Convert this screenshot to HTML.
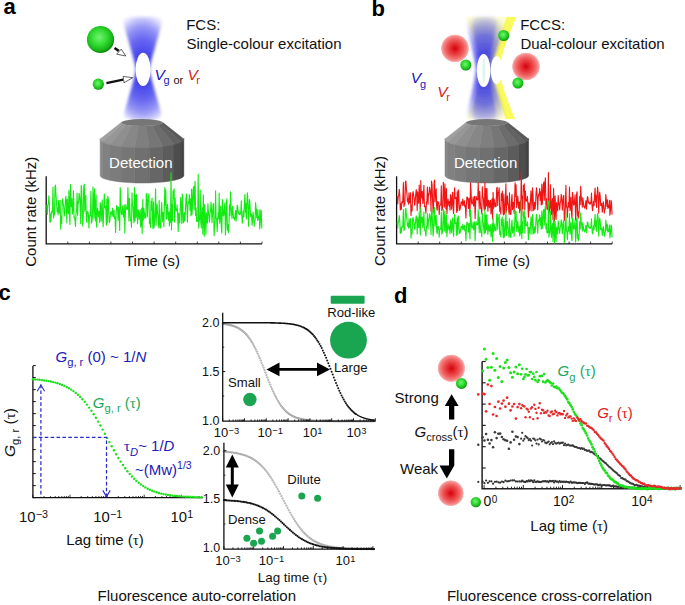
<!DOCTYPE html>
<html><head><meta charset="utf-8"><title>FCS / FCCS</title>
<style>
html,body{margin:0;padding:0;background:#fff;}
body{width:685px;height:605px;overflow:hidden;font-family:"Liberation Sans",sans-serif;}
svg{display:block;}
</style></head><body>
<svg width="685" height="605" viewBox="0 0 685 605">
<rect width="685" height="605" fill="#fff"/>
<defs>
<radialGradient id="gs" cx="0.45" cy="0.42" r="0.6">
 <stop offset="0" stop-color="#72f472"/><stop offset="0.45" stop-color="#36de36"/><stop offset="0.8" stop-color="#18b618"/><stop offset="1" stop-color="#067e06"/>
</radialGradient>
<radialGradient id="rs" cx="0.5" cy="0.5" r="0.5">
 <stop offset="0" stop-color="#d4000c"/><stop offset="0.3" stop-color="#e42c30"/><stop offset="0.62" stop-color="#ee5c5c"/><stop offset="0.86" stop-color="#f58c8c"/><stop offset="0.95" stop-color="#f8a8a8" stop-opacity="0.85"/><stop offset="1" stop-color="#fab8b8" stop-opacity="0"/>
</radialGradient>
<radialGradient id="beam" gradientUnits="userSpaceOnUse" cx="142.7" cy="69.5" r="55" gradientTransform="translate(142.7,69.5) scale(0.62,1) translate(-142.7,-69.5)">
 <stop offset="0" stop-color="#3a3aea"/><stop offset="0.3" stop-color="#4848ec"/><stop offset="0.55" stop-color="#6666f0"/><stop offset="0.78" stop-color="#9696f6"/><stop offset="0.93" stop-color="#cacafb"/><stop offset="1" stop-color="#e8e8ff"/>
</radialGradient>
<radialGradient id="beamb" gradientUnits="userSpaceOnUse" cx="484.5" cy="70" r="57" gradientTransform="translate(484.5,70) scale(0.6,1) translate(-484.5,-70)">
 <stop offset="0" stop-color="#3030e8" stop-opacity="0.72"/><stop offset="0.35" stop-color="#3838ea" stop-opacity="0.64"/><stop offset="0.6" stop-color="#4646ec" stop-opacity="0.52"/><stop offset="0.8" stop-color="#5c5cee" stop-opacity="0.32"/><stop offset="0.93" stop-color="#7070f0" stop-opacity="0.13"/><stop offset="1" stop-color="#8080f4" stop-opacity="0.03"/>
</radialGradient>
<linearGradient id="ybeam" x1="0" y1="0" x2="0" y2="1">
 <stop offset="0" stop-color="#ffffe0"/><stop offset="0.12" stop-color="#ffffa8"/><stop offset="0.5" stop-color="#fbfb78"/><stop offset="0.88" stop-color="#ffffa8"/><stop offset="1" stop-color="#ffffe0"/>
</linearGradient>
<linearGradient id="cyl" x1="0" y1="0" x2="1" y2="0">
 <stop offset="0" stop-color="#888"/><stop offset="0.3" stop-color="#7c7c7c"/><stop offset="0.6" stop-color="#686868"/><stop offset="0.85" stop-color="#4a4a4a"/><stop offset="1" stop-color="#404040"/>
</linearGradient>
<linearGradient id="cone" x1="0" y1="0" x2="1" y2="0">
 <stop offset="0" stop-color="#8e8e8e"/><stop offset="0.35" stop-color="#7e7e7e"/><stop offset="0.65" stop-color="#6e6e6e"/><stop offset="1" stop-color="#555"/>
</linearGradient>
<filter id="bl" x="-20%" y="-20%" width="140%" height="140%"><feGaussianBlur stdDeviation="1.5"/></filter>
<filter id="bl03" x="-5%" y="-5%" width="110%" height="110%"><feGaussianBlur stdDeviation="0.35"/></filter>
<filter id="bl06" x="-20%" y="-20%" width="140%" height="140%"><feGaussianBlur stdDeviation="0.7"/></filter>
<filter id="bl1" x="-20%" y="-20%" width="140%" height="140%"><feGaussianBlur stdDeviation="0.5"/></filter>
</defs>
<text x="3.4" y="14.4" font-size="22" font-weight="bold" font-family="Liberation Sans, sans-serif">a</text>
<path d="M131.1,16.8 L125.2,18.5 L123.8,20.2 L123.3,22.0 L123.5,23.7 L124.0,25.4 L124.5,27.1 L125.0,28.8 L125.5,30.6 L126.0,32.3 L126.5,34.0 L127.0,35.7 L127.5,37.4 L128.0,39.2 L128.5,40.9 L129.0,42.6 L129.5,44.3 L130.0,46.0 L130.4,47.8 L130.9,49.5 L131.4,51.2 L131.9,52.9 L132.4,54.6 L132.9,56.4 L133.4,58.1 L133.8,59.8 L134.3,61.5 L134.7,63.2 L135.1,65.0 L135.4,66.7 L135.7,68.4 L135.7,70.1 L135.5,71.8 L135.2,73.6 L134.8,75.3 L134.4,77.0 L133.9,78.7 L133.5,80.4 L133.0,82.2 L132.5,83.9 L132.0,85.6 L131.6,87.3 L131.1,89.0 L130.6,90.8 L130.1,92.5 L129.6,94.2 L129.1,95.9 L128.6,97.6 L128.1,99.4 L127.6,101.1 L127.1,102.8 L126.6,104.5 L126.1,106.2 L125.6,108.0 L125.2,109.7 L124.7,111.4 L124.2,113.1 L124.0,114.8 L124.4,116.6 L125.8,118.3 L131.4,120.0 L154.0,120.0 L159.6,118.3 L161.0,116.6 L161.4,114.8 L161.2,113.1 L160.7,111.4 L160.2,109.7 L159.8,108.0 L159.3,106.2 L158.8,104.5 L158.3,102.8 L157.8,101.1 L157.3,99.4 L156.8,97.6 L156.3,95.9 L155.8,94.2 L155.3,92.5 L154.8,90.8 L154.3,89.0 L153.8,87.3 L153.4,85.6 L152.9,83.9 L152.4,82.2 L151.9,80.4 L151.5,78.7 L151.0,77.0 L150.6,75.3 L150.2,73.6 L149.9,71.8 L149.7,70.1 L149.7,68.4 L150.0,66.7 L150.3,65.0 L150.7,63.2 L151.1,61.5 L151.6,59.8 L152.0,58.1 L152.5,56.4 L153.0,54.6 L153.5,52.9 L154.0,51.2 L154.5,49.5 L155.0,47.8 L155.4,46.0 L155.9,44.3 L156.4,42.6 L156.9,40.9 L157.4,39.2 L157.9,37.4 L158.4,35.7 L158.9,34.0 L159.4,32.3 L159.9,30.6 L160.4,28.8 L160.9,27.1 L161.4,25.4 L161.9,23.7 L162.1,22.0 L161.6,20.2 L160.2,18.5 L154.3,16.8Z" fill="url(#beam)" filter="url(#bl)"/>
<ellipse cx="143.1" cy="69.4" rx="7.5" ry="16.6" fill="#fff" filter="url(#bl03)"/>
<circle cx="100.5" cy="39.5" r="13.6" fill="url(#gs)"/>
<circle cx="98.3" cy="84.2" r="5.6" fill="url(#gs)"/>
<line x1="114.5" y1="48.0" x2="118.8" y2="50.8" stroke="#111" stroke-width="2.6"/>
<path d="M121.2,49.2 L116.6,54.2 L125.8,56 Z" fill="#fff" stroke="#222" stroke-width="0.7"/>
<line x1="106.4" y1="83.2" x2="123.2" y2="79.6" stroke="#111" stroke-width="2.2"/>
<path d="M123.2,76.4 L124.0,82.8 L132.7,77.7 Z" fill="#fff" stroke="#222" stroke-width="0.7"/>
<text x="186.2" y="29.7" font-size="15" font-family="Liberation Sans, sans-serif" fill="#111">FCS:</text>
<text x="186.4" y="48.6" font-size="15" font-family="Liberation Sans, sans-serif" fill="#111">Single-colour excitation</text>
<text x="154.6" y="80" font-size="15.5" font-style="italic" font-family="Liberation Sans, sans-serif" fill="#2020b8">V</text>
<text x="163.4" y="84.0" font-size="11" font-family="Liberation Sans, sans-serif" fill="#2020b8">g</text>
<text x="173.4" y="83.9" font-size="11" font-family="Liberation Sans, sans-serif" fill="#111">or</text>
<text x="187.6" y="80" font-size="15.5" font-style="italic" font-family="Liberation Sans, sans-serif" fill="#dc2024">V</text>
<text x="196.3" y="84.2" font-size="11" font-family="Liberation Sans, sans-serif" fill="#dc2024">r</text>
<g filter="url(#bl03)"><polygon points="100.20,138.40 100.36,139.16 100.84,139.91 101.62,140.65 102.72,141.38 102.72,178.07 101.62,177.44 100.84,176.80 100.36,176.15 100.20,175.50" fill="rgb(134,134,134)" stroke="rgb(134,134,134)" stroke-width="0.5"/><polygon points="102.72,141.38 104.12,142.08 105.80,142.75 107.76,143.39 109.98,143.99 109.98,180.32 107.76,179.80 105.80,179.25 104.12,178.67 102.72,178.07" fill="rgb(129,129,129)" stroke="rgb(129,129,129)" stroke-width="0.5"/><polygon points="109.98,143.99 112.44,144.55 115.13,145.06 118.02,145.53 121.10,145.93 121.10,182.00 118.02,181.64 115.13,181.25 112.44,180.80 109.98,180.32" fill="rgb(124,124,124)" stroke="rgb(124,124,124)" stroke-width="0.5"/><polygon points="121.10,145.93 124.33,146.28 127.70,146.58 131.18,146.80 134.74,146.97 134.74,182.89 131.18,182.74 127.70,182.55 124.33,182.30 121.10,182.00" fill="rgb(118,118,118)" stroke="rgb(118,118,118)" stroke-width="0.5"/><polygon points="134.74,146.97 138.36,147.07 142.00,147.10 145.64,147.07 149.26,146.97 149.26,182.89 145.64,182.97 142.00,183.00 138.36,182.97 134.74,182.89" fill="rgb(111,111,111)" stroke="rgb(111,111,111)" stroke-width="0.5"/><polygon points="149.26,146.97 152.82,146.80 156.30,146.58 159.67,146.28 162.90,145.93 162.90,182.00 159.67,182.30 156.30,182.55 152.82,182.74 149.26,182.89" fill="rgb(102,102,102)" stroke="rgb(102,102,102)" stroke-width="0.5"/><polygon points="162.90,145.93 165.98,145.53 168.87,145.06 171.56,144.55 174.02,143.99 174.02,180.32 171.56,180.80 168.87,181.25 165.98,181.64 162.90,182.00" fill="rgb(91,91,91)" stroke="rgb(91,91,91)" stroke-width="0.5"/><polygon points="174.02,143.99 176.24,143.39 178.20,142.75 179.88,142.08 181.28,141.38 181.28,178.07 179.88,178.67 178.20,179.25 176.24,179.80 174.02,180.32" fill="rgb(77,77,77)" stroke="rgb(77,77,77)" stroke-width="0.5"/><polygon points="181.28,141.38 182.38,140.65 183.16,139.91 183.64,139.16 183.80,138.40 183.80,175.50 183.64,176.15 183.16,176.80 182.38,177.44 181.28,178.07" fill="rgb(63,63,63)" stroke="rgb(63,63,63)" stroke-width="0.5"/><polygon points="121.10,122.60 121.18,122.90 121.42,123.19 121.81,123.48 122.36,123.76 102.72,141.98 101.62,141.25 100.84,140.51 100.36,139.76 100.20,139.00" fill="rgb(160,160,160)" stroke="rgb(160,160,160)" stroke-width="0.5"/><polygon points="122.36,123.76 123.06,124.04 123.90,124.30 124.88,124.55 125.99,124.79 109.98,144.59 107.76,143.99 105.80,143.35 104.12,142.68 102.72,141.98" fill="rgb(151,151,151)" stroke="rgb(151,151,151)" stroke-width="0.5"/><polygon points="125.99,124.79 127.22,125.00 128.57,125.20 130.01,125.39 131.55,125.54 121.10,146.53 118.02,146.13 115.13,145.66 112.44,145.15 109.98,144.59" fill="rgb(143,143,143)" stroke="rgb(143,143,143)" stroke-width="0.5"/><polygon points="131.55,125.54 133.17,125.68 134.85,125.79 136.59,125.88 138.37,125.95 134.74,147.57 131.18,147.40 127.70,147.18 124.33,146.88 121.10,146.53" fill="rgb(135,135,135)" stroke="rgb(135,135,135)" stroke-width="0.5"/><polygon points="138.37,125.95 140.18,125.99 142.00,126.00 143.82,125.99 145.63,125.95 149.26,147.57 145.64,147.67 142.00,147.70 138.36,147.67 134.74,147.57" fill="rgb(127,127,127)" stroke="rgb(127,127,127)" stroke-width="0.5"/><polygon points="145.63,125.95 147.41,125.88 149.15,125.79 150.83,125.68 152.45,125.54 162.90,146.53 159.67,146.88 156.30,147.18 152.82,147.40 149.26,147.57" fill="rgb(118,118,118)" stroke="rgb(118,118,118)" stroke-width="0.5"/><polygon points="152.45,125.54 153.99,125.39 155.43,125.20 156.78,125.00 158.01,124.79 174.02,144.59 171.56,145.15 168.87,145.66 165.98,146.13 162.90,146.53" fill="rgb(108,108,108)" stroke="rgb(108,108,108)" stroke-width="0.5"/><polygon points="158.01,124.79 159.12,124.55 160.10,124.30 160.94,124.04 161.64,123.76 181.28,141.98 179.88,142.68 178.20,143.35 176.24,143.99 174.02,144.59" fill="rgb(98,98,98)" stroke="rgb(98,98,98)" stroke-width="0.5"/><polygon points="161.64,123.76 162.19,123.48 162.58,123.19 162.82,122.90 162.90,122.60 183.80,139.00 183.64,139.76 183.16,140.51 182.38,141.25 181.28,141.98" fill="rgb(88,88,88)" stroke="rgb(88,88,88)" stroke-width="0.5"/></g>
<ellipse cx="142.0" cy="122.6" rx="20.9" ry="3.5" fill="#767676"/>
<text x="140.8" y="167.5" font-size="15" font-family="Liberation Sans, sans-serif" fill="#fff" text-anchor="middle">Detection</text>
<path d="M46.2,176.3 L46.2,243.8 L262,243.8" fill="none" stroke="#111" stroke-width="1.3"/>
<line x1="67.8" y1="243.8" x2="67.8" y2="241.6" stroke="#111" stroke-width="0.8"/>
<line x1="89.4" y1="243.8" x2="89.4" y2="241.6" stroke="#111" stroke-width="0.8"/>
<line x1="110.9" y1="243.8" x2="110.9" y2="241.6" stroke="#111" stroke-width="0.8"/>
<line x1="132.5" y1="243.8" x2="132.5" y2="241.6" stroke="#111" stroke-width="0.8"/>
<line x1="154.1" y1="243.8" x2="154.1" y2="241.6" stroke="#111" stroke-width="0.8"/>
<line x1="175.7" y1="243.8" x2="175.7" y2="241.6" stroke="#111" stroke-width="0.8"/>
<line x1="197.3" y1="243.8" x2="197.3" y2="241.6" stroke="#111" stroke-width="0.8"/>
<line x1="218.8" y1="243.8" x2="218.8" y2="241.6" stroke="#111" stroke-width="0.8"/>
<line x1="240.4" y1="243.8" x2="240.4" y2="241.6" stroke="#111" stroke-width="0.8"/>
<line x1="262.0" y1="243.8" x2="262.0" y2="241.6" stroke="#111" stroke-width="0.8"/>
<polyline points="46.8,204.7 47.3,214.4 47.8,205.4 48.3,203.9 48.9,195.9 49.4,204.7 49.9,222.1 50.4,214.2 50.9,221.6 51.4,211.9 51.9,213.3 52.4,210.7 53.0,187.1 53.5,217.9 54.0,215.0 54.5,214.8 55.0,187.1 55.5,185.1 56.0,195.8 56.5,201.7 57.1,211.7 57.6,207.8 58.1,214.7 58.6,200.5 59.1,211.7 59.6,213.3 60.1,200.2 60.7,229.3 61.2,216.2 61.7,223.6 62.2,201.3 62.7,198.7 63.2,203.5 63.7,206.7 64.2,216.1 64.8,211.8 65.3,203.0 65.8,196.3 66.3,201.3 66.8,223.0 67.3,199.2 67.8,210.9 68.4,213.7 68.9,190.4 69.4,208.1 69.9,224.4 70.4,184.6 70.9,203.3 71.4,206.9 71.9,198.4 72.5,214.0 73.0,208.0 73.5,190.7 74.0,217.6 74.5,217.0 75.0,220.4 75.5,226.5 76.0,213.8 76.6,210.3 77.1,193.0 77.6,215.2 78.1,201.6 78.6,202.9 79.1,193.2 79.6,196.3 80.2,201.7 80.7,223.7 81.2,185.3 81.7,190.3 82.2,210.7 82.7,226.0 83.2,216.5 83.7,186.7 84.3,184.0 84.8,211.6 85.3,200.4 85.8,195.3 86.3,219.8 86.8,222.4 87.3,211.5 87.9,212.0 88.4,214.3 88.9,227.9 89.4,217.2 89.9,215.5 90.4,215.8 90.9,191.2 91.4,223.1 92.0,221.0 92.5,215.9 93.0,186.7 93.5,200.8 94.0,218.6 94.5,188.9 95.0,206.2 95.5,220.9 96.1,194.8 96.6,227.1 97.1,216.6 97.6,208.0 98.1,213.1 98.6,217.0 99.1,211.2 99.7,222.6 100.2,202.6 100.7,204.5 101.2,221.1 101.7,210.4 102.2,199.7 102.7,219.8 103.2,226.7 103.8,205.5 104.3,193.9 104.8,207.4 105.3,207.9 105.8,206.3 106.3,225.3 106.8,199.1 107.3,223.3 107.9,196.3 108.4,200.4 108.9,216.4 109.4,222.7 109.9,220.1 110.4,214.2 110.9,211.7 111.5,211.7 112.0,216.4 112.5,208.4 113.0,213.0 113.5,216.5 114.0,210.4 114.5,218.5 115.0,216.7 115.6,232.4 116.1,214.8 116.6,205.7 117.1,205.9 117.6,209.8 118.1,220.2 118.6,207.1 119.2,214.3 119.7,230.4 120.2,187.6 120.7,196.8 121.2,212.3 121.7,214.7 122.2,213.1 122.7,205.8 123.3,217.2 123.8,213.8 124.3,204.9 124.8,233.1 125.3,215.5 125.8,204.6 126.3,209.0 126.8,207.9 127.4,209.6 127.9,187.6 128.4,203.6 128.9,221.0 129.4,198.3 129.9,209.1 130.4,220.8 131.0,220.3 131.5,227.2 132.0,192.8 132.5,205.7 133.0,206.5 133.5,217.1 134.0,222.7 134.5,187.6 135.1,221.0 135.6,195.2 136.1,217.2 136.6,194.6 137.1,211.7 137.6,223.7 138.1,209.6 138.6,212.6 139.2,219.4 139.7,212.6 140.2,209.7 140.7,227.3 141.2,222.9 141.7,208.0 142.2,233.6 142.8,199.5 143.3,220.1 143.8,208.2 144.3,212.0 144.8,218.5 145.3,213.5 145.8,217.8 146.3,194.2 146.9,193.3 147.4,216.6 147.9,200.4 148.4,198.9 148.9,193.9 149.4,223.8 149.9,219.6 150.5,227.4 151.0,201.2 151.5,210.3 152.0,198.1 152.5,218.6 153.0,228.7 153.5,201.8 154.0,227.6 154.6,222.5 155.1,209.4 155.6,188.9 156.1,225.3 156.6,210.5 157.1,204.1 157.6,214.9 158.1,215.6 158.7,227.7 159.2,200.4 159.7,222.9 160.2,228.0 160.7,227.8 161.2,209.7 161.7,202.6 162.3,221.8 162.8,212.7 163.3,212.4 163.8,226.8 164.3,208.8 164.8,187.6 165.3,205.3 165.8,190.0 166.4,219.0 166.9,214.9 167.4,204.4 167.9,210.5 168.4,220.2 168.9,212.3 169.4,225.9 170.0,211.1 170.5,222.6 171.0,172.7 171.5,229.9 172.0,204.6 172.5,220.7 173.0,190.7 173.5,198.1 174.1,188.7 174.6,222.1 175.1,198.1 175.6,210.6 176.1,209.2 176.6,211.0 177.1,204.9 177.6,213.8 178.2,231.6 178.7,213.1 179.2,217.6 179.7,223.1 180.2,210.0 180.7,197.6 181.2,204.8 181.8,223.4 182.3,194.0 182.8,204.3 183.3,222.7 183.8,221.3 184.3,212.5 184.8,221.0 185.3,214.3 185.9,199.0 186.4,194.0 186.9,204.1 187.4,222.1 187.9,206.4 188.4,201.9 188.9,203.1 189.4,194.8 190.0,210.1 190.5,199.1 191.0,215.8 191.5,189.0 192.0,214.8 192.5,205.5 193.0,190.5 193.6,186.5 194.1,209.9 194.6,189.2 195.1,181.3 195.6,215.4 196.1,207.8 196.6,221.2 197.1,221.6 197.7,220.7 198.2,174.4 198.7,228.0 199.2,221.1 199.7,218.4 200.2,190.0 200.7,221.8 201.3,228.0 201.8,210.5 202.3,207.7 202.8,234.3 203.3,194.7 203.8,217.3 204.3,236.2 204.8,204.2 205.4,220.2 205.9,234.2 206.4,212.8 206.9,219.2 207.4,223.3 207.9,203.7 208.4,211.7 208.9,216.2 209.5,222.3 210.0,213.2 210.5,211.0 211.0,202.1 211.5,208.7 212.0,222.6 212.5,214.7 213.1,204.1 213.6,203.7 214.1,235.7 214.6,226.8 215.1,220.7 215.6,190.8 216.1,218.5 216.6,218.6 217.2,231.4 217.7,218.7 218.2,212.8 218.7,218.8 219.2,193.0 219.7,223.2 220.2,217.2 220.7,206.1 221.3,226.9 221.8,233.0 222.3,199.6 222.8,205.7 223.3,216.0 223.8,215.4 224.3,209.3 224.9,203.0 225.4,234.9 225.9,225.2 226.4,201.6 226.9,198.9 227.4,230.3 227.9,224.5 228.4,232.7 229.0,222.7 229.5,204.9 230.0,215.7 230.5,191.9 231.0,204.7 231.5,212.4 232.0,218.7 232.6,206.3 233.1,211.9 233.6,218.1 234.1,217.5 234.6,220.2 235.1,215.9 235.6,210.3 236.1,221.1 236.7,214.2 237.2,205.1 237.7,206.6 238.2,212.9 238.7,212.0 239.2,214.6 239.7,213.1 240.2,214.7 240.8,211.7 241.3,200.7 241.8,216.3 242.3,223.1 242.8,217.4 243.3,211.1 243.8,216.8 244.4,203.7 244.9,194.2 245.4,212.2 245.9,203.7 246.4,218.9 246.9,202.6 247.4,192.9 247.9,201.5 248.5,226.2 249.0,209.4 249.5,199.5 250.0,204.5 250.5,216.4 251.0,216.7 251.5,213.8 252.1,225.3 252.6,218.8 253.1,212.0 253.6,217.0 254.1,226.5 254.6,220.9 255.1,221.0 255.6,202.6 256.2,209.8 256.7,217.7 257.2,209.2 257.7,220.4 258.2,216.9 258.7,219.3 259.2,209.8 259.7,228.9 260.3,222.6 260.8,209.9 261.3,211.7 261.8,228.4" fill="none" stroke="#12ea12" stroke-width="1.1" stroke-linejoin="round"/>
<text transform="translate(36.0,211.7) rotate(-90)" font-size="15" font-family="Liberation Sans, sans-serif" fill="#111" text-anchor="middle">Count rate (kHz)</text>
<text x="152.4" y="266.4" font-size="15.2" font-family="Liberation Sans, sans-serif" fill="#111" text-anchor="middle">Time (s)</text>
<text x="371.5" y="15.8" font-size="22" font-weight="bold" font-family="Liberation Sans, sans-serif">b</text>
<path d="M465.5,16.5 L466.6,19.1 L467.7,21.6 L468.7,24.2 L469.8,26.8 L470.8,29.4 L471.9,31.9 L472.9,34.5 L473.9,37.1 L474.8,39.7 L475.8,42.2 L476.7,44.8 L477.6,47.4 L478.4,50.0 L479.2,52.5 L479.9,55.1 L480.6,57.7 L481.1,60.3 L481.5,62.9 L481.8,65.4 L482.0,68.0 L482.0,70.6 L481.9,73.2 L481.6,75.7 L481.2,78.3 L480.6,80.9 L480.0,83.5 L479.3,86.0 L478.6,88.6 L477.7,91.2 L476.9,93.8 L475.9,96.3 L475.0,98.9 L474.0,101.5 L473.0,104.0 L472.0,106.6 L471.0,109.2 L470.0,111.8 L468.9,114.3 L467.8,116.9 L466.8,119.5 L515.2,119.5 L514.2,116.9 L513.1,114.3 L512.0,111.8 L511.0,109.2 L510.0,106.6 L509.0,104.0 L508.0,101.5 L507.0,98.9 L506.1,96.3 L505.1,93.8 L504.3,91.2 L503.4,88.6 L502.7,86.0 L502.0,83.5 L501.4,80.9 L500.8,78.3 L500.4,75.7 L500.1,73.2 L500.0,70.6 L500.0,68.0 L500.2,65.4 L500.5,62.9 L500.9,60.3 L501.4,57.7 L502.1,55.1 L502.8,52.5 L503.6,50.0 L504.4,47.4 L505.3,44.8 L506.2,42.2 L507.2,39.7 L508.1,37.1 L509.1,34.5 L510.1,31.9 L511.2,29.4 L512.2,26.8 L513.3,24.2 L514.3,21.6 L515.4,19.1 L516.5,16.5Z" fill="url(#ybeam)" filter="url(#bl06)"/>
<path d="M516.3,17.0 L515.2,19.6 L514.2,22.1 L513.1,24.6 L512.1,27.2 L511.0,29.8 L510.0,32.3 L509.0,34.9 L508.0,37.4 L507.1,40.0 L506.1,42.5 L505.2,45.0 L504.3,47.6 L503.5,50.1 L502.8,52.7 L502.1,55.2 L501.4,57.8 L500.9,60.4 L500.5,62.9 L500.2,65.5 L500.0,68.0 L500.0,70.5 L500.1,73.1 L500.4,75.7 L500.8,78.2 L501.3,80.8 L501.9,83.3 L502.6,85.8 L503.4,88.4 L504.2,91.0 L505.1,93.5 L506.0,96.0 L506.9,98.6 L507.8,101.2 L508.8,103.7 L509.8,106.2 L510.8,108.8 L511.9,111.3 L512.9,113.9 L514.0,116.5 L515.0,119.0 L505.6,119.0 L504.8,116.5 L504.0,113.9 L503.3,111.3 L502.5,108.8 L501.8,106.2 L501.1,103.7 L500.4,101.2 L499.7,98.6 L499.0,96.0 L498.4,93.5 L497.8,91.0 L497.3,88.4 L496.8,85.8 L496.4,83.3 L496.1,80.8 L495.9,78.2 L495.7,75.7 L495.7,73.1 L495.9,70.5 L495.9,68.0 L495.7,65.5 L495.8,62.9 L495.9,60.4 L496.1,57.8 L496.5,55.2 L496.9,52.7 L497.4,50.1 L497.9,47.6 L498.5,45.0 L499.2,42.5 L499.8,40.0 L500.5,37.4 L501.2,34.9 L501.9,32.3 L502.7,29.8 L503.4,27.2 L504.2,24.6 L504.9,22.1 L505.7,19.6 L506.8,17.0Z" fill="#fafa5a" filter="url(#bl06)"/>
<path d="M473.3,16.8 L468.1,18.5 L466.8,20.2 L466.4,22.0 L466.5,23.7 L466.8,25.4 L467.2,27.1 L467.6,28.8 L468.0,30.6 L468.3,32.3 L468.7,34.0 L469.1,35.7 L469.5,37.4 L469.8,39.2 L470.2,40.9 L470.6,42.6 L471.0,44.3 L471.3,46.0 L471.7,47.8 L472.1,49.5 L472.5,51.2 L472.8,52.9 L473.2,54.6 L473.6,56.4 L473.9,58.1 L474.3,59.8 L474.6,61.5 L475.0,63.2 L475.3,65.0 L475.5,66.7 L475.7,68.4 L475.8,70.1 L475.7,71.8 L475.5,73.6 L475.2,75.3 L474.9,77.0 L474.6,78.7 L474.2,80.4 L473.9,82.2 L473.5,83.9 L473.1,85.6 L472.8,87.3 L472.4,89.0 L472.0,90.8 L471.7,92.5 L471.3,94.2 L470.9,95.9 L470.5,97.6 L470.2,99.4 L469.8,101.1 L469.4,102.8 L469.0,104.5 L468.7,106.2 L468.3,108.0 L467.9,109.7 L467.5,111.4 L467.2,113.1 L467.0,114.8 L467.5,116.6 L468.7,118.3 L473.7,120.0 L496.3,120.0 L502.6,118.3 L504.1,116.6 L504.6,114.8 L504.4,113.1 L503.8,111.4 L503.2,109.7 L502.7,108.0 L502.1,106.2 L501.5,104.5 L501.0,102.8 L500.4,101.1 L499.9,99.4 L499.3,97.6 L498.7,95.9 L498.2,94.2 L497.6,92.5 L497.1,90.8 L496.5,89.0 L495.9,87.3 L495.4,85.6 L494.8,83.9 L494.3,82.2 L493.8,80.4 L493.2,78.7 L492.7,77.0 L492.3,75.3 L491.8,73.6 L491.5,71.8 L491.4,70.1 L491.5,68.4 L491.8,66.7 L492.2,65.0 L492.7,63.2 L493.2,61.5 L493.7,59.8 L494.2,58.1 L494.8,56.4 L495.3,54.6 L495.9,52.9 L496.4,51.2 L497.0,49.5 L497.5,47.8 L498.1,46.0 L498.7,44.3 L499.2,42.6 L499.8,40.9 L500.3,39.2 L500.9,37.4 L501.5,35.7 L502.0,34.0 L502.6,32.3 L503.2,30.6 L503.7,28.8 L504.3,27.1 L504.9,25.4 L505.4,23.7 L505.6,22.0 L505.1,20.2 L503.5,18.5 L496.8,16.8Z" fill="url(#beamb)" filter="url(#bl)"/>
<path d="M476.8,16.8 L473.3,18.5 L472.5,20.2 L472.2,22.0 L472.2,23.7 L472.5,25.4 L472.7,27.1 L473.0,28.8 L473.3,30.6 L473.5,32.3 L473.8,34.0 L474.0,35.7 L474.3,37.4 L474.5,39.2 L474.8,40.9 L475.0,42.6 L475.3,44.3 L475.6,46.0 L475.8,47.8 L476.1,49.5 L476.3,51.2 L476.6,52.9 L476.8,54.6 L477.1,56.4 L477.3,58.1 L477.6,59.8 L477.8,61.5 L478.0,63.2 L478.2,65.0 L478.4,66.7 L478.6,68.4 L478.6,70.1 L478.5,71.8 L478.4,73.6 L478.2,75.3 L478.0,77.0 L477.8,78.7 L477.5,80.4 L477.3,82.2 L477.0,83.9 L476.8,85.6 L476.5,87.3 L476.3,89.0 L476.0,90.8 L475.8,92.5 L475.5,94.2 L475.3,95.9 L475.0,97.6 L474.8,99.4 L474.5,101.1 L474.2,102.8 L474.0,104.5 L473.7,106.2 L473.5,108.0 L473.2,109.7 L473.0,111.4 L472.7,113.1 L472.6,114.8 L472.9,116.6 L473.7,118.3 L477.0,120.0 L491.2,120.0 L495.0,118.3 L495.9,116.6 L496.2,114.8 L496.1,113.1 L495.7,111.4 L495.4,109.7 L495.1,108.0 L494.8,106.2 L494.4,104.5 L494.1,102.8 L493.8,101.1 L493.5,99.4 L493.1,97.6 L492.8,95.9 L492.5,94.2 L492.2,92.5 L491.9,90.8 L491.5,89.0 L491.2,87.3 L490.9,85.6 L490.6,83.9 L490.3,82.2 L490.0,80.4 L489.7,78.7 L489.4,77.0 L489.1,75.3 L488.9,73.6 L488.7,71.8 L488.6,70.1 L488.7,68.4 L488.8,66.7 L489.1,65.0 L489.3,63.2 L489.6,61.5 L489.9,59.8 L490.2,58.1 L490.5,56.4 L490.9,54.6 L491.2,52.9 L491.5,51.2 L491.8,49.5 L492.1,47.8 L492.5,46.0 L492.8,44.3 L493.1,42.6 L493.4,40.9 L493.7,39.2 L494.1,37.4 L494.4,35.7 L494.7,34.0 L495.0,32.3 L495.4,30.6 L495.7,28.8 L496.0,27.1 L496.3,25.4 L496.7,23.7 L496.8,22.0 L496.5,20.2 L495.5,18.5 L491.5,16.8Z" fill="url(#beamb)" filter="url(#bl)"/>
<ellipse cx="496.6" cy="70.2" rx="5.9" ry="14" fill="#fff" filter="url(#bl1)"/>
<ellipse cx="483.6" cy="70.5" rx="6.8" ry="16.6" fill="#fff" filter="url(#bl1)"/>
<ellipse cx="483.9" cy="70.8" rx="1.5" ry="12.5" fill="#c8f0e0" opacity="0.6" filter="url(#bl1)"/>
<circle cx="455" cy="48.4" r="14.2" fill="url(#rs)"/>
<circle cx="526" cy="66.5" r="14.2" fill="url(#rs)"/>
<circle cx="503.7" cy="35.5" r="5.5" fill="url(#gs)"/>
<circle cx="465.8" cy="65" r="5.5" fill="url(#gs)"/>
<circle cx="517.9" cy="83.1" r="5.5" fill="url(#gs)"/>
<text x="410.8" y="82.9" font-size="15.5" font-style="italic" font-family="Liberation Sans, sans-serif" fill="#2020b8">V</text>
<text x="420.0" y="87.5" font-size="11" font-family="Liberation Sans, sans-serif" fill="#2020b8">g</text>
<text x="437.2" y="96.6" font-size="15.5" font-style="italic" font-family="Liberation Sans, sans-serif" fill="#dc2024">V</text>
<text x="446.2" y="101.2" font-size="11" font-family="Liberation Sans, sans-serif" fill="#dc2024">r</text>
<text x="520.2" y="30.2" font-size="15" font-family="Liberation Sans, sans-serif" fill="#111">FCCS:</text>
<text x="520.4" y="48.6" font-size="15" font-family="Liberation Sans, sans-serif" fill="#111">Dual-colour excitation</text>
<g filter="url(#bl03)"><polygon points="445.00,138.40 445.16,139.16 445.64,139.91 446.42,140.65 447.52,141.38 447.52,178.07 446.42,177.44 445.64,176.80 445.16,176.15 445.00,175.50" fill="rgb(134,134,134)" stroke="rgb(134,134,134)" stroke-width="0.5"/><polygon points="447.52,141.38 448.92,142.08 450.60,142.75 452.56,143.39 454.78,143.99 454.78,180.32 452.56,179.80 450.60,179.25 448.92,178.67 447.52,178.07" fill="rgb(129,129,129)" stroke="rgb(129,129,129)" stroke-width="0.5"/><polygon points="454.78,143.99 457.24,144.55 459.93,145.06 462.82,145.53 465.90,145.93 465.90,182.00 462.82,181.64 459.93,181.25 457.24,180.80 454.78,180.32" fill="rgb(124,124,124)" stroke="rgb(124,124,124)" stroke-width="0.5"/><polygon points="465.90,145.93 469.13,146.28 472.50,146.58 475.98,146.80 479.54,146.97 479.54,182.89 475.98,182.74 472.50,182.55 469.13,182.30 465.90,182.00" fill="rgb(118,118,118)" stroke="rgb(118,118,118)" stroke-width="0.5"/><polygon points="479.54,146.97 483.16,147.07 486.80,147.10 490.44,147.07 494.06,146.97 494.06,182.89 490.44,182.97 486.80,183.00 483.16,182.97 479.54,182.89" fill="rgb(111,111,111)" stroke="rgb(111,111,111)" stroke-width="0.5"/><polygon points="494.06,146.97 497.62,146.80 501.10,146.58 504.47,146.28 507.70,145.93 507.70,182.00 504.47,182.30 501.10,182.55 497.62,182.74 494.06,182.89" fill="rgb(102,102,102)" stroke="rgb(102,102,102)" stroke-width="0.5"/><polygon points="507.70,145.93 510.78,145.53 513.67,145.06 516.36,144.55 518.82,143.99 518.82,180.32 516.36,180.80 513.67,181.25 510.78,181.64 507.70,182.00" fill="rgb(91,91,91)" stroke="rgb(91,91,91)" stroke-width="0.5"/><polygon points="518.82,143.99 521.04,143.39 523.00,142.75 524.68,142.08 526.08,141.38 526.08,178.07 524.68,178.67 523.00,179.25 521.04,179.80 518.82,180.32" fill="rgb(77,77,77)" stroke="rgb(77,77,77)" stroke-width="0.5"/><polygon points="526.08,141.38 527.18,140.65 527.96,139.91 528.44,139.16 528.60,138.40 528.60,175.50 528.44,176.15 527.96,176.80 527.18,177.44 526.08,178.07" fill="rgb(63,63,63)" stroke="rgb(63,63,63)" stroke-width="0.5"/><polygon points="465.90,122.60 465.98,122.90 466.22,123.19 466.61,123.48 467.16,123.76 447.52,141.98 446.42,141.25 445.64,140.51 445.16,139.76 445.00,139.00" fill="rgb(160,160,160)" stroke="rgb(160,160,160)" stroke-width="0.5"/><polygon points="467.16,123.76 467.86,124.04 468.70,124.30 469.68,124.55 470.79,124.79 454.78,144.59 452.56,143.99 450.60,143.35 448.92,142.68 447.52,141.98" fill="rgb(151,151,151)" stroke="rgb(151,151,151)" stroke-width="0.5"/><polygon points="470.79,124.79 472.02,125.00 473.37,125.20 474.81,125.39 476.35,125.54 465.90,146.53 462.82,146.13 459.93,145.66 457.24,145.15 454.78,144.59" fill="rgb(143,143,143)" stroke="rgb(143,143,143)" stroke-width="0.5"/><polygon points="476.35,125.54 477.97,125.68 479.65,125.79 481.39,125.88 483.17,125.95 479.54,147.57 475.98,147.40 472.50,147.18 469.13,146.88 465.90,146.53" fill="rgb(135,135,135)" stroke="rgb(135,135,135)" stroke-width="0.5"/><polygon points="483.17,125.95 484.98,125.99 486.80,126.00 488.62,125.99 490.43,125.95 494.06,147.57 490.44,147.67 486.80,147.70 483.16,147.67 479.54,147.57" fill="rgb(127,127,127)" stroke="rgb(127,127,127)" stroke-width="0.5"/><polygon points="490.43,125.95 492.21,125.88 493.95,125.79 495.63,125.68 497.25,125.54 507.70,146.53 504.47,146.88 501.10,147.18 497.62,147.40 494.06,147.57" fill="rgb(118,118,118)" stroke="rgb(118,118,118)" stroke-width="0.5"/><polygon points="497.25,125.54 498.79,125.39 500.23,125.20 501.58,125.00 502.81,124.79 518.82,144.59 516.36,145.15 513.67,145.66 510.78,146.13 507.70,146.53" fill="rgb(108,108,108)" stroke="rgb(108,108,108)" stroke-width="0.5"/><polygon points="502.81,124.79 503.92,124.55 504.90,124.30 505.74,124.04 506.44,123.76 526.08,141.98 524.68,142.68 523.00,143.35 521.04,143.99 518.82,144.59" fill="rgb(98,98,98)" stroke="rgb(98,98,98)" stroke-width="0.5"/><polygon points="506.44,123.76 506.99,123.48 507.38,123.19 507.62,122.90 507.70,122.60 528.60,139.00 528.44,139.76 527.96,140.51 527.18,141.25 526.08,141.98" fill="rgb(88,88,88)" stroke="rgb(88,88,88)" stroke-width="0.5"/></g>
<ellipse cx="486.8" cy="122.6" rx="20.9" ry="3.5" fill="#767676"/>
<text x="485.6" y="167.5" font-size="15" font-family="Liberation Sans, sans-serif" fill="#fff" text-anchor="middle">Detection</text>
<path d="M396.6,176.3 L396.6,243.8 L612.2,243.8" fill="none" stroke="#111" stroke-width="1.3"/>
<line x1="418.2" y1="243.8" x2="418.2" y2="241.6" stroke="#111" stroke-width="0.8"/>
<line x1="439.7" y1="243.8" x2="439.7" y2="241.6" stroke="#111" stroke-width="0.8"/>
<line x1="461.3" y1="243.8" x2="461.3" y2="241.6" stroke="#111" stroke-width="0.8"/>
<line x1="482.8" y1="243.8" x2="482.8" y2="241.6" stroke="#111" stroke-width="0.8"/>
<line x1="504.4" y1="243.8" x2="504.4" y2="241.6" stroke="#111" stroke-width="0.8"/>
<line x1="526.0" y1="243.8" x2="526.0" y2="241.6" stroke="#111" stroke-width="0.8"/>
<line x1="547.5" y1="243.8" x2="547.5" y2="241.6" stroke="#111" stroke-width="0.8"/>
<line x1="569.1" y1="243.8" x2="569.1" y2="241.6" stroke="#111" stroke-width="0.8"/>
<line x1="590.6" y1="243.8" x2="590.6" y2="241.6" stroke="#111" stroke-width="0.8"/>
<line x1="612.2" y1="243.8" x2="612.2" y2="241.6" stroke="#111" stroke-width="0.8"/>
<polyline points="397.2,196.3 397.7,203.9 398.2,196.8 398.7,195.6 399.3,189.4 399.8,196.3 400.3,209.9 400.8,203.7 401.3,209.5 401.8,201.9 402.3,203.0 402.8,201.0 403.4,182.5 403.9,206.6 404.4,204.3 404.9,204.1 405.4,182.5 405.9,180.9 406.4,189.3 406.9,193.9 407.5,201.7 408.0,198.7 408.5,204.1 409.0,192.9 409.5,201.7 410.0,203.0 410.5,192.7 411.0,215.5 411.6,205.3 412.1,211.0 412.6,193.6 413.1,191.6 413.6,195.3 414.1,197.8 414.6,205.1 415.1,201.8 415.7,194.9 416.2,189.6 416.7,193.6 417.2,210.6 417.7,191.9 418.2,201.1 418.7,203.3 419.2,185.1 419.8,198.9 420.3,211.6 420.8,180.5 421.3,195.2 421.8,198.0 422.3,191.3 422.8,203.5 423.3,198.8 423.9,185.3 424.4,206.4 424.9,205.9 425.4,208.5 425.9,213.3 426.4,203.4 426.9,200.6 427.4,187.1 428.0,204.5 428.5,193.8 429.0,194.8 429.5,187.3 430.0,189.7 430.5,193.9 431.0,211.1 431.5,181.1 432.1,184.9 432.6,200.9 433.1,212.9 433.6,205.5 434.1,182.2 434.6,180.1 435.1,201.6 435.6,192.8 436.2,188.9 436.7,208.0 437.2,210.1 437.7,201.6 438.2,202.0 438.7,203.7 439.2,214.4 439.7,206.1 440.3,204.7 440.8,204.9 441.3,185.7 441.8,210.7 442.3,209.0 442.8,205.0 443.3,182.2 443.9,193.2 444.4,207.1 444.9,183.8 445.4,197.4 445.9,208.9 446.4,188.5 446.9,213.8 447.4,205.5 448.0,198.9 448.5,202.8 449.0,205.9 449.5,201.3 450.0,210.3 450.5,194.6 451.0,196.1 451.5,209.1 452.1,200.7 452.6,192.3 453.1,208.1 453.6,213.4 454.1,196.9 454.6,187.8 455.1,198.3 455.6,198.8 456.2,197.5 456.7,212.4 457.2,191.8 457.7,210.8 458.2,189.7 458.7,192.9 459.2,205.4 459.7,210.4 460.3,208.3 460.8,203.7 461.3,201.7 461.8,201.7 462.3,205.4 462.8,199.1 463.3,202.7 463.8,205.5 464.4,200.7 464.9,207.0 465.4,205.6 465.9,218.0 466.4,204.1 466.9,197.0 467.4,197.2 467.9,200.3 468.5,208.4 469.0,198.1 469.5,203.7 470.0,216.3 470.5,182.9 471.0,190.1 471.5,202.2 472.0,204.1 472.6,202.8 473.1,197.1 473.6,206.0 474.1,203.3 474.6,196.4 475.1,218.5 475.6,204.7 476.1,196.2 476.7,199.6 477.2,198.7 477.7,200.1 478.2,182.9 478.7,195.4 479.2,209.0 479.7,191.2 480.2,199.7 480.8,208.8 481.3,208.4 481.8,213.8 482.3,186.9 482.8,197.1 483.3,197.7 483.8,205.9 484.4,210.4 484.9,182.9 485.4,209.0 485.9,188.8 486.4,206.0 486.9,188.3 487.4,201.7 487.9,211.1 488.5,200.1 489.0,202.4 489.5,207.7 490.0,202.4 490.5,200.2 491.0,214.0 491.5,210.5 492.0,198.8 492.6,218.9 493.1,192.2 493.6,208.3 494.1,199.0 494.6,201.9 495.1,207.0 495.6,203.1 496.1,206.5 496.7,188.1 497.2,187.3 497.7,205.5 498.2,192.9 498.7,191.7 499.2,187.8 499.7,211.2 500.2,207.9 500.8,214.0 501.3,193.5 501.8,200.6 502.3,191.1 502.8,207.1 503.3,215.0 503.8,194.0 504.3,214.1 504.9,210.2 505.4,199.9 505.9,183.9 506.4,212.3 506.9,200.8 507.4,195.8 507.9,204.2 508.4,204.8 509.0,214.2 509.5,192.9 510.0,210.5 510.5,214.4 511.0,214.3 511.5,200.2 512.0,194.6 512.5,209.6 513.1,202.5 513.6,202.3 514.1,213.5 514.6,199.4 515.1,182.8 515.6,196.7 516.1,184.8 516.6,207.4 517.2,204.2 517.7,196.0 518.2,200.8 518.7,208.4 519.2,202.2 519.7,212.8 520.2,201.2 520.7,210.3 521.3,171.2 521.8,216.0 522.3,196.1 522.8,208.7 523.3,185.3 523.8,191.1 524.3,183.7 524.8,209.9 525.4,191.1 525.9,200.8 526.4,199.8 526.9,201.2 527.4,196.4 527.9,203.4 528.4,217.3 529.0,202.8 529.5,206.3 530.0,210.6 530.5,200.4 531.0,190.7 531.5,196.4 532.0,210.9 532.5,187.9 533.1,195.9 533.6,210.4 534.1,209.2 534.6,202.4 535.1,209.0 535.6,203.8 536.1,191.8 536.6,187.9 537.2,195.8 537.7,209.8 538.2,197.6 538.7,194.0 539.2,195.0 539.7,188.5 540.2,200.5 540.7,191.9 541.3,204.9 541.8,184.0 542.3,204.2 542.8,196.8 543.3,185.1 543.8,182.0 544.3,200.3 544.8,184.1 545.4,177.9 545.9,204.6 546.4,198.6 546.9,209.2 547.4,209.4 547.9,208.8 548.4,172.6 548.9,214.5 549.5,209.1 550.0,207.0 550.5,184.8 551.0,209.7 551.5,214.5 552.0,200.8 552.5,198.6 553.0,219.4 553.6,188.4 554.1,206.1 554.6,220.9 555.1,195.9 555.6,208.4 556.1,219.3 556.6,202.6 557.1,207.6 557.7,210.8 558.2,195.5 558.7,201.7 559.2,205.3 559.7,210.0 560.2,202.9 560.7,201.2 561.2,194.2 561.8,199.4 562.3,210.2 562.8,204.1 563.3,195.8 563.8,195.5 564.3,220.5 564.8,213.6 565.3,208.8 565.9,185.3 566.4,207.0 566.9,207.1 567.4,217.2 567.9,207.2 568.4,202.6 568.9,207.3 569.5,187.1 570.0,210.7 570.5,206.0 571.0,197.3 571.5,213.6 572.0,218.4 572.5,192.2 573.0,197.0 573.6,205.1 574.1,204.6 574.6,199.8 575.1,194.9 575.6,219.9 576.1,212.3 576.6,193.8 577.1,191.7 577.7,216.3 578.2,211.7 578.7,218.2 579.2,210.3 579.7,196.4 580.2,204.8 580.7,186.2 581.2,196.2 581.8,202.3 582.3,207.2 582.8,197.5 583.3,201.8 583.8,206.7 584.3,206.3 584.8,208.3 585.3,205.0 585.9,200.6 586.4,209.1 586.9,203.7 587.4,196.6 587.9,197.7 588.4,202.6 588.9,202.0 589.4,204.0 590.0,202.8 590.5,204.1 591.0,201.7 591.5,193.1 592.0,205.3 592.5,210.7 593.0,206.2 593.5,201.3 594.1,205.7 594.6,195.4 595.1,188.1 595.6,202.1 596.1,195.5 596.6,207.4 597.1,194.6 597.6,187.0 598.2,193.7 598.7,213.1 599.2,199.9 599.7,192.2 600.2,196.1 600.7,205.4 601.2,205.6 601.7,203.3 602.3,212.3 602.8,207.3 603.3,201.9 603.8,205.9 604.3,213.3 604.8,208.9 605.3,209.0 605.8,194.6 606.4,200.2 606.9,206.4 607.4,199.8 607.9,208.5 608.4,205.8 608.9,207.6 609.4,200.3 609.9,215.2 610.5,210.3 611.0,200.3 611.5,201.8 612.0,214.8" fill="none" stroke="#f01414" stroke-width="1.1" stroke-linejoin="round"/>
<polyline points="397.2,221.6 397.7,228.1 398.2,222.0 398.7,221.0 399.3,215.6 399.8,221.6 400.3,233.4 400.8,228.0 401.3,233.0 401.8,226.5 402.3,227.4 402.8,225.6 403.4,209.6 403.9,230.5 404.4,228.6 404.9,228.4 405.4,209.6 405.9,208.2 406.4,215.5 406.9,219.5 407.5,226.3 408.0,223.6 408.5,228.3 409.0,218.7 409.5,226.3 410.0,227.4 410.5,218.5 411.0,238.2 411.6,229.4 412.1,234.3 412.6,219.3 413.1,217.5 413.6,220.8 414.1,222.9 414.6,229.2 415.1,226.3 415.7,220.4 416.2,215.8 416.7,219.3 417.2,234.0 417.7,217.8 418.2,225.8 418.7,227.7 419.2,211.8 419.8,223.8 420.3,234.9 420.8,207.9 421.3,220.6 421.8,223.0 422.3,217.3 422.8,227.8 423.3,223.8 423.9,212.0 424.4,230.3 424.9,229.9 425.4,232.2 425.9,236.3 426.4,227.7 426.9,225.3 427.4,213.6 428.0,228.7 428.5,219.4 429.0,220.3 429.5,213.8 430.0,215.9 430.5,219.5 431.0,234.5 431.5,208.4 432.1,211.7 432.6,225.6 433.1,236.0 433.6,229.6 434.1,209.4 434.6,207.5 435.1,226.2 435.6,218.6 436.2,215.2 436.7,231.8 437.2,233.6 437.7,226.2 438.2,226.5 438.7,228.0 439.2,237.3 439.7,230.0 440.3,228.9 440.8,229.1 441.3,212.4 441.8,234.1 442.3,232.6 442.8,229.2 443.3,209.3 443.9,218.9 444.4,230.9 444.9,210.8 445.4,222.5 445.9,232.5 446.4,214.9 446.9,236.7 447.4,229.6 448.0,223.8 448.5,227.2 449.0,229.9 449.5,226.0 450.0,233.7 450.5,220.1 451.0,221.4 451.5,232.7 452.1,225.4 452.6,218.1 453.1,231.8 453.6,236.4 454.1,222.1 454.6,214.2 455.1,223.4 455.6,223.7 456.2,222.6 456.7,235.5 457.2,217.7 457.7,234.2 458.2,215.9 458.7,218.6 459.2,229.5 459.7,233.8 460.3,232.0 460.8,228.0 461.3,226.3 461.8,226.3 462.3,229.5 462.8,224.0 463.3,227.2 463.8,229.5 464.4,225.4 464.9,230.9 465.4,229.7 465.9,240.4 466.4,228.4 466.9,222.2 467.4,222.4 467.9,225.0 468.5,232.1 469.0,223.2 469.5,228.0 470.0,239.0 470.5,209.9 471.0,216.2 471.5,226.7 472.0,228.3 472.6,227.3 473.1,222.3 473.6,230.0 474.1,227.7 474.6,221.7 475.1,240.8 475.6,228.9 476.1,221.5 476.7,224.5 477.2,223.7 477.7,224.9 478.2,209.9 478.7,220.8 479.2,232.6 479.7,217.2 480.2,224.5 480.8,232.4 481.3,232.1 481.8,236.8 482.3,213.5 482.8,222.2 483.3,222.8 483.8,229.9 484.4,233.8 484.9,209.9 485.4,232.6 485.9,215.1 486.4,230.0 486.9,214.7 487.4,226.3 487.9,234.4 488.5,224.9 489.0,226.9 489.5,231.5 490.0,226.9 490.5,224.9 491.0,236.9 491.5,233.9 492.0,223.8 492.6,241.2 493.1,218.0 493.6,232.0 494.1,223.9 494.6,226.5 495.1,230.9 495.6,227.5 496.1,230.4 496.7,214.4 497.2,213.8 497.7,229.6 498.2,218.6 498.7,217.6 499.2,214.2 499.7,234.5 500.2,231.6 500.8,236.9 501.3,219.2 501.8,225.3 502.3,217.1 502.8,231.0 503.3,237.8 503.8,219.6 504.3,237.1 504.9,233.6 505.4,224.7 505.9,210.8 506.4,235.5 506.9,225.5 507.4,221.2 507.9,228.5 508.4,228.9 509.0,237.1 509.5,218.6 510.0,233.9 510.5,237.3 511.0,237.2 511.5,224.9 512.0,220.1 512.5,233.1 513.1,227.0 513.6,226.8 514.1,236.5 514.6,224.3 515.1,209.9 515.6,222.0 516.1,211.6 516.6,231.3 517.2,228.5 517.7,221.3 518.2,225.5 518.7,232.1 519.2,226.7 519.7,235.9 520.2,225.9 520.7,233.7 521.3,199.8 521.8,238.6 522.3,221.5 522.8,232.4 523.3,212.1 523.8,217.1 524.3,210.7 524.8,233.3 525.4,217.1 525.9,225.5 526.4,224.6 526.9,225.8 527.4,221.7 527.9,227.7 528.4,239.8 529.0,227.2 529.5,230.3 530.0,234.0 530.5,225.2 531.0,216.7 531.5,221.6 532.0,234.2 532.5,214.3 533.1,221.3 533.6,233.8 534.1,232.8 534.6,226.8 535.1,232.6 535.6,228.1 536.1,217.7 536.6,214.3 537.2,221.1 537.7,233.3 538.2,222.7 538.7,219.6 539.2,220.5 539.7,214.8 540.2,225.2 540.7,217.7 541.3,229.1 541.8,210.9 542.3,228.4 542.8,222.1 543.3,211.9 543.8,209.2 544.3,225.1 544.8,211.0 545.4,205.7 545.9,228.8 546.4,223.6 546.9,232.8 547.4,233.0 547.9,232.4 548.4,201.0 548.9,237.3 549.5,232.6 550.0,230.9 550.5,211.6 551.0,233.2 551.5,237.4 552.0,225.5 552.5,223.6 553.0,241.6 553.6,214.7 554.1,230.1 554.6,242.9 555.1,221.2 555.6,232.1 556.1,241.5 556.6,227.1 557.1,231.4 557.7,234.1 558.2,220.9 558.7,226.3 559.2,229.4 559.7,233.5 560.2,227.3 560.7,225.8 561.2,219.7 561.8,224.3 562.3,233.7 562.8,228.4 563.3,221.1 563.8,220.9 564.3,242.6 564.8,236.6 565.3,232.4 565.9,212.1 566.4,230.9 566.9,231.0 567.4,239.7 567.9,231.0 568.4,227.0 568.9,231.1 569.5,213.6 570.0,234.1 570.5,230.0 571.0,222.5 571.5,236.6 572.0,240.7 572.5,218.1 573.0,222.2 573.6,229.2 574.1,228.8 574.6,224.7 575.1,220.4 575.6,242.0 576.1,235.5 576.6,219.4 577.1,217.6 577.7,238.9 578.2,234.9 578.7,240.6 579.2,233.8 579.7,221.7 580.2,229.0 580.7,212.9 581.2,221.5 581.8,226.8 582.3,231.1 582.8,222.6 583.3,226.4 583.8,230.6 584.3,230.3 584.8,232.0 585.3,229.2 585.9,225.3 586.4,232.7 586.9,228.0 587.4,221.8 587.9,222.8 588.4,227.1 588.9,226.5 589.4,228.2 590.0,227.3 590.5,228.3 591.0,226.3 591.5,218.8 592.0,229.4 592.5,234.0 593.0,230.2 593.5,225.9 594.1,229.8 594.6,220.9 595.1,214.4 595.6,226.6 596.1,220.9 596.6,231.2 597.1,220.1 597.6,213.5 598.2,219.3 598.7,236.1 599.2,224.7 599.7,218.0 600.2,221.4 600.7,229.5 601.2,229.7 601.7,227.7 602.3,235.5 602.8,231.1 603.3,226.5 603.8,229.9 604.3,236.4 604.8,232.5 605.3,232.6 605.8,220.1 606.4,225.0 606.9,230.4 607.4,224.6 607.9,232.2 608.4,229.8 608.9,231.4 609.4,225.0 609.9,237.9 610.5,233.7 611.0,225.0 611.5,226.3 612.0,237.6" fill="none" stroke="#12ea12" stroke-width="1.1" stroke-linejoin="round"/>
<text transform="translate(385,211) rotate(-90)" font-size="15" font-family="Liberation Sans, sans-serif" fill="#111" text-anchor="middle">Count rate (kHz)</text>
<text x="502.6" y="266.4" font-size="15.2" font-family="Liberation Sans, sans-serif" fill="#111" text-anchor="middle">Time (s)</text>
<text x="-1.6" y="299.6" font-size="22" font-weight="bold" font-family="Liberation Sans, sans-serif">c</text>
<path d="M32.9,366 L32.9,497.6 L203,497.6" fill="none" stroke="#111" stroke-width="1.3"/>
<line x1="32.9" y1="497.6" x2="35.8" y2="497.6" stroke="#111" stroke-width="1.0"/>
<line x1="32.9" y1="485.6" x2="35.8" y2="485.6" stroke="#111" stroke-width="1.0"/>
<line x1="32.9" y1="473.6" x2="35.8" y2="473.6" stroke="#111" stroke-width="1.0"/>
<line x1="32.9" y1="461.6" x2="35.8" y2="461.6" stroke="#111" stroke-width="1.0"/>
<line x1="32.9" y1="449.6" x2="35.8" y2="449.6" stroke="#111" stroke-width="1.0"/>
<line x1="32.9" y1="437.6" x2="35.8" y2="437.6" stroke="#111" stroke-width="1.0"/>
<line x1="32.9" y1="425.6" x2="35.8" y2="425.6" stroke="#111" stroke-width="1.0"/>
<line x1="32.9" y1="413.6" x2="35.8" y2="413.6" stroke="#111" stroke-width="1.0"/>
<line x1="32.9" y1="401.6" x2="35.8" y2="401.6" stroke="#111" stroke-width="1.0"/>
<line x1="32.9" y1="389.6" x2="35.8" y2="389.6" stroke="#111" stroke-width="1.0"/>
<line x1="32.9" y1="377.6" x2="35.8" y2="377.6" stroke="#111" stroke-width="1.0"/>
<line x1="32.9" y1="365.6" x2="35.8" y2="365.6" stroke="#111" stroke-width="1.0"/>
<line x1="32.9" y1="497.6" x2="32.9" y2="494.6" stroke="#111" stroke-width="0.8"/>
<line x1="44.1" y1="497.6" x2="44.1" y2="496.0" stroke="#111" stroke-width="0.8"/>
<line x1="50.6" y1="497.6" x2="50.6" y2="496.0" stroke="#111" stroke-width="0.8"/>
<line x1="55.2" y1="497.6" x2="55.2" y2="496.0" stroke="#111" stroke-width="0.8"/>
<line x1="58.8" y1="497.6" x2="58.8" y2="496.0" stroke="#111" stroke-width="0.8"/>
<line x1="61.8" y1="497.6" x2="61.8" y2="496.0" stroke="#111" stroke-width="0.8"/>
<line x1="64.3" y1="497.6" x2="64.3" y2="496.0" stroke="#111" stroke-width="0.8"/>
<line x1="66.4" y1="497.6" x2="66.4" y2="496.0" stroke="#111" stroke-width="0.8"/>
<line x1="68.3" y1="497.6" x2="68.3" y2="496.0" stroke="#111" stroke-width="0.8"/>
<line x1="70.0" y1="497.6" x2="70.0" y2="494.6" stroke="#111" stroke-width="0.8"/>
<line x1="81.2" y1="497.6" x2="81.2" y2="496.0" stroke="#111" stroke-width="0.8"/>
<line x1="87.7" y1="497.6" x2="87.7" y2="496.0" stroke="#111" stroke-width="0.8"/>
<line x1="92.3" y1="497.6" x2="92.3" y2="496.0" stroke="#111" stroke-width="0.8"/>
<line x1="95.9" y1="497.6" x2="95.9" y2="496.0" stroke="#111" stroke-width="0.8"/>
<line x1="98.9" y1="497.6" x2="98.9" y2="496.0" stroke="#111" stroke-width="0.8"/>
<line x1="101.4" y1="497.6" x2="101.4" y2="496.0" stroke="#111" stroke-width="0.8"/>
<line x1="103.5" y1="497.6" x2="103.5" y2="496.0" stroke="#111" stroke-width="0.8"/>
<line x1="105.4" y1="497.6" x2="105.4" y2="496.0" stroke="#111" stroke-width="0.8"/>
<line x1="107.1" y1="497.6" x2="107.1" y2="494.6" stroke="#111" stroke-width="0.8"/>
<line x1="118.3" y1="497.6" x2="118.3" y2="496.0" stroke="#111" stroke-width="0.8"/>
<line x1="124.8" y1="497.6" x2="124.8" y2="496.0" stroke="#111" stroke-width="0.8"/>
<line x1="129.4" y1="497.6" x2="129.4" y2="496.0" stroke="#111" stroke-width="0.8"/>
<line x1="133.0" y1="497.6" x2="133.0" y2="496.0" stroke="#111" stroke-width="0.8"/>
<line x1="136.0" y1="497.6" x2="136.0" y2="496.0" stroke="#111" stroke-width="0.8"/>
<line x1="138.5" y1="497.6" x2="138.5" y2="496.0" stroke="#111" stroke-width="0.8"/>
<line x1="140.6" y1="497.6" x2="140.6" y2="496.0" stroke="#111" stroke-width="0.8"/>
<line x1="142.5" y1="497.6" x2="142.5" y2="496.0" stroke="#111" stroke-width="0.8"/>
<line x1="144.2" y1="497.6" x2="144.2" y2="494.6" stroke="#111" stroke-width="0.8"/>
<line x1="155.4" y1="497.6" x2="155.4" y2="496.0" stroke="#111" stroke-width="0.8"/>
<line x1="161.9" y1="497.6" x2="161.9" y2="496.0" stroke="#111" stroke-width="0.8"/>
<line x1="166.5" y1="497.6" x2="166.5" y2="496.0" stroke="#111" stroke-width="0.8"/>
<line x1="170.1" y1="497.6" x2="170.1" y2="496.0" stroke="#111" stroke-width="0.8"/>
<line x1="173.1" y1="497.6" x2="173.1" y2="496.0" stroke="#111" stroke-width="0.8"/>
<line x1="175.6" y1="497.6" x2="175.6" y2="496.0" stroke="#111" stroke-width="0.8"/>
<line x1="177.7" y1="497.6" x2="177.7" y2="496.0" stroke="#111" stroke-width="0.8"/>
<line x1="179.6" y1="497.6" x2="179.6" y2="496.0" stroke="#111" stroke-width="0.8"/>
<line x1="181.3" y1="497.6" x2="181.3" y2="494.6" stroke="#111" stroke-width="0.8"/>
<line x1="192.5" y1="497.6" x2="192.5" y2="496.0" stroke="#111" stroke-width="0.8"/>
<line x1="199.0" y1="497.6" x2="199.0" y2="496.0" stroke="#111" stroke-width="0.8"/>
<circle cx="32.9" cy="379.2" r="1.2" fill="#1de01d"/><circle cx="35.1" cy="379.4" r="1.2" fill="#1de01d"/><circle cx="37.4" cy="379.6" r="1.2" fill="#1de01d"/><circle cx="39.6" cy="379.8" r="1.2" fill="#1de01d"/><circle cx="41.9" cy="380.1" r="1.2" fill="#1de01d"/><circle cx="44.1" cy="380.4" r="1.2" fill="#1de01d"/><circle cx="46.4" cy="380.7" r="1.2" fill="#1de01d"/><circle cx="48.6" cy="381.1" r="1.2" fill="#1de01d"/><circle cx="50.9" cy="381.5" r="1.2" fill="#1de01d"/><circle cx="53.1" cy="382.1" r="1.2" fill="#1de01d"/><circle cx="55.4" cy="382.6" r="1.2" fill="#1de01d"/><circle cx="57.6" cy="383.3" r="1.2" fill="#1de01d"/><circle cx="59.9" cy="384.1" r="1.2" fill="#1de01d"/><circle cx="62.1" cy="384.9" r="1.2" fill="#1de01d"/><circle cx="64.4" cy="385.9" r="1.2" fill="#1de01d"/><circle cx="66.7" cy="387.0" r="1.2" fill="#1de01d"/><circle cx="68.9" cy="388.2" r="1.2" fill="#1de01d"/><circle cx="71.2" cy="389.6" r="1.2" fill="#1de01d"/><circle cx="73.4" cy="391.1" r="1.2" fill="#1de01d"/><circle cx="75.7" cy="392.9" r="1.2" fill="#1de01d"/><circle cx="77.9" cy="394.8" r="1.2" fill="#1de01d"/><circle cx="80.2" cy="396.9" r="1.2" fill="#1de01d"/><circle cx="82.4" cy="399.2" r="1.2" fill="#1de01d"/><circle cx="84.7" cy="401.8" r="1.2" fill="#1de01d"/><circle cx="86.9" cy="404.6" r="1.2" fill="#1de01d"/><circle cx="89.2" cy="407.6" r="1.2" fill="#1de01d"/><circle cx="91.4" cy="410.8" r="1.2" fill="#1de01d"/><circle cx="93.7" cy="414.2" r="1.2" fill="#1de01d"/><circle cx="95.9" cy="417.8" r="1.2" fill="#1de01d"/><circle cx="98.2" cy="421.6" r="1.2" fill="#1de01d"/><circle cx="100.4" cy="425.5" r="1.2" fill="#1de01d"/><circle cx="102.7" cy="429.6" r="1.2" fill="#1de01d"/><circle cx="104.9" cy="433.7" r="1.2" fill="#1de01d"/><circle cx="107.2" cy="437.9" r="1.2" fill="#1de01d"/><circle cx="109.4" cy="442.1" r="1.2" fill="#1de01d"/><circle cx="111.7" cy="446.2" r="1.2" fill="#1de01d"/><circle cx="113.9" cy="450.2" r="1.2" fill="#1de01d"/><circle cx="116.2" cy="454.2" r="1.2" fill="#1de01d"/><circle cx="118.4" cy="458.0" r="1.2" fill="#1de01d"/><circle cx="120.7" cy="461.6" r="1.2" fill="#1de01d"/><circle cx="122.9" cy="465.0" r="1.2" fill="#1de01d"/><circle cx="125.2" cy="468.2" r="1.2" fill="#1de01d"/><circle cx="127.4" cy="471.2" r="1.2" fill="#1de01d"/><circle cx="129.7" cy="473.9" r="1.2" fill="#1de01d"/><circle cx="131.9" cy="476.5" r="1.2" fill="#1de01d"/><circle cx="134.2" cy="478.8" r="1.2" fill="#1de01d"/><circle cx="136.4" cy="480.9" r="1.2" fill="#1de01d"/><circle cx="138.7" cy="482.8" r="1.2" fill="#1de01d"/><circle cx="140.9" cy="484.5" r="1.2" fill="#1de01d"/><circle cx="143.2" cy="486.1" r="1.2" fill="#1de01d"/><circle cx="145.4" cy="487.4" r="1.2" fill="#1de01d"/><circle cx="147.7" cy="488.7" r="1.2" fill="#1de01d"/><circle cx="149.9" cy="489.8" r="1.2" fill="#1de01d"/><circle cx="152.2" cy="490.7" r="1.2" fill="#1de01d"/><circle cx="154.4" cy="491.6" r="1.2" fill="#1de01d"/><circle cx="156.7" cy="492.3" r="1.2" fill="#1de01d"/><circle cx="158.9" cy="493.0" r="1.2" fill="#1de01d"/><circle cx="161.2" cy="493.6" r="1.2" fill="#1de01d"/><circle cx="163.4" cy="494.1" r="1.2" fill="#1de01d"/><circle cx="165.7" cy="494.5" r="1.2" fill="#1de01d"/><circle cx="167.9" cy="494.9" r="1.2" fill="#1de01d"/><circle cx="170.2" cy="495.3" r="1.2" fill="#1de01d"/><circle cx="172.4" cy="495.6" r="1.2" fill="#1de01d"/><circle cx="174.7" cy="495.8" r="1.2" fill="#1de01d"/><circle cx="176.9" cy="496.0" r="1.2" fill="#1de01d"/><circle cx="179.2" cy="496.2" r="1.2" fill="#1de01d"/><circle cx="181.4" cy="496.4" r="1.2" fill="#1de01d"/><circle cx="183.7" cy="496.6" r="1.2" fill="#1de01d"/><circle cx="185.9" cy="496.7" r="1.2" fill="#1de01d"/><circle cx="188.2" cy="496.8" r="1.2" fill="#1de01d"/><circle cx="190.4" cy="496.9" r="1.2" fill="#1de01d"/><circle cx="192.7" cy="497.0" r="1.2" fill="#1de01d"/><circle cx="194.9" cy="497.1" r="1.2" fill="#1de01d"/><circle cx="197.2" cy="497.2" r="1.2" fill="#1de01d"/><circle cx="199.4" cy="497.2" r="1.2" fill="#1de01d"/><circle cx="201.7" cy="497.3" r="1.2" fill="#1de01d"/>
<path d="M40.9,384.6 L40.9,497.0" fill="none" stroke="#2a2acc" stroke-width="1.25" stroke-dasharray="3.6,2.3"/>
<path d="M37.2,391.2 L40.9,385 L44.6,391.2" fill="none" stroke="#2a2acc" stroke-width="1.1"/>
<path d="M32.9,437.4 L106.5,437.4 L106.5,495" fill="none" stroke="#2a2acc" stroke-width="1.25" stroke-dasharray="3.6,2.3"/>
<path d="M102.8,490.4 L106.5,496.6 L110.2,490.4" fill="none" stroke="#2a2acc" stroke-width="1.1"/>
<text x="55.5" y="361.7" font-size="15" font-family="Liberation Sans, sans-serif" fill="#2020b8"><tspan font-style="italic">G</tspan><tspan font-size="11.2" dy="4.6">g, r</tspan><tspan dy="-4.6"> (0) ~ 1/</tspan><tspan font-style="italic">N</tspan></text>
<text x="92.8" y="407.6" font-size="15" font-family="Liberation Sans, sans-serif" fill="#1aa85a"><tspan font-style="italic">G</tspan><tspan font-size="11.2" dy="4.6">g, r</tspan><tspan dy="-4.6"> (</tspan><tspan font-family="Liberation Serif, serif">τ</tspan>)</text>
<text x="124" y="451" font-size="15" font-family="Liberation Sans, sans-serif" fill="#2020b8"><tspan font-family="Liberation Serif, serif">τ</tspan><tspan font-size="11.2" dy="4.6" font-style="italic">D</tspan><tspan dy="-4.6">~ 1/</tspan><tspan font-style="italic">D</tspan></text>
<text x="135" y="475.3" font-size="15" font-family="Liberation Sans, sans-serif" fill="#2020b8">~(Mw)<tspan font-size="10.5" dy="-6">1/3</tspan></text>
<text transform="translate(14.6,432.5) rotate(-90)" font-size="15.5" font-family="Liberation Sans, sans-serif" fill="#111" text-anchor="middle"><tspan font-style="italic">G</tspan><tspan font-size="11.2" dy="4.6">g, r</tspan><tspan dy="-4.6"> (</tspan><tspan font-family="Liberation Serif, serif">τ</tspan>)</text>
<text x="33.4" y="522" font-size="14.8" font-family="Liberation Sans, sans-serif" fill="#111" text-anchor="middle">10<tspan font-size="10.7" dx="0.2" dy="-3.7">−3</tspan></text>
<text x="107.8" y="522" font-size="14.8" font-family="Liberation Sans, sans-serif" fill="#111" text-anchor="middle">10<tspan font-size="10.7" dx="0.2" dy="-3.7">−1</tspan></text>
<text x="181.9" y="522" font-size="14.8" font-family="Liberation Sans, sans-serif" fill="#111" text-anchor="middle">10<tspan font-size="10.7" dx="0.2" dy="-3.7">1</tspan></text>
<text x="105" y="544.5" font-size="15" font-family="Liberation Sans, sans-serif" fill="#111" text-anchor="middle">Lag time (<tspan font-family="Liberation Serif, serif">τ</tspan>)</text>
<circle cx="222.7" cy="323.8" r="0.72" fill="#fff" stroke="#787878" stroke-width="0.55"/><circle cx="223.6" cy="323.9" r="0.72" fill="#fff" stroke="#787878" stroke-width="0.55"/><circle cx="224.6" cy="324.0" r="0.72" fill="#fff" stroke="#787878" stroke-width="0.55"/><circle cx="225.5" cy="324.2" r="0.72" fill="#fff" stroke="#787878" stroke-width="0.55"/><circle cx="226.5" cy="324.3" r="0.72" fill="#fff" stroke="#787878" stroke-width="0.55"/><circle cx="227.4" cy="324.5" r="0.72" fill="#fff" stroke="#787878" stroke-width="0.55"/><circle cx="228.4" cy="324.7" r="0.72" fill="#fff" stroke="#787878" stroke-width="0.55"/><circle cx="229.3" cy="324.9" r="0.72" fill="#fff" stroke="#787878" stroke-width="0.55"/><circle cx="230.3" cy="325.1" r="0.72" fill="#fff" stroke="#787878" stroke-width="0.55"/><circle cx="231.2" cy="325.4" r="0.72" fill="#fff" stroke="#787878" stroke-width="0.55"/><circle cx="232.2" cy="325.6" r="0.72" fill="#fff" stroke="#787878" stroke-width="0.55"/><circle cx="233.1" cy="325.9" r="0.72" fill="#fff" stroke="#787878" stroke-width="0.55"/><circle cx="234.1" cy="326.3" r="0.72" fill="#fff" stroke="#787878" stroke-width="0.55"/><circle cx="235.0" cy="326.6" r="0.72" fill="#fff" stroke="#787878" stroke-width="0.55"/><circle cx="236.0" cy="327.0" r="0.72" fill="#fff" stroke="#787878" stroke-width="0.55"/><circle cx="236.9" cy="327.4" r="0.72" fill="#fff" stroke="#787878" stroke-width="0.55"/><circle cx="237.9" cy="327.9" r="0.72" fill="#fff" stroke="#787878" stroke-width="0.55"/><circle cx="238.8" cy="328.4" r="0.72" fill="#fff" stroke="#787878" stroke-width="0.55"/><circle cx="239.8" cy="329.0" r="0.72" fill="#fff" stroke="#787878" stroke-width="0.55"/><circle cx="240.8" cy="329.6" r="0.72" fill="#fff" stroke="#787878" stroke-width="0.55"/><circle cx="241.7" cy="330.3" r="0.72" fill="#fff" stroke="#787878" stroke-width="0.55"/><circle cx="242.6" cy="331.0" r="0.72" fill="#fff" stroke="#787878" stroke-width="0.55"/><circle cx="243.6" cy="331.8" r="0.72" fill="#fff" stroke="#787878" stroke-width="0.55"/><circle cx="244.5" cy="332.7" r="0.72" fill="#fff" stroke="#787878" stroke-width="0.55"/><circle cx="245.5" cy="333.6" r="0.72" fill="#fff" stroke="#787878" stroke-width="0.55"/><circle cx="246.4" cy="334.6" r="0.72" fill="#fff" stroke="#787878" stroke-width="0.55"/><circle cx="247.4" cy="335.7" r="0.72" fill="#fff" stroke="#787878" stroke-width="0.55"/><circle cx="248.3" cy="336.9" r="0.72" fill="#fff" stroke="#787878" stroke-width="0.55"/><circle cx="249.3" cy="338.2" r="0.72" fill="#fff" stroke="#787878" stroke-width="0.55"/><circle cx="250.2" cy="339.5" r="0.72" fill="#fff" stroke="#787878" stroke-width="0.55"/><circle cx="251.2" cy="341.0" r="0.72" fill="#fff" stroke="#787878" stroke-width="0.55"/><circle cx="252.1" cy="342.5" r="0.72" fill="#fff" stroke="#787878" stroke-width="0.55"/><circle cx="253.1" cy="344.1" r="0.72" fill="#fff" stroke="#787878" stroke-width="0.55"/><circle cx="254.0" cy="345.9" r="0.72" fill="#fff" stroke="#787878" stroke-width="0.55"/><circle cx="255.0" cy="347.7" r="0.72" fill="#fff" stroke="#787878" stroke-width="0.55"/><circle cx="255.9" cy="349.6" r="0.72" fill="#fff" stroke="#787878" stroke-width="0.55"/><circle cx="256.9" cy="351.6" r="0.72" fill="#fff" stroke="#787878" stroke-width="0.55"/><circle cx="257.8" cy="353.7" r="0.72" fill="#fff" stroke="#787878" stroke-width="0.55"/><circle cx="258.8" cy="355.9" r="0.72" fill="#fff" stroke="#787878" stroke-width="0.55"/><circle cx="259.8" cy="358.1" r="0.72" fill="#fff" stroke="#787878" stroke-width="0.55"/><circle cx="260.7" cy="360.4" r="0.72" fill="#fff" stroke="#787878" stroke-width="0.55"/><circle cx="261.6" cy="362.8" r="0.72" fill="#fff" stroke="#787878" stroke-width="0.55"/><circle cx="262.6" cy="365.2" r="0.72" fill="#fff" stroke="#787878" stroke-width="0.55"/><circle cx="263.6" cy="367.6" r="0.72" fill="#fff" stroke="#787878" stroke-width="0.55"/><circle cx="264.5" cy="370.1" r="0.72" fill="#fff" stroke="#787878" stroke-width="0.55"/><circle cx="265.4" cy="372.6" r="0.72" fill="#fff" stroke="#787878" stroke-width="0.55"/><circle cx="266.4" cy="375.0" r="0.72" fill="#fff" stroke="#787878" stroke-width="0.55"/><circle cx="267.3" cy="377.5" r="0.72" fill="#fff" stroke="#787878" stroke-width="0.55"/><circle cx="268.3" cy="379.9" r="0.72" fill="#fff" stroke="#787878" stroke-width="0.55"/><circle cx="269.2" cy="382.3" r="0.72" fill="#fff" stroke="#787878" stroke-width="0.55"/><circle cx="270.2" cy="384.6" r="0.72" fill="#fff" stroke="#787878" stroke-width="0.55"/><circle cx="271.1" cy="386.9" r="0.72" fill="#fff" stroke="#787878" stroke-width="0.55"/><circle cx="272.1" cy="389.1" r="0.72" fill="#fff" stroke="#787878" stroke-width="0.55"/><circle cx="273.0" cy="391.3" r="0.72" fill="#fff" stroke="#787878" stroke-width="0.55"/><circle cx="274.0" cy="393.3" r="0.72" fill="#fff" stroke="#787878" stroke-width="0.55"/><circle cx="274.9" cy="395.3" r="0.72" fill="#fff" stroke="#787878" stroke-width="0.55"/><circle cx="275.9" cy="397.1" r="0.72" fill="#fff" stroke="#787878" stroke-width="0.55"/><circle cx="276.8" cy="398.9" r="0.72" fill="#fff" stroke="#787878" stroke-width="0.55"/><circle cx="277.8" cy="400.6" r="0.72" fill="#fff" stroke="#787878" stroke-width="0.55"/><circle cx="278.8" cy="402.2" r="0.72" fill="#fff" stroke="#787878" stroke-width="0.55"/><circle cx="279.7" cy="403.7" r="0.72" fill="#fff" stroke="#787878" stroke-width="0.55"/><circle cx="280.6" cy="405.1" r="0.72" fill="#fff" stroke="#787878" stroke-width="0.55"/><circle cx="281.6" cy="406.4" r="0.72" fill="#fff" stroke="#787878" stroke-width="0.55"/><circle cx="282.5" cy="407.6" r="0.72" fill="#fff" stroke="#787878" stroke-width="0.55"/><circle cx="283.5" cy="408.7" r="0.72" fill="#fff" stroke="#787878" stroke-width="0.55"/><circle cx="284.4" cy="409.8" r="0.72" fill="#fff" stroke="#787878" stroke-width="0.55"/><circle cx="285.4" cy="410.8" r="0.72" fill="#fff" stroke="#787878" stroke-width="0.55"/><circle cx="286.3" cy="411.7" r="0.72" fill="#fff" stroke="#787878" stroke-width="0.55"/><circle cx="287.3" cy="412.5" r="0.72" fill="#fff" stroke="#787878" stroke-width="0.55"/><circle cx="288.2" cy="413.3" r="0.72" fill="#fff" stroke="#787878" stroke-width="0.55"/><circle cx="289.2" cy="414.0" r="0.72" fill="#fff" stroke="#787878" stroke-width="0.55"/><circle cx="290.1" cy="414.6" r="0.72" fill="#fff" stroke="#787878" stroke-width="0.55"/><circle cx="291.1" cy="415.2" r="0.72" fill="#fff" stroke="#787878" stroke-width="0.55"/><circle cx="292.0" cy="415.7" r="0.72" fill="#fff" stroke="#787878" stroke-width="0.55"/><circle cx="293.0" cy="416.2" r="0.72" fill="#fff" stroke="#787878" stroke-width="0.55"/><circle cx="293.9" cy="416.7" r="0.72" fill="#fff" stroke="#787878" stroke-width="0.55"/><circle cx="294.9" cy="417.1" r="0.72" fill="#fff" stroke="#787878" stroke-width="0.55"/><circle cx="295.8" cy="417.5" r="0.72" fill="#fff" stroke="#787878" stroke-width="0.55"/><circle cx="296.8" cy="417.8" r="0.72" fill="#fff" stroke="#787878" stroke-width="0.55"/><circle cx="297.8" cy="418.1" r="0.72" fill="#fff" stroke="#787878" stroke-width="0.55"/><circle cx="298.7" cy="418.4" r="0.72" fill="#fff" stroke="#787878" stroke-width="0.55"/><circle cx="299.6" cy="418.7" r="0.72" fill="#fff" stroke="#787878" stroke-width="0.55"/><circle cx="300.6" cy="418.9" r="0.72" fill="#fff" stroke="#787878" stroke-width="0.55"/><circle cx="301.5" cy="419.1" r="0.72" fill="#fff" stroke="#787878" stroke-width="0.55"/><circle cx="302.5" cy="419.3" r="0.72" fill="#fff" stroke="#787878" stroke-width="0.55"/><circle cx="303.4" cy="419.5" r="0.72" fill="#fff" stroke="#787878" stroke-width="0.55"/><circle cx="304.4" cy="419.7" r="0.72" fill="#fff" stroke="#787878" stroke-width="0.55"/><circle cx="305.3" cy="419.8" r="0.72" fill="#fff" stroke="#787878" stroke-width="0.55"/><circle cx="306.3" cy="419.9" r="0.72" fill="#fff" stroke="#787878" stroke-width="0.55"/><circle cx="307.2" cy="420.1" r="0.72" fill="#fff" stroke="#787878" stroke-width="0.55"/><circle cx="308.2" cy="420.2" r="0.72" fill="#fff" stroke="#787878" stroke-width="0.55"/><circle cx="309.1" cy="420.3" r="0.72" fill="#fff" stroke="#787878" stroke-width="0.55"/><circle cx="310.1" cy="420.3" r="0.72" fill="#fff" stroke="#787878" stroke-width="0.55"/><circle cx="311.0" cy="420.4" r="0.72" fill="#fff" stroke="#787878" stroke-width="0.55"/><circle cx="312.0" cy="420.5" r="0.72" fill="#fff" stroke="#787878" stroke-width="0.55"/><circle cx="312.9" cy="420.6" r="0.72" fill="#fff" stroke="#787878" stroke-width="0.55"/><circle cx="313.9" cy="420.6" r="0.72" fill="#fff" stroke="#787878" stroke-width="0.55"/><circle cx="314.8" cy="420.7" r="0.72" fill="#fff" stroke="#787878" stroke-width="0.55"/><circle cx="315.8" cy="420.7" r="0.72" fill="#fff" stroke="#787878" stroke-width="0.55"/><circle cx="316.8" cy="420.8" r="0.72" fill="#fff" stroke="#787878" stroke-width="0.55"/><circle cx="317.7" cy="420.8" r="0.72" fill="#fff" stroke="#787878" stroke-width="0.55"/><circle cx="318.6" cy="420.9" r="0.72" fill="#fff" stroke="#787878" stroke-width="0.55"/><circle cx="319.6" cy="420.9" r="0.72" fill="#fff" stroke="#787878" stroke-width="0.55"/><circle cx="320.5" cy="420.9" r="0.72" fill="#fff" stroke="#787878" stroke-width="0.55"/><circle cx="321.5" cy="420.9" r="0.72" fill="#fff" stroke="#787878" stroke-width="0.55"/><circle cx="322.4" cy="421.0" r="0.72" fill="#fff" stroke="#787878" stroke-width="0.55"/><circle cx="323.4" cy="421.0" r="0.72" fill="#fff" stroke="#787878" stroke-width="0.55"/><circle cx="324.3" cy="421.0" r="0.72" fill="#fff" stroke="#787878" stroke-width="0.55"/><circle cx="325.3" cy="421.0" r="0.72" fill="#fff" stroke="#787878" stroke-width="0.55"/><circle cx="326.2" cy="421.0" r="0.72" fill="#fff" stroke="#787878" stroke-width="0.55"/><circle cx="327.2" cy="421.1" r="0.72" fill="#fff" stroke="#787878" stroke-width="0.55"/><circle cx="328.1" cy="421.1" r="0.72" fill="#fff" stroke="#787878" stroke-width="0.55"/><circle cx="329.1" cy="421.1" r="0.72" fill="#fff" stroke="#787878" stroke-width="0.55"/><circle cx="330.0" cy="421.1" r="0.72" fill="#fff" stroke="#787878" stroke-width="0.55"/><circle cx="331.0" cy="421.1" r="0.72" fill="#fff" stroke="#787878" stroke-width="0.55"/><circle cx="331.9" cy="421.1" r="0.72" fill="#fff" stroke="#787878" stroke-width="0.55"/><circle cx="332.9" cy="421.1" r="0.72" fill="#fff" stroke="#787878" stroke-width="0.55"/><circle cx="333.8" cy="421.1" r="0.72" fill="#fff" stroke="#787878" stroke-width="0.55"/><circle cx="334.8" cy="421.1" r="0.72" fill="#fff" stroke="#787878" stroke-width="0.55"/><circle cx="335.8" cy="421.1" r="0.72" fill="#fff" stroke="#787878" stroke-width="0.55"/><circle cx="336.7" cy="421.1" r="0.72" fill="#fff" stroke="#787878" stroke-width="0.55"/><circle cx="337.6" cy="421.2" r="0.72" fill="#fff" stroke="#787878" stroke-width="0.55"/><circle cx="338.6" cy="421.2" r="0.72" fill="#fff" stroke="#787878" stroke-width="0.55"/><circle cx="339.5" cy="421.2" r="0.72" fill="#fff" stroke="#787878" stroke-width="0.55"/><circle cx="340.5" cy="421.2" r="0.72" fill="#fff" stroke="#787878" stroke-width="0.55"/><circle cx="341.4" cy="421.2" r="0.72" fill="#fff" stroke="#787878" stroke-width="0.55"/><circle cx="342.4" cy="421.2" r="0.72" fill="#fff" stroke="#787878" stroke-width="0.55"/><circle cx="343.3" cy="421.2" r="0.72" fill="#fff" stroke="#787878" stroke-width="0.55"/><circle cx="344.3" cy="421.2" r="0.72" fill="#fff" stroke="#787878" stroke-width="0.55"/><circle cx="345.2" cy="421.2" r="0.72" fill="#fff" stroke="#787878" stroke-width="0.55"/><circle cx="346.2" cy="421.2" r="0.72" fill="#fff" stroke="#787878" stroke-width="0.55"/><circle cx="347.1" cy="421.2" r="0.72" fill="#fff" stroke="#787878" stroke-width="0.55"/><circle cx="348.1" cy="421.2" r="0.72" fill="#fff" stroke="#787878" stroke-width="0.55"/><circle cx="349.0" cy="421.2" r="0.72" fill="#fff" stroke="#787878" stroke-width="0.55"/><circle cx="350.0" cy="421.2" r="0.72" fill="#fff" stroke="#787878" stroke-width="0.55"/><circle cx="350.9" cy="421.2" r="0.72" fill="#fff" stroke="#787878" stroke-width="0.55"/><circle cx="351.9" cy="421.2" r="0.72" fill="#fff" stroke="#787878" stroke-width="0.55"/><circle cx="352.9" cy="421.2" r="0.72" fill="#fff" stroke="#787878" stroke-width="0.55"/><circle cx="353.8" cy="421.2" r="0.72" fill="#fff" stroke="#787878" stroke-width="0.55"/><circle cx="354.8" cy="421.2" r="0.72" fill="#fff" stroke="#787878" stroke-width="0.55"/><circle cx="355.7" cy="421.2" r="0.72" fill="#fff" stroke="#787878" stroke-width="0.55"/><circle cx="356.6" cy="421.2" r="0.72" fill="#fff" stroke="#787878" stroke-width="0.55"/><circle cx="357.6" cy="421.2" r="0.72" fill="#fff" stroke="#787878" stroke-width="0.55"/><circle cx="358.5" cy="421.2" r="0.72" fill="#fff" stroke="#787878" stroke-width="0.55"/><circle cx="359.5" cy="421.2" r="0.72" fill="#fff" stroke="#787878" stroke-width="0.55"/><circle cx="360.4" cy="421.2" r="0.72" fill="#fff" stroke="#787878" stroke-width="0.55"/><circle cx="361.4" cy="421.2" r="0.72" fill="#fff" stroke="#787878" stroke-width="0.55"/><circle cx="362.4" cy="421.2" r="0.72" fill="#fff" stroke="#787878" stroke-width="0.55"/><circle cx="363.3" cy="421.2" r="0.72" fill="#fff" stroke="#787878" stroke-width="0.55"/><circle cx="364.2" cy="421.2" r="0.72" fill="#fff" stroke="#787878" stroke-width="0.55"/><circle cx="365.2" cy="421.2" r="0.72" fill="#fff" stroke="#787878" stroke-width="0.55"/><circle cx="366.1" cy="421.2" r="0.72" fill="#fff" stroke="#787878" stroke-width="0.55"/><circle cx="367.1" cy="421.2" r="0.72" fill="#fff" stroke="#787878" stroke-width="0.55"/><circle cx="368.0" cy="421.2" r="0.72" fill="#fff" stroke="#787878" stroke-width="0.55"/><circle cx="369.0" cy="421.2" r="0.72" fill="#fff" stroke="#787878" stroke-width="0.55"/><circle cx="369.9" cy="421.2" r="0.72" fill="#fff" stroke="#787878" stroke-width="0.55"/><circle cx="370.9" cy="421.2" r="0.72" fill="#fff" stroke="#787878" stroke-width="0.55"/><circle cx="371.9" cy="421.2" r="0.72" fill="#fff" stroke="#787878" stroke-width="0.55"/><circle cx="372.8" cy="421.2" r="0.72" fill="#fff" stroke="#787878" stroke-width="0.55"/><circle cx="373.8" cy="421.2" r="0.72" fill="#fff" stroke="#787878" stroke-width="0.55"/><circle cx="374.7" cy="421.2" r="0.72" fill="#fff" stroke="#787878" stroke-width="0.55"/>
<polyline points="222.7,322.7 223.2,322.7 223.7,322.7 224.2,322.7 224.7,322.7 225.2,322.7 225.7,322.7 226.2,322.7 226.7,322.7 227.2,322.7 227.7,322.7 228.2,322.7 228.7,322.7 229.2,322.7 229.7,322.7 230.2,322.7 230.7,322.7 231.2,322.7 231.7,322.7 232.2,322.7 232.7,322.7 233.2,322.7 233.7,322.7 234.2,322.7 234.7,322.7 235.2,322.7 235.7,322.7 236.2,322.7 236.7,322.7 237.2,322.7 237.7,322.7 238.2,322.7 238.7,322.7 239.2,322.7 239.7,322.7 240.2,322.7 240.7,322.7 241.2,322.7 241.7,322.7 242.2,322.7 242.7,322.7 243.2,322.7 243.7,322.7 244.2,322.7 244.7,322.7 245.2,322.7 245.7,322.7 246.2,322.7 246.7,322.7 247.2,322.7 247.7,322.7 248.2,322.7 248.7,322.7 249.2,322.7 249.7,322.7 250.2,322.7 250.7,322.7 251.2,322.7 251.7,322.7 252.2,322.7 252.7,322.7 253.2,322.7 253.7,322.7 254.2,322.7 254.7,322.7 255.2,322.7 255.7,322.7 256.2,322.7 256.7,322.7 257.2,322.7 257.7,322.7 258.2,322.7 258.7,322.7 259.2,322.7 259.7,322.7 260.2,322.8 260.7,322.8 261.2,322.8 261.7,322.8 262.2,322.8 262.7,322.8 263.2,322.8 263.7,322.8 264.2,322.8 264.7,322.8 265.2,322.8 265.7,322.8 266.2,322.8 266.7,322.8 267.2,322.8 267.7,322.8 268.2,322.8 268.7,322.8 269.2,322.8 269.7,322.8 270.2,322.8 270.7,322.9 271.2,322.9 271.7,322.9 272.2,322.9 272.7,322.9 273.2,322.9 273.7,322.9 274.2,322.9 274.7,322.9 275.2,323.0 275.7,323.0 276.2,323.0 276.7,323.0 277.2,323.0 277.7,323.0 278.2,323.0 278.7,323.1 279.2,323.1 279.7,323.1 280.2,323.1 280.7,323.1 281.2,323.2 281.7,323.2 282.2,323.2 282.7,323.3 283.2,323.3 283.7,323.3 284.2,323.3 284.7,323.4 285.2,323.4 285.7,323.5 286.2,323.5 286.7,323.5 287.2,323.6 287.7,323.6 288.2,323.7 288.7,323.7 289.2,323.8 289.7,323.9 290.2,323.9 290.7,324.0 291.2,324.0 291.7,324.1 292.2,324.2 292.7,324.3 293.2,324.4 293.7,324.4 294.2,324.5 294.7,324.6 295.2,324.7 295.7,324.9 296.2,325.0 296.7,325.1 297.2,325.2 297.7,325.3 298.2,325.5 298.7,325.6 299.2,325.8 299.7,325.9 300.2,326.1 300.7,326.3 301.2,326.5 301.7,326.7 302.2,326.9" fill="none" stroke="#111" stroke-width="1.6"/>
<circle cx="303.0" cy="327.2" r="1.0" fill="#111"/><circle cx="304.1" cy="327.8" r="1.0" fill="#111"/><circle cx="305.2" cy="328.4" r="1.0" fill="#111"/><circle cx="306.3" cy="329.0" r="1.0" fill="#111"/><circle cx="307.4" cy="329.7" r="1.0" fill="#111"/><circle cx="308.5" cy="330.5" r="1.0" fill="#111"/><circle cx="309.6" cy="331.4" r="1.0" fill="#111"/><circle cx="310.7" cy="332.4" r="1.0" fill="#111"/><circle cx="311.8" cy="333.4" r="1.0" fill="#111"/><circle cx="312.9" cy="334.6" r="1.0" fill="#111"/><circle cx="314.0" cy="335.9" r="1.0" fill="#111"/><circle cx="315.1" cy="337.2" r="1.0" fill="#111"/><circle cx="316.2" cy="338.7" r="1.0" fill="#111"/><circle cx="317.3" cy="340.4" r="1.0" fill="#111"/><circle cx="318.4" cy="342.1" r="1.0" fill="#111"/><circle cx="319.5" cy="344.0" r="1.0" fill="#111"/><circle cx="320.6" cy="346.0" r="1.0" fill="#111"/><circle cx="321.7" cy="348.1" r="1.0" fill="#111"/><circle cx="322.8" cy="350.4" r="1.0" fill="#111"/><circle cx="323.9" cy="352.7" r="1.0" fill="#111"/><circle cx="325.0" cy="355.2" r="1.0" fill="#111"/><circle cx="326.1" cy="357.8" r="1.0" fill="#111"/><circle cx="327.2" cy="360.5" r="1.0" fill="#111"/><circle cx="328.3" cy="363.2" r="1.0" fill="#111"/><circle cx="329.4" cy="366.0" r="1.0" fill="#111"/><circle cx="330.5" cy="368.8" r="1.0" fill="#111"/><circle cx="331.6" cy="371.7" r="1.0" fill="#111"/><circle cx="332.7" cy="374.5" r="1.0" fill="#111"/><circle cx="333.8" cy="377.4" r="1.0" fill="#111"/><circle cx="334.9" cy="380.2" r="1.0" fill="#111"/><circle cx="336.0" cy="382.9" r="1.0" fill="#111"/><circle cx="337.1" cy="385.6" r="1.0" fill="#111"/><circle cx="338.2" cy="388.2" r="1.0" fill="#111"/><circle cx="339.3" cy="390.7" r="1.0" fill="#111"/><circle cx="340.4" cy="393.1" r="1.0" fill="#111"/><circle cx="341.5" cy="395.4" r="1.0" fill="#111"/><circle cx="342.6" cy="397.5" r="1.0" fill="#111"/><circle cx="343.7" cy="399.6" r="1.0" fill="#111"/><circle cx="344.8" cy="401.5" r="1.0" fill="#111"/><circle cx="345.9" cy="403.2" r="1.0" fill="#111"/><circle cx="347.0" cy="404.9" r="1.0" fill="#111"/><circle cx="348.1" cy="406.4" r="1.0" fill="#111"/><circle cx="349.2" cy="407.8" r="1.0" fill="#111"/><circle cx="350.3" cy="409.1" r="1.0" fill="#111"/><circle cx="351.4" cy="410.3" r="1.0" fill="#111"/><circle cx="352.5" cy="411.3" r="1.0" fill="#111"/><circle cx="353.6" cy="412.3" r="1.0" fill="#111"/><circle cx="354.7" cy="413.2" r="1.0" fill="#111"/><circle cx="355.8" cy="414.0" r="1.0" fill="#111"/>
<polyline points="356.0,414.2 356.5,414.5 357.0,414.8 357.5,415.1 358.0,415.4 358.5,415.7 359.0,416.0 359.5,416.2 360.0,416.5 360.5,416.7 361.0,416.9 361.5,417.1 362.0,417.3 362.5,417.5 363.0,417.7 363.5,417.9 364.0,418.1 364.5,418.2 365.0,418.4 365.5,418.5 366.0,418.6 366.5,418.8 367.0,418.9 367.5,419.0 368.0,419.1 368.5,419.2 369.0,419.3 369.5,419.4 370.0,419.5 370.5,419.6 371.0,419.7 371.5,419.8 372.0,419.8 372.5,419.9 373.0,420.0 373.5,420.0 374.0,420.1 374.5,420.1" fill="none" stroke="#111" stroke-width="1.3"/>
<path d="M222.7,312.8 L222.7,421.2 L375.4,421.2" fill="none" stroke="#111" stroke-width="1.3"/>
<line x1="222.7" y1="322.7" x2="225.2" y2="322.7" stroke="#111" stroke-width="1.0"/>
<line x1="222.7" y1="371.6" x2="225.2" y2="371.6" stroke="#111" stroke-width="1.0"/>
<line x1="222.7" y1="347.2" x2="224.2" y2="347.2" stroke="#111" stroke-width="0.9"/>
<line x1="222.7" y1="396" x2="224.2" y2="396" stroke="#111" stroke-width="0.9"/>
<line x1="222.7" y1="421.2" x2="222.7" y2="418.2" stroke="#111" stroke-width="0.9"/>
<line x1="229.3" y1="421.2" x2="229.3" y2="419.5" stroke="#111" stroke-width="0.9"/>
<line x1="233.1" y1="421.2" x2="233.1" y2="419.5" stroke="#111" stroke-width="0.9"/>
<line x1="235.8" y1="421.2" x2="235.8" y2="419.5" stroke="#111" stroke-width="0.9"/>
<line x1="237.9" y1="421.2" x2="237.9" y2="419.5" stroke="#111" stroke-width="0.9"/>
<line x1="239.7" y1="421.2" x2="239.7" y2="419.5" stroke="#111" stroke-width="0.9"/>
<line x1="241.1" y1="421.2" x2="241.1" y2="419.5" stroke="#111" stroke-width="0.9"/>
<line x1="242.4" y1="421.2" x2="242.4" y2="419.5" stroke="#111" stroke-width="0.9"/>
<line x1="243.5" y1="421.2" x2="243.5" y2="419.5" stroke="#111" stroke-width="0.9"/>
<line x1="244.5" y1="421.2" x2="244.5" y2="418.2" stroke="#111" stroke-width="0.9"/>
<line x1="251.1" y1="421.2" x2="251.1" y2="419.5" stroke="#111" stroke-width="0.9"/>
<line x1="254.9" y1="421.2" x2="254.9" y2="419.5" stroke="#111" stroke-width="0.9"/>
<line x1="257.6" y1="421.2" x2="257.6" y2="419.5" stroke="#111" stroke-width="0.9"/>
<line x1="259.7" y1="421.2" x2="259.7" y2="419.5" stroke="#111" stroke-width="0.9"/>
<line x1="261.5" y1="421.2" x2="261.5" y2="419.5" stroke="#111" stroke-width="0.9"/>
<line x1="262.9" y1="421.2" x2="262.9" y2="419.5" stroke="#111" stroke-width="0.9"/>
<line x1="264.2" y1="421.2" x2="264.2" y2="419.5" stroke="#111" stroke-width="0.9"/>
<line x1="265.3" y1="421.2" x2="265.3" y2="419.5" stroke="#111" stroke-width="0.9"/>
<line x1="266.3" y1="421.2" x2="266.3" y2="418.2" stroke="#111" stroke-width="0.9"/>
<line x1="272.9" y1="421.2" x2="272.9" y2="419.5" stroke="#111" stroke-width="0.9"/>
<line x1="276.7" y1="421.2" x2="276.7" y2="419.5" stroke="#111" stroke-width="0.9"/>
<line x1="279.4" y1="421.2" x2="279.4" y2="419.5" stroke="#111" stroke-width="0.9"/>
<line x1="281.5" y1="421.2" x2="281.5" y2="419.5" stroke="#111" stroke-width="0.9"/>
<line x1="283.3" y1="421.2" x2="283.3" y2="419.5" stroke="#111" stroke-width="0.9"/>
<line x1="284.7" y1="421.2" x2="284.7" y2="419.5" stroke="#111" stroke-width="0.9"/>
<line x1="286.0" y1="421.2" x2="286.0" y2="419.5" stroke="#111" stroke-width="0.9"/>
<line x1="287.1" y1="421.2" x2="287.1" y2="419.5" stroke="#111" stroke-width="0.9"/>
<line x1="288.1" y1="421.2" x2="288.1" y2="418.2" stroke="#111" stroke-width="0.9"/>
<line x1="294.7" y1="421.2" x2="294.7" y2="419.5" stroke="#111" stroke-width="0.9"/>
<line x1="298.5" y1="421.2" x2="298.5" y2="419.5" stroke="#111" stroke-width="0.9"/>
<line x1="301.2" y1="421.2" x2="301.2" y2="419.5" stroke="#111" stroke-width="0.9"/>
<line x1="303.3" y1="421.2" x2="303.3" y2="419.5" stroke="#111" stroke-width="0.9"/>
<line x1="305.1" y1="421.2" x2="305.1" y2="419.5" stroke="#111" stroke-width="0.9"/>
<line x1="306.5" y1="421.2" x2="306.5" y2="419.5" stroke="#111" stroke-width="0.9"/>
<line x1="307.8" y1="421.2" x2="307.8" y2="419.5" stroke="#111" stroke-width="0.9"/>
<line x1="308.9" y1="421.2" x2="308.9" y2="419.5" stroke="#111" stroke-width="0.9"/>
<line x1="309.9" y1="421.2" x2="309.9" y2="418.2" stroke="#111" stroke-width="0.9"/>
<line x1="316.5" y1="421.2" x2="316.5" y2="419.5" stroke="#111" stroke-width="0.9"/>
<line x1="320.3" y1="421.2" x2="320.3" y2="419.5" stroke="#111" stroke-width="0.9"/>
<line x1="323.0" y1="421.2" x2="323.0" y2="419.5" stroke="#111" stroke-width="0.9"/>
<line x1="325.1" y1="421.2" x2="325.1" y2="419.5" stroke="#111" stroke-width="0.9"/>
<line x1="326.9" y1="421.2" x2="326.9" y2="419.5" stroke="#111" stroke-width="0.9"/>
<line x1="328.3" y1="421.2" x2="328.3" y2="419.5" stroke="#111" stroke-width="0.9"/>
<line x1="329.6" y1="421.2" x2="329.6" y2="419.5" stroke="#111" stroke-width="0.9"/>
<line x1="330.7" y1="421.2" x2="330.7" y2="419.5" stroke="#111" stroke-width="0.9"/>
<line x1="331.7" y1="421.2" x2="331.7" y2="418.2" stroke="#111" stroke-width="0.9"/>
<line x1="338.3" y1="421.2" x2="338.3" y2="419.5" stroke="#111" stroke-width="0.9"/>
<line x1="342.1" y1="421.2" x2="342.1" y2="419.5" stroke="#111" stroke-width="0.9"/>
<line x1="344.8" y1="421.2" x2="344.8" y2="419.5" stroke="#111" stroke-width="0.9"/>
<line x1="346.9" y1="421.2" x2="346.9" y2="419.5" stroke="#111" stroke-width="0.9"/>
<line x1="348.7" y1="421.2" x2="348.7" y2="419.5" stroke="#111" stroke-width="0.9"/>
<line x1="350.1" y1="421.2" x2="350.1" y2="419.5" stroke="#111" stroke-width="0.9"/>
<line x1="351.4" y1="421.2" x2="351.4" y2="419.5" stroke="#111" stroke-width="0.9"/>
<line x1="352.5" y1="421.2" x2="352.5" y2="419.5" stroke="#111" stroke-width="0.9"/>
<line x1="353.5" y1="421.2" x2="353.5" y2="418.2" stroke="#111" stroke-width="0.9"/>
<line x1="360.1" y1="421.2" x2="360.1" y2="419.5" stroke="#111" stroke-width="0.9"/>
<line x1="363.9" y1="421.2" x2="363.9" y2="419.5" stroke="#111" stroke-width="0.9"/>
<line x1="366.6" y1="421.2" x2="366.6" y2="419.5" stroke="#111" stroke-width="0.9"/>
<line x1="368.7" y1="421.2" x2="368.7" y2="419.5" stroke="#111" stroke-width="0.9"/>
<line x1="370.5" y1="421.2" x2="370.5" y2="419.5" stroke="#111" stroke-width="0.9"/>
<line x1="371.9" y1="421.2" x2="371.9" y2="419.5" stroke="#111" stroke-width="0.9"/>
<line x1="373.2" y1="421.2" x2="373.2" y2="419.5" stroke="#111" stroke-width="0.9"/>
<line x1="374.3" y1="421.2" x2="374.3" y2="419.5" stroke="#111" stroke-width="0.9"/>
<line x1="375.3" y1="421.2" x2="375.3" y2="418.2" stroke="#111" stroke-width="0.9"/>
<text x="219.5" y="327.0" font-size="12.5" font-family="Liberation Sans, sans-serif" fill="#111" text-anchor="end">2.0</text>
<text x="219.5" y="375.8" font-size="12.5" font-family="Liberation Sans, sans-serif" fill="#111" text-anchor="end">1.5</text>
<text x="219.5" y="424.6" font-size="12.5" font-family="Liberation Sans, sans-serif" fill="#111" text-anchor="end">1.0</text>
<text x="226.5" y="437.4" font-size="13" font-family="Liberation Sans, sans-serif" fill="#111" text-anchor="middle">10<tspan font-size="9.4" dx="0.2" dy="-3.2">−3</tspan></text>
<text x="270.3" y="437.4" font-size="13" font-family="Liberation Sans, sans-serif" fill="#111" text-anchor="middle">10<tspan font-size="9.4" dx="0.2" dy="-3.2">−1</tspan></text>
<text x="312.6" y="437.4" font-size="13" font-family="Liberation Sans, sans-serif" fill="#111" text-anchor="middle">10<tspan font-size="9.4" dx="0.2" dy="-3.2">1</tspan></text>
<text x="356.4" y="437.4" font-size="13" font-family="Liberation Sans, sans-serif" fill="#111" text-anchor="middle">10<tspan font-size="9.4" dx="0.2" dy="-3.2">3</tspan></text>
<path d="M266.5,369.4 L279.5,362.6 L279.5,368.1 L317,368.1 L317,362.6 L330,369.4 L317,376.2 L317,370.7 L279.5,370.7 L279.5,376.2 Z" fill="#000"/>
<text x="228" y="387" font-size="13.1" font-family="Liberation Sans, sans-serif" fill="#111">Small</text>
<circle cx="249.9" cy="399.5" r="6.7" fill="#1aa550"/>
<circle cx="348.5" cy="340.2" r="18.4" fill="#1aa550"/>
<text x="334" y="371.8" font-size="13.1" font-family="Liberation Sans, sans-serif" fill="#111">Large</text>
<text x="327.2" y="317.2" font-size="13.1" font-family="Liberation Sans, sans-serif" fill="#111">Rod-like</text>
<rect x="330.7" y="295.8" width="33.9" height="7.9" rx="1" fill="#1aa550"/>
<circle cx="223.9" cy="451.6" r="0.72" fill="#fff" stroke="#787878" stroke-width="0.55"/><circle cx="225.2" cy="451.7" r="0.72" fill="#fff" stroke="#787878" stroke-width="0.55"/><circle cx="226.4" cy="451.8" r="0.72" fill="#fff" stroke="#787878" stroke-width="0.55"/><circle cx="227.7" cy="452.0" r="0.72" fill="#fff" stroke="#787878" stroke-width="0.55"/><circle cx="228.9" cy="452.1" r="0.72" fill="#fff" stroke="#787878" stroke-width="0.55"/><circle cx="230.2" cy="452.2" r="0.72" fill="#fff" stroke="#787878" stroke-width="0.55"/><circle cx="231.4" cy="452.4" r="0.72" fill="#fff" stroke="#787878" stroke-width="0.55"/><circle cx="232.7" cy="452.5" r="0.72" fill="#fff" stroke="#787878" stroke-width="0.55"/><circle cx="233.9" cy="452.7" r="0.72" fill="#fff" stroke="#787878" stroke-width="0.55"/><circle cx="235.2" cy="452.9" r="0.72" fill="#fff" stroke="#787878" stroke-width="0.55"/><circle cx="236.4" cy="453.1" r="0.72" fill="#fff" stroke="#787878" stroke-width="0.55"/><circle cx="237.7" cy="453.4" r="0.72" fill="#fff" stroke="#787878" stroke-width="0.55"/><circle cx="238.9" cy="453.7" r="0.72" fill="#fff" stroke="#787878" stroke-width="0.55"/><circle cx="240.2" cy="454.0" r="0.72" fill="#fff" stroke="#787878" stroke-width="0.55"/><circle cx="241.4" cy="454.3" r="0.72" fill="#fff" stroke="#787878" stroke-width="0.55"/><circle cx="242.7" cy="454.6" r="0.72" fill="#fff" stroke="#787878" stroke-width="0.55"/><circle cx="243.9" cy="455.0" r="0.72" fill="#fff" stroke="#787878" stroke-width="0.55"/><circle cx="245.2" cy="455.4" r="0.72" fill="#fff" stroke="#787878" stroke-width="0.55"/><circle cx="246.4" cy="455.9" r="0.72" fill="#fff" stroke="#787878" stroke-width="0.55"/><circle cx="247.7" cy="456.4" r="0.72" fill="#fff" stroke="#787878" stroke-width="0.55"/><circle cx="248.9" cy="456.9" r="0.72" fill="#fff" stroke="#787878" stroke-width="0.55"/><circle cx="250.2" cy="457.5" r="0.72" fill="#fff" stroke="#787878" stroke-width="0.55"/><circle cx="251.4" cy="458.2" r="0.72" fill="#fff" stroke="#787878" stroke-width="0.55"/><circle cx="252.7" cy="458.9" r="0.72" fill="#fff" stroke="#787878" stroke-width="0.55"/><circle cx="253.9" cy="459.6" r="0.72" fill="#fff" stroke="#787878" stroke-width="0.55"/><circle cx="255.2" cy="460.5" r="0.72" fill="#fff" stroke="#787878" stroke-width="0.55"/><circle cx="256.4" cy="461.4" r="0.72" fill="#fff" stroke="#787878" stroke-width="0.55"/><circle cx="257.6" cy="462.3" r="0.72" fill="#fff" stroke="#787878" stroke-width="0.55"/><circle cx="258.9" cy="463.4" r="0.72" fill="#fff" stroke="#787878" stroke-width="0.55"/><circle cx="260.1" cy="464.5" r="0.72" fill="#fff" stroke="#787878" stroke-width="0.55"/><circle cx="261.4" cy="465.7" r="0.72" fill="#fff" stroke="#787878" stroke-width="0.55"/><circle cx="262.6" cy="467.0" r="0.72" fill="#fff" stroke="#787878" stroke-width="0.55"/><circle cx="263.9" cy="468.3" r="0.72" fill="#fff" stroke="#787878" stroke-width="0.55"/><circle cx="265.1" cy="469.8" r="0.72" fill="#fff" stroke="#787878" stroke-width="0.55"/><circle cx="266.4" cy="471.3" r="0.72" fill="#fff" stroke="#787878" stroke-width="0.55"/><circle cx="267.6" cy="473.0" r="0.72" fill="#fff" stroke="#787878" stroke-width="0.55"/><circle cx="268.9" cy="474.7" r="0.72" fill="#fff" stroke="#787878" stroke-width="0.55"/><circle cx="270.1" cy="476.5" r="0.72" fill="#fff" stroke="#787878" stroke-width="0.55"/><circle cx="271.4" cy="478.4" r="0.72" fill="#fff" stroke="#787878" stroke-width="0.55"/><circle cx="272.6" cy="480.4" r="0.72" fill="#fff" stroke="#787878" stroke-width="0.55"/><circle cx="273.9" cy="482.5" r="0.72" fill="#fff" stroke="#787878" stroke-width="0.55"/><circle cx="275.1" cy="484.6" r="0.72" fill="#fff" stroke="#787878" stroke-width="0.55"/><circle cx="276.4" cy="486.8" r="0.72" fill="#fff" stroke="#787878" stroke-width="0.55"/><circle cx="277.6" cy="489.0" r="0.72" fill="#fff" stroke="#787878" stroke-width="0.55"/><circle cx="278.9" cy="491.3" r="0.72" fill="#fff" stroke="#787878" stroke-width="0.55"/><circle cx="280.1" cy="493.7" r="0.72" fill="#fff" stroke="#787878" stroke-width="0.55"/><circle cx="281.4" cy="496.1" r="0.72" fill="#fff" stroke="#787878" stroke-width="0.55"/><circle cx="282.6" cy="498.5" r="0.72" fill="#fff" stroke="#787878" stroke-width="0.55"/><circle cx="283.9" cy="500.9" r="0.72" fill="#fff" stroke="#787878" stroke-width="0.55"/><circle cx="285.1" cy="503.3" r="0.72" fill="#fff" stroke="#787878" stroke-width="0.55"/><circle cx="286.4" cy="505.6" r="0.72" fill="#fff" stroke="#787878" stroke-width="0.55"/><circle cx="287.6" cy="508.0" r="0.72" fill="#fff" stroke="#787878" stroke-width="0.55"/><circle cx="288.9" cy="510.3" r="0.72" fill="#fff" stroke="#787878" stroke-width="0.55"/><circle cx="290.1" cy="512.6" r="0.72" fill="#fff" stroke="#787878" stroke-width="0.55"/><circle cx="291.4" cy="514.8" r="0.72" fill="#fff" stroke="#787878" stroke-width="0.55"/><circle cx="292.6" cy="516.9" r="0.72" fill="#fff" stroke="#787878" stroke-width="0.55"/><circle cx="293.9" cy="519.0" r="0.72" fill="#fff" stroke="#787878" stroke-width="0.55"/><circle cx="295.1" cy="521.0" r="0.72" fill="#fff" stroke="#787878" stroke-width="0.55"/><circle cx="296.4" cy="522.9" r="0.72" fill="#fff" stroke="#787878" stroke-width="0.55"/><circle cx="297.6" cy="524.8" r="0.72" fill="#fff" stroke="#787878" stroke-width="0.55"/><circle cx="298.9" cy="526.5" r="0.72" fill="#fff" stroke="#787878" stroke-width="0.55"/><circle cx="300.1" cy="528.1" r="0.72" fill="#fff" stroke="#787878" stroke-width="0.55"/><circle cx="301.4" cy="529.7" r="0.72" fill="#fff" stroke="#787878" stroke-width="0.55"/><circle cx="302.6" cy="531.2" r="0.72" fill="#fff" stroke="#787878" stroke-width="0.55"/><circle cx="303.9" cy="532.6" r="0.72" fill="#fff" stroke="#787878" stroke-width="0.55"/><circle cx="305.1" cy="533.9" r="0.72" fill="#fff" stroke="#787878" stroke-width="0.55"/><circle cx="306.4" cy="535.1" r="0.72" fill="#fff" stroke="#787878" stroke-width="0.55"/><circle cx="307.6" cy="536.2" r="0.72" fill="#fff" stroke="#787878" stroke-width="0.55"/><circle cx="308.9" cy="537.3" r="0.72" fill="#fff" stroke="#787878" stroke-width="0.55"/><circle cx="310.1" cy="538.2" r="0.72" fill="#fff" stroke="#787878" stroke-width="0.55"/><circle cx="311.4" cy="539.2" r="0.72" fill="#fff" stroke="#787878" stroke-width="0.55"/><circle cx="312.6" cy="540.0" r="0.72" fill="#fff" stroke="#787878" stroke-width="0.55"/><circle cx="313.9" cy="540.8" r="0.72" fill="#fff" stroke="#787878" stroke-width="0.55"/><circle cx="315.1" cy="541.5" r="0.72" fill="#fff" stroke="#787878" stroke-width="0.55"/><circle cx="316.4" cy="542.1" r="0.72" fill="#fff" stroke="#787878" stroke-width="0.55"/><circle cx="317.6" cy="542.7" r="0.72" fill="#fff" stroke="#787878" stroke-width="0.55"/><circle cx="318.9" cy="543.3" r="0.72" fill="#fff" stroke="#787878" stroke-width="0.55"/><circle cx="320.1" cy="543.8" r="0.72" fill="#fff" stroke="#787878" stroke-width="0.55"/><circle cx="321.4" cy="544.3" r="0.72" fill="#fff" stroke="#787878" stroke-width="0.55"/><circle cx="322.6" cy="544.7" r="0.72" fill="#fff" stroke="#787878" stroke-width="0.55"/><circle cx="323.9" cy="545.1" r="0.72" fill="#fff" stroke="#787878" stroke-width="0.55"/><circle cx="325.1" cy="545.5" r="0.72" fill="#fff" stroke="#787878" stroke-width="0.55"/><circle cx="326.4" cy="545.8" r="0.72" fill="#fff" stroke="#787878" stroke-width="0.55"/><circle cx="327.6" cy="546.1" r="0.72" fill="#fff" stroke="#787878" stroke-width="0.55"/><circle cx="328.9" cy="546.4" r="0.72" fill="#fff" stroke="#787878" stroke-width="0.55"/><circle cx="330.1" cy="546.6" r="0.72" fill="#fff" stroke="#787878" stroke-width="0.55"/><circle cx="331.4" cy="546.8" r="0.72" fill="#fff" stroke="#787878" stroke-width="0.55"/><circle cx="332.6" cy="547.0" r="0.72" fill="#fff" stroke="#787878" stroke-width="0.55"/><circle cx="333.9" cy="547.2" r="0.72" fill="#fff" stroke="#787878" stroke-width="0.55"/><circle cx="335.1" cy="547.4" r="0.72" fill="#fff" stroke="#787878" stroke-width="0.55"/><circle cx="336.4" cy="547.6" r="0.72" fill="#fff" stroke="#787878" stroke-width="0.55"/><circle cx="337.6" cy="547.7" r="0.72" fill="#fff" stroke="#787878" stroke-width="0.55"/><circle cx="338.9" cy="547.8" r="0.72" fill="#fff" stroke="#787878" stroke-width="0.55"/><circle cx="340.1" cy="547.9" r="0.72" fill="#fff" stroke="#787878" stroke-width="0.55"/><circle cx="341.4" cy="548.0" r="0.72" fill="#fff" stroke="#787878" stroke-width="0.55"/><circle cx="342.6" cy="548.1" r="0.72" fill="#fff" stroke="#787878" stroke-width="0.55"/><circle cx="343.9" cy="548.2" r="0.72" fill="#fff" stroke="#787878" stroke-width="0.55"/><circle cx="345.1" cy="548.3" r="0.72" fill="#fff" stroke="#787878" stroke-width="0.55"/><circle cx="346.4" cy="548.4" r="0.72" fill="#fff" stroke="#787878" stroke-width="0.55"/><circle cx="347.6" cy="548.5" r="0.72" fill="#fff" stroke="#787878" stroke-width="0.55"/><circle cx="348.9" cy="548.5" r="0.72" fill="#fff" stroke="#787878" stroke-width="0.55"/><circle cx="350.1" cy="548.6" r="0.72" fill="#fff" stroke="#787878" stroke-width="0.55"/><circle cx="351.4" cy="548.6" r="0.72" fill="#fff" stroke="#787878" stroke-width="0.55"/><circle cx="352.6" cy="548.7" r="0.72" fill="#fff" stroke="#787878" stroke-width="0.55"/><circle cx="353.9" cy="548.7" r="0.72" fill="#fff" stroke="#787878" stroke-width="0.55"/><circle cx="355.1" cy="548.7" r="0.72" fill="#fff" stroke="#787878" stroke-width="0.55"/><circle cx="356.4" cy="548.8" r="0.72" fill="#fff" stroke="#787878" stroke-width="0.55"/><circle cx="357.6" cy="548.8" r="0.72" fill="#fff" stroke="#787878" stroke-width="0.55"/><circle cx="358.9" cy="548.8" r="0.72" fill="#fff" stroke="#787878" stroke-width="0.55"/><circle cx="360.1" cy="548.9" r="0.72" fill="#fff" stroke="#787878" stroke-width="0.55"/><circle cx="361.4" cy="548.9" r="0.72" fill="#fff" stroke="#787878" stroke-width="0.55"/><circle cx="362.6" cy="548.9" r="0.72" fill="#fff" stroke="#787878" stroke-width="0.55"/><circle cx="363.9" cy="548.9" r="0.72" fill="#fff" stroke="#787878" stroke-width="0.55"/><circle cx="365.1" cy="548.9" r="0.72" fill="#fff" stroke="#787878" stroke-width="0.55"/><circle cx="366.4" cy="548.9" r="0.72" fill="#fff" stroke="#787878" stroke-width="0.55"/><circle cx="367.6" cy="549.0" r="0.72" fill="#fff" stroke="#787878" stroke-width="0.55"/><circle cx="368.9" cy="549.0" r="0.72" fill="#fff" stroke="#787878" stroke-width="0.55"/><circle cx="370.1" cy="549.0" r="0.72" fill="#fff" stroke="#787878" stroke-width="0.55"/><circle cx="371.4" cy="549.0" r="0.72" fill="#fff" stroke="#787878" stroke-width="0.55"/><circle cx="372.6" cy="549.0" r="0.72" fill="#fff" stroke="#787878" stroke-width="0.55"/><circle cx="373.9" cy="549.0" r="0.72" fill="#fff" stroke="#787878" stroke-width="0.55"/>
<circle cx="223.9" cy="500.3" r="1.05" fill="#111"/><circle cx="225.4" cy="500.3" r="1.05" fill="#111"/><circle cx="226.9" cy="500.4" r="1.05" fill="#111"/><circle cx="228.4" cy="500.5" r="1.05" fill="#111"/><circle cx="229.9" cy="500.6" r="1.05" fill="#111"/><circle cx="231.4" cy="500.7" r="1.05" fill="#111"/><circle cx="232.9" cy="500.8" r="1.05" fill="#111"/><circle cx="234.4" cy="500.9" r="1.05" fill="#111"/><circle cx="235.9" cy="501.0" r="1.05" fill="#111"/><circle cx="237.4" cy="501.1" r="1.05" fill="#111"/><circle cx="238.9" cy="501.3" r="1.05" fill="#111"/><circle cx="240.4" cy="501.5" r="1.05" fill="#111"/><circle cx="241.9" cy="501.7" r="1.05" fill="#111"/><circle cx="243.4" cy="501.9" r="1.05" fill="#111"/><circle cx="244.9" cy="502.1" r="1.05" fill="#111"/><circle cx="246.4" cy="502.4" r="1.05" fill="#111"/><circle cx="247.9" cy="502.7" r="1.05" fill="#111"/><circle cx="249.4" cy="503.0" r="1.05" fill="#111"/><circle cx="250.9" cy="503.4" r="1.05" fill="#111"/><circle cx="252.4" cy="503.8" r="1.05" fill="#111"/><circle cx="253.9" cy="504.3" r="1.05" fill="#111"/><circle cx="255.4" cy="504.7" r="1.05" fill="#111"/><circle cx="256.9" cy="505.3" r="1.05" fill="#111"/><circle cx="258.4" cy="505.9" r="1.05" fill="#111"/><circle cx="259.9" cy="506.5" r="1.05" fill="#111"/><circle cx="261.4" cy="507.2" r="1.05" fill="#111"/><circle cx="262.9" cy="507.9" r="1.05" fill="#111"/><circle cx="264.4" cy="508.8" r="1.05" fill="#111"/><circle cx="265.9" cy="509.6" r="1.05" fill="#111"/><circle cx="267.4" cy="510.6" r="1.05" fill="#111"/><circle cx="268.9" cy="511.6" r="1.05" fill="#111"/><circle cx="270.4" cy="512.6" r="1.05" fill="#111"/><circle cx="271.9" cy="513.8" r="1.05" fill="#111"/><circle cx="273.4" cy="514.9" r="1.05" fill="#111"/><circle cx="274.9" cy="516.2" r="1.05" fill="#111"/><circle cx="276.4" cy="517.5" r="1.05" fill="#111"/><circle cx="277.9" cy="518.8" r="1.05" fill="#111"/><circle cx="279.4" cy="520.1" r="1.05" fill="#111"/><circle cx="280.9" cy="521.5" r="1.05" fill="#111"/><circle cx="282.4" cy="522.9" r="1.05" fill="#111"/><circle cx="283.9" cy="524.4" r="1.05" fill="#111"/><circle cx="285.4" cy="525.8" r="1.05" fill="#111"/><circle cx="286.9" cy="527.2" r="1.05" fill="#111"/><circle cx="288.4" cy="528.6" r="1.05" fill="#111"/><circle cx="289.9" cy="529.9" r="1.05" fill="#111"/><circle cx="291.4" cy="531.3" r="1.05" fill="#111"/><circle cx="292.9" cy="532.6" r="1.05" fill="#111"/><circle cx="294.4" cy="533.8" r="1.05" fill="#111"/><circle cx="295.9" cy="535.0" r="1.05" fill="#111"/><circle cx="297.4" cy="536.1" r="1.05" fill="#111"/><circle cx="298.9" cy="537.2" r="1.05" fill="#111"/><circle cx="300.4" cy="538.2" r="1.05" fill="#111"/><circle cx="301.9" cy="539.1" r="1.05" fill="#111"/><circle cx="303.4" cy="540.0" r="1.05" fill="#111"/><circle cx="304.9" cy="540.8" r="1.05" fill="#111"/><circle cx="306.4" cy="541.6" r="1.05" fill="#111"/><circle cx="307.9" cy="542.3" r="1.05" fill="#111"/><circle cx="309.4" cy="543.0" r="1.05" fill="#111"/><circle cx="310.9" cy="543.5" r="1.05" fill="#111"/><circle cx="312.4" cy="544.1" r="1.05" fill="#111"/><circle cx="313.9" cy="544.6" r="1.05" fill="#111"/><circle cx="315.4" cy="545.0" r="1.05" fill="#111"/><circle cx="316.9" cy="545.4" r="1.05" fill="#111"/><circle cx="318.4" cy="545.8" r="1.05" fill="#111"/><circle cx="319.9" cy="546.2" r="1.05" fill="#111"/><circle cx="321.4" cy="546.5" r="1.05" fill="#111"/><circle cx="322.9" cy="546.7" r="1.05" fill="#111"/><circle cx="324.4" cy="547.0" r="1.05" fill="#111"/><circle cx="325.9" cy="547.2" r="1.05" fill="#111"/><circle cx="327.4" cy="547.4" r="1.05" fill="#111"/><circle cx="328.9" cy="547.6" r="1.05" fill="#111"/><circle cx="330.4" cy="547.7" r="1.05" fill="#111"/><circle cx="331.9" cy="547.9" r="1.05" fill="#111"/><circle cx="333.4" cy="548.0" r="1.05" fill="#111"/><circle cx="334.9" cy="548.1" r="1.05" fill="#111"/><circle cx="336.4" cy="548.2" r="1.05" fill="#111"/><circle cx="337.9" cy="548.3" r="1.05" fill="#111"/><circle cx="339.4" cy="548.4" r="1.05" fill="#111"/><circle cx="340.9" cy="548.5" r="1.05" fill="#111"/><circle cx="342.4" cy="548.5" r="1.05" fill="#111"/><circle cx="343.9" cy="548.6" r="1.05" fill="#111"/><circle cx="345.4" cy="548.7" r="1.05" fill="#111"/><circle cx="346.9" cy="548.7" r="1.05" fill="#111"/><circle cx="348.4" cy="548.8" r="1.05" fill="#111"/><circle cx="349.9" cy="548.8" r="1.05" fill="#111"/><circle cx="351.4" cy="548.8" r="1.05" fill="#111"/><circle cx="352.9" cy="548.9" r="1.05" fill="#111"/><circle cx="354.4" cy="548.9" r="1.05" fill="#111"/><circle cx="355.9" cy="548.9" r="1.05" fill="#111"/><circle cx="357.4" cy="548.9" r="1.05" fill="#111"/><circle cx="358.9" cy="548.9" r="1.05" fill="#111"/><circle cx="360.4" cy="549.0" r="1.05" fill="#111"/><circle cx="361.9" cy="549.0" r="1.05" fill="#111"/><circle cx="363.4" cy="549.0" r="1.05" fill="#111"/><circle cx="364.9" cy="549.0" r="1.05" fill="#111"/><circle cx="366.4" cy="549.0" r="1.05" fill="#111"/><circle cx="367.9" cy="549.0" r="1.05" fill="#111"/><circle cx="369.4" cy="549.0" r="1.05" fill="#111"/><circle cx="370.9" cy="549.0" r="1.05" fill="#111"/><circle cx="372.4" cy="549.0" r="1.05" fill="#111"/><circle cx="373.9" cy="549.1" r="1.05" fill="#111"/>
<path d="M223.9,442.8 L223.9,549.1 L374.5,549.1" fill="none" stroke="#111" stroke-width="1.3"/>
<line x1="223.9" y1="450.7" x2="226.4" y2="450.7" stroke="#111" stroke-width="1.0"/>
<line x1="223.9" y1="499.6" x2="226.4" y2="499.6" stroke="#111" stroke-width="1.0"/>
<line x1="223.9" y1="475.2" x2="225.4" y2="475.2" stroke="#111" stroke-width="0.9"/>
<line x1="223.9" y1="524" x2="225.4" y2="524" stroke="#111" stroke-width="0.9"/>
<line x1="223.9" y1="549.1" x2="223.9" y2="546.1" stroke="#111" stroke-width="0.9"/>
<line x1="232.9" y1="549.1" x2="232.9" y2="547.4" stroke="#111" stroke-width="0.9"/>
<line x1="238.1" y1="549.1" x2="238.1" y2="547.4" stroke="#111" stroke-width="0.9"/>
<line x1="241.8" y1="549.1" x2="241.8" y2="547.4" stroke="#111" stroke-width="0.9"/>
<line x1="244.7" y1="549.1" x2="244.7" y2="547.4" stroke="#111" stroke-width="0.9"/>
<line x1="247.1" y1="549.1" x2="247.1" y2="547.4" stroke="#111" stroke-width="0.9"/>
<line x1="249.1" y1="549.1" x2="249.1" y2="547.4" stroke="#111" stroke-width="0.9"/>
<line x1="250.8" y1="549.1" x2="250.8" y2="547.4" stroke="#111" stroke-width="0.9"/>
<line x1="252.3" y1="549.1" x2="252.3" y2="547.4" stroke="#111" stroke-width="0.9"/>
<line x1="253.7" y1="549.1" x2="253.7" y2="546.1" stroke="#111" stroke-width="0.9"/>
<line x1="262.7" y1="549.1" x2="262.7" y2="547.4" stroke="#111" stroke-width="0.9"/>
<line x1="267.9" y1="549.1" x2="267.9" y2="547.4" stroke="#111" stroke-width="0.9"/>
<line x1="271.6" y1="549.1" x2="271.6" y2="547.4" stroke="#111" stroke-width="0.9"/>
<line x1="274.5" y1="549.1" x2="274.5" y2="547.4" stroke="#111" stroke-width="0.9"/>
<line x1="276.9" y1="549.1" x2="276.9" y2="547.4" stroke="#111" stroke-width="0.9"/>
<line x1="278.9" y1="549.1" x2="278.9" y2="547.4" stroke="#111" stroke-width="0.9"/>
<line x1="280.6" y1="549.1" x2="280.6" y2="547.4" stroke="#111" stroke-width="0.9"/>
<line x1="282.1" y1="549.1" x2="282.1" y2="547.4" stroke="#111" stroke-width="0.9"/>
<line x1="283.5" y1="549.1" x2="283.5" y2="546.1" stroke="#111" stroke-width="0.9"/>
<line x1="292.5" y1="549.1" x2="292.5" y2="547.4" stroke="#111" stroke-width="0.9"/>
<line x1="297.7" y1="549.1" x2="297.7" y2="547.4" stroke="#111" stroke-width="0.9"/>
<line x1="301.4" y1="549.1" x2="301.4" y2="547.4" stroke="#111" stroke-width="0.9"/>
<line x1="304.3" y1="549.1" x2="304.3" y2="547.4" stroke="#111" stroke-width="0.9"/>
<line x1="306.7" y1="549.1" x2="306.7" y2="547.4" stroke="#111" stroke-width="0.9"/>
<line x1="308.7" y1="549.1" x2="308.7" y2="547.4" stroke="#111" stroke-width="0.9"/>
<line x1="310.4" y1="549.1" x2="310.4" y2="547.4" stroke="#111" stroke-width="0.9"/>
<line x1="311.9" y1="549.1" x2="311.9" y2="547.4" stroke="#111" stroke-width="0.9"/>
<line x1="313.3" y1="549.1" x2="313.3" y2="546.1" stroke="#111" stroke-width="0.9"/>
<line x1="322.3" y1="549.1" x2="322.3" y2="547.4" stroke="#111" stroke-width="0.9"/>
<line x1="327.5" y1="549.1" x2="327.5" y2="547.4" stroke="#111" stroke-width="0.9"/>
<line x1="331.2" y1="549.1" x2="331.2" y2="547.4" stroke="#111" stroke-width="0.9"/>
<line x1="334.1" y1="549.1" x2="334.1" y2="547.4" stroke="#111" stroke-width="0.9"/>
<line x1="336.5" y1="549.1" x2="336.5" y2="547.4" stroke="#111" stroke-width="0.9"/>
<line x1="338.5" y1="549.1" x2="338.5" y2="547.4" stroke="#111" stroke-width="0.9"/>
<line x1="340.2" y1="549.1" x2="340.2" y2="547.4" stroke="#111" stroke-width="0.9"/>
<line x1="341.7" y1="549.1" x2="341.7" y2="547.4" stroke="#111" stroke-width="0.9"/>
<line x1="343.1" y1="549.1" x2="343.1" y2="546.1" stroke="#111" stroke-width="0.9"/>
<line x1="352.1" y1="549.1" x2="352.1" y2="547.4" stroke="#111" stroke-width="0.9"/>
<line x1="357.3" y1="549.1" x2="357.3" y2="547.4" stroke="#111" stroke-width="0.9"/>
<line x1="361.0" y1="549.1" x2="361.0" y2="547.4" stroke="#111" stroke-width="0.9"/>
<line x1="363.9" y1="549.1" x2="363.9" y2="547.4" stroke="#111" stroke-width="0.9"/>
<line x1="366.3" y1="549.1" x2="366.3" y2="547.4" stroke="#111" stroke-width="0.9"/>
<line x1="368.3" y1="549.1" x2="368.3" y2="547.4" stroke="#111" stroke-width="0.9"/>
<line x1="370.0" y1="549.1" x2="370.0" y2="547.4" stroke="#111" stroke-width="0.9"/>
<line x1="371.5" y1="549.1" x2="371.5" y2="547.4" stroke="#111" stroke-width="0.9"/>
<line x1="372.9" y1="549.1" x2="372.9" y2="546.1" stroke="#111" stroke-width="0.9"/>
<text x="220.2" y="454.6" font-size="12.5" font-family="Liberation Sans, sans-serif" fill="#111" text-anchor="end">2.0</text>
<text x="220.2" y="503.4" font-size="12.5" font-family="Liberation Sans, sans-serif" fill="#111" text-anchor="end">1.5</text>
<text x="220.2" y="552.2" font-size="12.5" font-family="Liberation Sans, sans-serif" fill="#111" text-anchor="end">1.0</text>
<text x="228.0" y="565" font-size="13" font-family="Liberation Sans, sans-serif" fill="#111" text-anchor="middle">10<tspan font-size="9.4" dx="0.2" dy="-3.2">−3</tspan></text>
<text x="271.5" y="565" font-size="13" font-family="Liberation Sans, sans-serif" fill="#111" text-anchor="middle">10<tspan font-size="9.4" dx="0.2" dy="-3.2">−1</tspan></text>
<text x="345.5" y="565" font-size="13" font-family="Liberation Sans, sans-serif" fill="#111" text-anchor="middle">10<tspan font-size="9.4" dx="0.2" dy="-3.2">1</tspan></text>
<path d="M232.3,454.5 L238.8,467.5 L233.8,467.5 L233.8,484.4 L238.8,484.4 L232.3,497.4 L225.8,484.4 L230.8,484.4 L230.8,467.5 L225.8,467.5 Z" fill="#000"/>
<text x="287.2" y="483.6" font-size="13.1" font-family="Liberation Sans, sans-serif" fill="#111">Dilute</text>
<text x="228" y="524.2" font-size="13.1" font-family="Liberation Sans, sans-serif" fill="#111">Dense</text>
<circle cx="301.8" cy="495.9" r="3.5" fill="#1aa550"/>
<circle cx="317.6" cy="498.2" r="3.5" fill="#1aa550"/>
<circle cx="246.9" cy="538.2" r="3.5" fill="#1aa550"/>
<circle cx="253.6" cy="543.2" r="3.5" fill="#1aa550"/>
<circle cx="259.5" cy="531" r="3.5" fill="#1aa550"/>
<circle cx="261.5" cy="541.2" r="3.5" fill="#1aa550"/>
<circle cx="272.6" cy="536.2" r="3.5" fill="#1aa550"/>
<circle cx="277.6" cy="531" r="3.5" fill="#1aa550"/>
<text x="292.5" y="581.7" font-size="13.4" font-family="Liberation Sans, sans-serif" fill="#111" text-anchor="middle">Lag time (<tspan font-family="Liberation Serif, serif">τ</tspan>)</text>
<text x="196.8" y="601" font-size="15" font-family="Liberation Sans, sans-serif" fill="#111" text-anchor="middle">Fluorescence auto-correlation</text>
<text x="394" y="303" font-size="22" font-weight="bold" font-family="Liberation Sans, sans-serif">d</text>
<path d="M482.1,361.5 L482.1,488.7 L681.7,488.7" fill="none" stroke="#222" stroke-width="1.5"/>
<line x1="482.1" y1="361.5" x2="485.70000000000005" y2="361.5" stroke="#222" stroke-width="1.2"/>
<line x1="482.1" y1="382.8" x2="485.70000000000005" y2="382.8" stroke="#222" stroke-width="1.2"/>
<line x1="482.1" y1="404.1" x2="485.70000000000005" y2="404.1" stroke="#222" stroke-width="1.2"/>
<line x1="482.1" y1="425.4" x2="485.70000000000005" y2="425.4" stroke="#222" stroke-width="1.2"/>
<line x1="482.1" y1="446.7" x2="485.70000000000005" y2="446.7" stroke="#222" stroke-width="1.2"/>
<line x1="482.1" y1="468.0" x2="485.70000000000005" y2="468.0" stroke="#222" stroke-width="1.2"/>
<line x1="484.1" y1="488.7" x2="484.1" y2="485.09999999999997" stroke="#111" stroke-width="0.9"/>
<line x1="495.9" y1="488.7" x2="495.9" y2="486.7" stroke="#111" stroke-width="0.9"/>
<line x1="502.8" y1="488.7" x2="502.8" y2="486.7" stroke="#111" stroke-width="0.9"/>
<line x1="507.7" y1="488.7" x2="507.7" y2="486.7" stroke="#111" stroke-width="0.9"/>
<line x1="511.5" y1="488.7" x2="511.5" y2="486.7" stroke="#111" stroke-width="0.9"/>
<line x1="514.6" y1="488.7" x2="514.6" y2="486.7" stroke="#111" stroke-width="0.9"/>
<line x1="517.2" y1="488.7" x2="517.2" y2="486.7" stroke="#111" stroke-width="0.9"/>
<line x1="519.5" y1="488.7" x2="519.5" y2="486.7" stroke="#111" stroke-width="0.9"/>
<line x1="521.5" y1="488.7" x2="521.5" y2="486.7" stroke="#111" stroke-width="0.9"/>
<line x1="523.3" y1="488.7" x2="523.3" y2="485.09999999999997" stroke="#111" stroke-width="0.9"/>
<line x1="535.1" y1="488.7" x2="535.1" y2="486.7" stroke="#111" stroke-width="0.9"/>
<line x1="542.0" y1="488.7" x2="542.0" y2="486.7" stroke="#111" stroke-width="0.9"/>
<line x1="546.9" y1="488.7" x2="546.9" y2="486.7" stroke="#111" stroke-width="0.9"/>
<line x1="550.7" y1="488.7" x2="550.7" y2="486.7" stroke="#111" stroke-width="0.9"/>
<line x1="553.8" y1="488.7" x2="553.8" y2="486.7" stroke="#111" stroke-width="0.9"/>
<line x1="556.4" y1="488.7" x2="556.4" y2="486.7" stroke="#111" stroke-width="0.9"/>
<line x1="558.7" y1="488.7" x2="558.7" y2="486.7" stroke="#111" stroke-width="0.9"/>
<line x1="560.7" y1="488.7" x2="560.7" y2="486.7" stroke="#111" stroke-width="0.9"/>
<line x1="562.5" y1="488.7" x2="562.5" y2="485.09999999999997" stroke="#111" stroke-width="0.9"/>
<line x1="574.3" y1="488.7" x2="574.3" y2="486.7" stroke="#111" stroke-width="0.9"/>
<line x1="581.2" y1="488.7" x2="581.2" y2="486.7" stroke="#111" stroke-width="0.9"/>
<line x1="586.1" y1="488.7" x2="586.1" y2="486.7" stroke="#111" stroke-width="0.9"/>
<line x1="589.9" y1="488.7" x2="589.9" y2="486.7" stroke="#111" stroke-width="0.9"/>
<line x1="593.0" y1="488.7" x2="593.0" y2="486.7" stroke="#111" stroke-width="0.9"/>
<line x1="595.6" y1="488.7" x2="595.6" y2="486.7" stroke="#111" stroke-width="0.9"/>
<line x1="597.9" y1="488.7" x2="597.9" y2="486.7" stroke="#111" stroke-width="0.9"/>
<line x1="599.9" y1="488.7" x2="599.9" y2="486.7" stroke="#111" stroke-width="0.9"/>
<line x1="601.7" y1="488.7" x2="601.7" y2="485.09999999999997" stroke="#111" stroke-width="0.9"/>
<line x1="613.5" y1="488.7" x2="613.5" y2="486.7" stroke="#111" stroke-width="0.9"/>
<line x1="620.4" y1="488.7" x2="620.4" y2="486.7" stroke="#111" stroke-width="0.9"/>
<line x1="625.3" y1="488.7" x2="625.3" y2="486.7" stroke="#111" stroke-width="0.9"/>
<line x1="629.1" y1="488.7" x2="629.1" y2="486.7" stroke="#111" stroke-width="0.9"/>
<line x1="632.2" y1="488.7" x2="632.2" y2="486.7" stroke="#111" stroke-width="0.9"/>
<line x1="634.8" y1="488.7" x2="634.8" y2="486.7" stroke="#111" stroke-width="0.9"/>
<line x1="637.1" y1="488.7" x2="637.1" y2="486.7" stroke="#111" stroke-width="0.9"/>
<line x1="639.1" y1="488.7" x2="639.1" y2="486.7" stroke="#111" stroke-width="0.9"/>
<line x1="640.9" y1="488.7" x2="640.9" y2="485.09999999999997" stroke="#111" stroke-width="0.9"/>
<line x1="652.7" y1="488.7" x2="652.7" y2="486.7" stroke="#111" stroke-width="0.9"/>
<line x1="659.6" y1="488.7" x2="659.6" y2="486.7" stroke="#111" stroke-width="0.9"/>
<line x1="664.5" y1="488.7" x2="664.5" y2="486.7" stroke="#111" stroke-width="0.9"/>
<line x1="668.3" y1="488.7" x2="668.3" y2="486.7" stroke="#111" stroke-width="0.9"/>
<line x1="671.4" y1="488.7" x2="671.4" y2="486.7" stroke="#111" stroke-width="0.9"/>
<line x1="674.0" y1="488.7" x2="674.0" y2="486.7" stroke="#111" stroke-width="0.9"/>
<line x1="676.3" y1="488.7" x2="676.3" y2="486.7" stroke="#111" stroke-width="0.9"/>
<line x1="678.3" y1="488.7" x2="678.3" y2="486.7" stroke="#111" stroke-width="0.9"/>
<line x1="680.1" y1="488.7" x2="680.1" y2="485.09999999999997" stroke="#111" stroke-width="0.9"/>
<circle cx="482.6" cy="481.7" r="1.1" fill="#303030"/><circle cx="484.4" cy="483.2" r="1.1" fill="#303030"/><circle cx="486.1" cy="480.5" r="1.1" fill="#303030"/><circle cx="487.9" cy="482.8" r="1.1" fill="#303030"/><circle cx="489.6" cy="481.3" r="1.1" fill="#303030"/><circle cx="491.4" cy="481.3" r="1.1" fill="#303030"/><circle cx="493.1" cy="483.7" r="1.1" fill="#303030"/><circle cx="494.9" cy="481.8" r="1.1" fill="#303030"/><circle cx="496.6" cy="481.6" r="1.1" fill="#303030"/><circle cx="498.4" cy="482.3" r="1.1" fill="#303030"/><circle cx="500.1" cy="482.7" r="1.1" fill="#303030"/><circle cx="501.9" cy="481.6" r="1.1" fill="#303030"/><circle cx="503.6" cy="482.2" r="1.1" fill="#303030"/><circle cx="505.4" cy="480.7" r="1.1" fill="#303030"/><circle cx="507.1" cy="481.3" r="1.1" fill="#303030"/><circle cx="508.9" cy="481.2" r="1.1" fill="#303030"/><circle cx="510.6" cy="480.5" r="1.1" fill="#303030"/><circle cx="512.4" cy="480.4" r="1.1" fill="#303030"/><circle cx="514.1" cy="480.3" r="1.1" fill="#303030"/><circle cx="515.9" cy="481.4" r="1.1" fill="#303030"/><circle cx="517.6" cy="481.5" r="1.1" fill="#303030"/><circle cx="519.4" cy="481.4" r="1.1" fill="#303030"/><circle cx="521.1" cy="481.6" r="1.1" fill="#303030"/><circle cx="522.2" cy="480.7" r="1.1" fill="#303030"/><circle cx="523.3" cy="481.5" r="1.1" fill="#303030"/><circle cx="524.4" cy="481.8" r="1.1" fill="#303030"/><circle cx="525.5" cy="482.1" r="1.1" fill="#303030"/><circle cx="526.6" cy="481.1" r="1.1" fill="#303030"/><circle cx="527.7" cy="481.4" r="1.1" fill="#303030"/><circle cx="528.8" cy="480.4" r="1.1" fill="#303030"/><circle cx="529.9" cy="481.3" r="1.1" fill="#303030"/><circle cx="531.0" cy="480.3" r="1.1" fill="#303030"/><circle cx="532.1" cy="480.8" r="1.1" fill="#303030"/><circle cx="533.2" cy="482.2" r="1.1" fill="#303030"/><circle cx="534.3" cy="480.4" r="1.1" fill="#303030"/><circle cx="535.4" cy="482.0" r="1.1" fill="#303030"/><circle cx="536.5" cy="481.8" r="1.1" fill="#303030"/><circle cx="537.6" cy="481.4" r="1.1" fill="#303030"/><circle cx="538.7" cy="481.8" r="1.1" fill="#303030"/><circle cx="539.8" cy="481.9" r="1.1" fill="#303030"/><circle cx="540.9" cy="482.1" r="1.1" fill="#303030"/><circle cx="542.0" cy="481.5" r="1.1" fill="#303030"/><circle cx="543.1" cy="481.3" r="1.1" fill="#303030"/><circle cx="544.2" cy="481.3" r="1.1" fill="#303030"/><circle cx="545.3" cy="481.2" r="1.1" fill="#303030"/><circle cx="546.4" cy="481.6" r="1.1" fill="#303030"/><circle cx="547.5" cy="481.3" r="1.1" fill="#303030"/><circle cx="548.6" cy="482.1" r="1.1" fill="#303030"/><circle cx="549.7" cy="480.9" r="1.1" fill="#303030"/><circle cx="550.8" cy="481.2" r="1.1" fill="#303030"/><circle cx="551.9" cy="481.3" r="1.1" fill="#303030"/><circle cx="553.0" cy="480.9" r="1.1" fill="#303030"/><circle cx="554.1" cy="482.4" r="1.1" fill="#303030"/><circle cx="555.2" cy="480.9" r="1.1" fill="#303030"/><circle cx="556.3" cy="481.6" r="1.1" fill="#303030"/><circle cx="557.4" cy="481.6" r="1.1" fill="#303030"/><circle cx="558.5" cy="482.3" r="1.1" fill="#303030"/><circle cx="559.6" cy="481.1" r="1.1" fill="#303030"/><circle cx="560.7" cy="482.1" r="1.1" fill="#303030"/><circle cx="561.8" cy="481.6" r="1.1" fill="#303030"/><circle cx="562.9" cy="481.8" r="1.1" fill="#303030"/><circle cx="564.0" cy="481.7" r="1.1" fill="#303030"/><circle cx="565.1" cy="482.1" r="1.1" fill="#303030"/><circle cx="566.2" cy="481.6" r="1.1" fill="#303030"/><circle cx="567.3" cy="482.0" r="1.1" fill="#303030"/><circle cx="568.4" cy="482.2" r="1.1" fill="#303030"/><circle cx="569.5" cy="482.7" r="1.1" fill="#303030"/><circle cx="570.6" cy="481.5" r="1.1" fill="#303030"/><circle cx="571.7" cy="482.7" r="1.1" fill="#303030"/><circle cx="572.8" cy="482.7" r="1.1" fill="#303030"/><circle cx="573.9" cy="482.3" r="1.1" fill="#303030"/><circle cx="575.0" cy="482.6" r="1.1" fill="#303030"/><circle cx="576.1" cy="482.5" r="1.1" fill="#303030"/><circle cx="577.2" cy="483.2" r="1.1" fill="#303030"/><circle cx="578.3" cy="482.9" r="1.1" fill="#303030"/><circle cx="579.4" cy="482.8" r="1.1" fill="#303030"/><circle cx="580.5" cy="482.9" r="1.1" fill="#303030"/><circle cx="581.6" cy="483.0" r="1.1" fill="#303030"/><circle cx="582.7" cy="483.1" r="1.1" fill="#303030"/><circle cx="583.8" cy="483.0" r="1.1" fill="#303030"/><circle cx="584.9" cy="483.9" r="1.1" fill="#303030"/><circle cx="586.0" cy="482.8" r="1.1" fill="#303030"/><circle cx="587.1" cy="482.4" r="1.1" fill="#303030"/><circle cx="588.2" cy="483.6" r="1.1" fill="#303030"/><circle cx="589.3" cy="483.7" r="1.1" fill="#303030"/><circle cx="590.4" cy="483.9" r="1.1" fill="#303030"/><circle cx="591.5" cy="483.9" r="1.1" fill="#303030"/><circle cx="592.6" cy="484.0" r="1.1" fill="#303030"/><circle cx="593.7" cy="484.3" r="1.1" fill="#303030"/><circle cx="594.8" cy="484.6" r="1.1" fill="#303030"/><circle cx="595.9" cy="484.3" r="1.1" fill="#303030"/><circle cx="597.0" cy="484.4" r="1.1" fill="#303030"/><circle cx="598.1" cy="485.2" r="1.1" fill="#303030"/><circle cx="599.2" cy="484.9" r="1.1" fill="#303030"/><circle cx="600.3" cy="484.6" r="1.1" fill="#303030"/><circle cx="601.4" cy="485.7" r="1.1" fill="#303030"/><circle cx="602.5" cy="485.3" r="1.1" fill="#303030"/><circle cx="603.6" cy="485.0" r="1.1" fill="#303030"/><circle cx="604.7" cy="485.0" r="1.1" fill="#303030"/><circle cx="605.8" cy="485.5" r="1.1" fill="#303030"/><circle cx="606.9" cy="485.3" r="1.1" fill="#303030"/><circle cx="608.0" cy="485.3" r="1.1" fill="#303030"/><circle cx="609.1" cy="485.4" r="1.1" fill="#303030"/><circle cx="610.2" cy="485.7" r="1.1" fill="#303030"/><circle cx="611.3" cy="486.3" r="1.1" fill="#303030"/><circle cx="612.4" cy="485.9" r="1.1" fill="#303030"/><circle cx="613.5" cy="485.7" r="1.1" fill="#303030"/><circle cx="614.6" cy="486.5" r="1.1" fill="#303030"/><circle cx="615.7" cy="486.4" r="1.1" fill="#303030"/><circle cx="616.8" cy="486.7" r="1.1" fill="#303030"/><circle cx="617.9" cy="486.9" r="1.1" fill="#303030"/><circle cx="619.0" cy="486.6" r="1.1" fill="#303030"/><circle cx="620.1" cy="486.7" r="1.1" fill="#303030"/><circle cx="621.2" cy="486.9" r="1.1" fill="#303030"/><circle cx="622.3" cy="486.6" r="1.1" fill="#303030"/><circle cx="623.4" cy="487.3" r="1.1" fill="#303030"/><circle cx="624.5" cy="487.6" r="1.1" fill="#303030"/><circle cx="625.6" cy="487.3" r="1.1" fill="#303030"/><circle cx="626.7" cy="487.3" r="1.1" fill="#303030"/><circle cx="627.8" cy="487.4" r="1.1" fill="#303030"/><circle cx="628.9" cy="487.4" r="1.1" fill="#303030"/><circle cx="630.0" cy="487.5" r="1.1" fill="#303030"/><circle cx="631.1" cy="487.8" r="1.1" fill="#303030"/><circle cx="632.2" cy="487.8" r="1.1" fill="#303030"/><circle cx="633.3" cy="488.0" r="1.1" fill="#303030"/><circle cx="634.4" cy="487.7" r="1.1" fill="#303030"/><circle cx="635.5" cy="488.4" r="1.1" fill="#303030"/><circle cx="636.6" cy="488.4" r="1.1" fill="#303030"/><circle cx="637.7" cy="488.1" r="1.1" fill="#303030"/><circle cx="638.8" cy="487.8" r="1.1" fill="#303030"/><circle cx="639.9" cy="488.5" r="1.1" fill="#303030"/><circle cx="641.0" cy="488.8" r="1.1" fill="#303030"/><circle cx="642.1" cy="488.3" r="1.1" fill="#303030"/><circle cx="643.2" cy="488.4" r="1.1" fill="#303030"/><circle cx="644.3" cy="488.3" r="1.1" fill="#303030"/><circle cx="645.4" cy="488.7" r="1.1" fill="#303030"/><circle cx="646.5" cy="488.2" r="1.1" fill="#303030"/><circle cx="647.6" cy="488.8" r="1.1" fill="#303030"/><circle cx="648.7" cy="488.4" r="1.1" fill="#303030"/><circle cx="649.8" cy="488.8" r="1.1" fill="#303030"/><circle cx="650.9" cy="488.5" r="1.1" fill="#303030"/><circle cx="652.0" cy="488.4" r="1.1" fill="#303030"/><circle cx="653.1" cy="488.1" r="1.1" fill="#303030"/><circle cx="654.2" cy="488.3" r="1.1" fill="#303030"/><circle cx="655.3" cy="488.4" r="1.1" fill="#303030"/><circle cx="656.4" cy="488.7" r="1.1" fill="#303030"/><circle cx="657.5" cy="488.6" r="1.1" fill="#303030"/><circle cx="658.6" cy="488.3" r="1.1" fill="#303030"/><circle cx="659.7" cy="488.6" r="1.1" fill="#303030"/><circle cx="660.8" cy="488.8" r="1.1" fill="#303030"/><circle cx="661.9" cy="488.5" r="1.1" fill="#303030"/><circle cx="663.0" cy="488.4" r="1.1" fill="#303030"/><circle cx="664.1" cy="488.4" r="1.1" fill="#303030"/><circle cx="665.2" cy="488.7" r="1.1" fill="#303030"/><circle cx="666.3" cy="488.7" r="1.1" fill="#303030"/><circle cx="667.4" cy="488.2" r="1.1" fill="#303030"/><circle cx="668.5" cy="488.6" r="1.1" fill="#303030"/><circle cx="669.6" cy="488.4" r="1.1" fill="#303030"/><circle cx="670.7" cy="488.3" r="1.1" fill="#303030"/><circle cx="671.8" cy="488.9" r="1.1" fill="#303030"/><circle cx="672.9" cy="488.7" r="1.1" fill="#303030"/><circle cx="674.0" cy="488.3" r="1.1" fill="#303030"/><circle cx="675.1" cy="488.5" r="1.1" fill="#303030"/><circle cx="676.2" cy="488.7" r="1.1" fill="#303030"/><circle cx="677.3" cy="488.3" r="1.1" fill="#303030"/><circle cx="678.4" cy="488.5" r="1.1" fill="#303030"/><circle cx="679.5" cy="488.7" r="1.1" fill="#303030"/><circle cx="680.6" cy="488.0" r="1.1" fill="#303030"/>
<circle cx="482.6" cy="437.3" r="1.3" fill="#3a3a3a"/><circle cx="484.4" cy="440.5" r="1.3" fill="#3a3a3a"/><circle cx="486.1" cy="434.0" r="1.3" fill="#3a3a3a"/><circle cx="487.9" cy="439.7" r="1.3" fill="#3a3a3a"/><circle cx="489.6" cy="443.5" r="1.3" fill="#3a3a3a"/><circle cx="491.4" cy="440.1" r="1.3" fill="#3a3a3a"/><circle cx="493.1" cy="447.3" r="1.3" fill="#3a3a3a"/><circle cx="494.9" cy="432.3" r="1.3" fill="#3a3a3a"/><circle cx="496.6" cy="438.1" r="1.3" fill="#3a3a3a"/><circle cx="498.4" cy="433.8" r="1.3" fill="#3a3a3a"/><circle cx="500.1" cy="433.6" r="1.3" fill="#3a3a3a"/><circle cx="501.9" cy="437.0" r="1.3" fill="#3a3a3a"/><circle cx="503.6" cy="439.2" r="1.3" fill="#3a3a3a"/><circle cx="505.4" cy="440.3" r="1.3" fill="#3a3a3a"/><circle cx="507.1" cy="440.8" r="1.3" fill="#3a3a3a"/><circle cx="508.9" cy="448.8" r="1.3" fill="#3a3a3a"/><circle cx="510.6" cy="442.4" r="1.3" fill="#3a3a3a"/><circle cx="512.4" cy="431.8" r="1.3" fill="#3a3a3a"/><circle cx="514.1" cy="439.7" r="1.3" fill="#3a3a3a"/><circle cx="515.9" cy="436.5" r="1.3" fill="#3a3a3a"/><circle cx="517.6" cy="437.1" r="1.3" fill="#3a3a3a"/><circle cx="519.4" cy="444.1" r="1.3" fill="#3a3a3a"/><circle cx="521.1" cy="438.7" r="1.12" fill="#3a3a3a"/><circle cx="522.2" cy="432.8" r="1.12" fill="#3a3a3a"/><circle cx="523.3" cy="440.7" r="1.12" fill="#3a3a3a"/><circle cx="524.4" cy="438.8" r="1.12" fill="#3a3a3a"/><circle cx="525.5" cy="436.2" r="1.12" fill="#3a3a3a"/><circle cx="526.6" cy="437.2" r="1.12" fill="#3a3a3a"/><circle cx="527.7" cy="438.2" r="1.12" fill="#3a3a3a"/><circle cx="528.8" cy="440.2" r="1.12" fill="#3a3a3a"/><circle cx="529.9" cy="439.1" r="1.12" fill="#3a3a3a"/><circle cx="531.0" cy="440.7" r="1.12" fill="#3a3a3a"/><circle cx="532.1" cy="445.5" r="1.12" fill="#3a3a3a"/><circle cx="533.2" cy="438.6" r="1.12" fill="#3a3a3a"/><circle cx="534.3" cy="438.8" r="1.12" fill="#3a3a3a"/><circle cx="535.4" cy="440.3" r="1.12" fill="#3a3a3a"/><circle cx="536.5" cy="443.6" r="1.12" fill="#3a3a3a"/><circle cx="537.6" cy="439.6" r="1.12" fill="#3a3a3a"/><circle cx="538.7" cy="444.4" r="1.12" fill="#3a3a3a"/><circle cx="539.8" cy="438.6" r="1.12" fill="#3a3a3a"/><circle cx="540.9" cy="439.4" r="1.12" fill="#3a3a3a"/><circle cx="542.0" cy="441.5" r="1.12" fill="#3a3a3a"/><circle cx="543.1" cy="440.0" r="1.12" fill="#3a3a3a"/><circle cx="544.2" cy="440.6" r="1.12" fill="#3a3a3a"/><circle cx="545.3" cy="442.7" r="1.12" fill="#3a3a3a"/><circle cx="546.4" cy="443.2" r="1.12" fill="#3a3a3a"/><circle cx="547.5" cy="442.3" r="1.12" fill="#3a3a3a"/><circle cx="548.6" cy="441.7" r="1.12" fill="#3a3a3a"/><circle cx="549.7" cy="444.3" r="1.12" fill="#3a3a3a"/><circle cx="550.8" cy="443.0" r="1.12" fill="#3a3a3a"/><circle cx="551.9" cy="442.1" r="1.12" fill="#3a3a3a"/><circle cx="553.0" cy="444.2" r="1.12" fill="#3a3a3a"/><circle cx="554.1" cy="441.4" r="1.12" fill="#3a3a3a"/><circle cx="555.2" cy="443.0" r="1.12" fill="#3a3a3a"/><circle cx="556.3" cy="443.7" r="1.12" fill="#3a3a3a"/><circle cx="557.4" cy="443.0" r="1.12" fill="#3a3a3a"/><circle cx="558.5" cy="442.5" r="1.12" fill="#3a3a3a"/><circle cx="559.6" cy="443.7" r="1.12" fill="#3a3a3a"/><circle cx="560.7" cy="442.8" r="1.12" fill="#3a3a3a"/><circle cx="561.8" cy="442.9" r="1.12" fill="#3a3a3a"/><circle cx="562.9" cy="442.7" r="1.12" fill="#3a3a3a"/><circle cx="564.0" cy="445.2" r="1.12" fill="#3a3a3a"/><circle cx="565.1" cy="443.7" r="1.12" fill="#3a3a3a"/><circle cx="566.2" cy="445.3" r="1.12" fill="#3a3a3a"/><circle cx="567.3" cy="444.9" r="1.12" fill="#3a3a3a"/><circle cx="568.4" cy="444.7" r="1.12" fill="#3a3a3a"/><circle cx="569.5" cy="445.5" r="1.12" fill="#3a3a3a"/><circle cx="570.6" cy="445.5" r="1.12" fill="#3a3a3a"/><circle cx="571.7" cy="445.7" r="1.12" fill="#3a3a3a"/><circle cx="572.8" cy="445.4" r="1.12" fill="#3a3a3a"/><circle cx="573.9" cy="446.3" r="1.12" fill="#3a3a3a"/><circle cx="575.0" cy="446.9" r="1.12" fill="#3a3a3a"/><circle cx="576.1" cy="447.1" r="1.12" fill="#3a3a3a"/><circle cx="577.2" cy="447.5" r="1.12" fill="#3a3a3a"/><circle cx="578.3" cy="448.0" r="1.12" fill="#3a3a3a"/><circle cx="579.4" cy="448.0" r="1.12" fill="#3a3a3a"/><circle cx="580.5" cy="448.8" r="1.12" fill="#3a3a3a"/><circle cx="581.6" cy="448.1" r="1.12" fill="#3a3a3a"/><circle cx="582.7" cy="448.9" r="1.12" fill="#3a3a3a"/><circle cx="583.8" cy="448.5" r="1.12" fill="#3a3a3a"/><circle cx="584.9" cy="449.9" r="1.12" fill="#3a3a3a"/><circle cx="586.0" cy="450.1" r="1.12" fill="#3a3a3a"/><circle cx="587.1" cy="450.9" r="1.12" fill="#3a3a3a"/><circle cx="588.2" cy="450.7" r="1.12" fill="#3a3a3a"/><circle cx="589.3" cy="450.7" r="1.12" fill="#3a3a3a"/><circle cx="590.4" cy="452.2" r="1.12" fill="#3a3a3a"/><circle cx="591.5" cy="451.9" r="1.12" fill="#3a3a3a"/><circle cx="592.6" cy="452.5" r="1.12" fill="#3a3a3a"/><circle cx="593.7" cy="453.4" r="1.12" fill="#3a3a3a"/><circle cx="594.8" cy="454.4" r="1.12" fill="#3a3a3a"/><circle cx="595.9" cy="454.8" r="1.12" fill="#3a3a3a"/><circle cx="597.0" cy="455.9" r="1.12" fill="#3a3a3a"/><circle cx="598.1" cy="456.2" r="1.12" fill="#3a3a3a"/><circle cx="599.2" cy="458.2" r="1.12" fill="#3a3a3a"/><circle cx="600.3" cy="458.7" r="1.12" fill="#3a3a3a"/><circle cx="601.4" cy="459.7" r="1.12" fill="#3a3a3a"/><circle cx="602.5" cy="460.8" r="1.12" fill="#3a3a3a"/><circle cx="603.6" cy="461.6" r="1.12" fill="#3a3a3a"/><circle cx="604.7" cy="462.6" r="1.12" fill="#3a3a3a"/><circle cx="605.8" cy="463.2" r="1.12" fill="#3a3a3a"/><circle cx="606.9" cy="464.5" r="1.12" fill="#3a3a3a"/><circle cx="608.0" cy="465.6" r="1.12" fill="#3a3a3a"/><circle cx="609.1" cy="466.8" r="1.12" fill="#3a3a3a"/><circle cx="610.2" cy="467.5" r="1.12" fill="#3a3a3a"/><circle cx="611.3" cy="468.6" r="1.12" fill="#3a3a3a"/><circle cx="612.4" cy="469.6" r="1.12" fill="#3a3a3a"/><circle cx="613.5" cy="470.7" r="1.12" fill="#3a3a3a"/><circle cx="614.6" cy="471.5" r="1.12" fill="#3a3a3a"/><circle cx="615.7" cy="472.3" r="1.12" fill="#3a3a3a"/><circle cx="616.8" cy="473.2" r="1.12" fill="#3a3a3a"/><circle cx="617.9" cy="474.6" r="1.12" fill="#3a3a3a"/><circle cx="619.0" cy="475.3" r="1.12" fill="#3a3a3a"/><circle cx="620.1" cy="476.1" r="1.12" fill="#3a3a3a"/><circle cx="621.2" cy="478.1" r="1.12" fill="#3a3a3a"/><circle cx="622.3" cy="478.1" r="1.12" fill="#3a3a3a"/><circle cx="623.4" cy="478.9" r="1.12" fill="#3a3a3a"/><circle cx="624.5" cy="479.4" r="1.12" fill="#3a3a3a"/><circle cx="625.6" cy="479.7" r="1.12" fill="#3a3a3a"/><circle cx="626.7" cy="481.1" r="1.12" fill="#3a3a3a"/><circle cx="627.8" cy="481.3" r="1.12" fill="#3a3a3a"/><circle cx="628.9" cy="482.0" r="1.12" fill="#3a3a3a"/><circle cx="630.0" cy="482.9" r="1.12" fill="#3a3a3a"/><circle cx="631.1" cy="483.5" r="1.12" fill="#3a3a3a"/><circle cx="632.2" cy="483.7" r="1.12" fill="#3a3a3a"/><circle cx="633.3" cy="484.1" r="1.12" fill="#3a3a3a"/><circle cx="634.4" cy="485.1" r="1.12" fill="#3a3a3a"/><circle cx="635.5" cy="485.0" r="1.12" fill="#3a3a3a"/><circle cx="636.6" cy="484.8" r="1.12" fill="#3a3a3a"/><circle cx="637.7" cy="485.7" r="1.12" fill="#3a3a3a"/><circle cx="638.8" cy="485.7" r="1.12" fill="#3a3a3a"/><circle cx="639.9" cy="485.9" r="1.12" fill="#3a3a3a"/><circle cx="641.0" cy="486.3" r="1.12" fill="#3a3a3a"/><circle cx="642.1" cy="486.4" r="1.12" fill="#3a3a3a"/><circle cx="643.2" cy="487.1" r="1.12" fill="#3a3a3a"/><circle cx="644.3" cy="486.7" r="1.12" fill="#3a3a3a"/><circle cx="645.4" cy="486.9" r="1.12" fill="#3a3a3a"/><circle cx="646.5" cy="487.4" r="1.12" fill="#3a3a3a"/><circle cx="647.6" cy="487.0" r="1.12" fill="#3a3a3a"/><circle cx="648.7" cy="487.6" r="1.12" fill="#3a3a3a"/><circle cx="649.8" cy="487.5" r="1.12" fill="#3a3a3a"/><circle cx="650.9" cy="488.0" r="1.12" fill="#3a3a3a"/><circle cx="652.0" cy="487.6" r="1.12" fill="#3a3a3a"/><circle cx="653.1" cy="488.1" r="1.12" fill="#3a3a3a"/><circle cx="654.2" cy="487.6" r="1.12" fill="#3a3a3a"/><circle cx="655.3" cy="488.1" r="1.12" fill="#3a3a3a"/><circle cx="656.4" cy="488.3" r="1.12" fill="#3a3a3a"/><circle cx="657.5" cy="488.6" r="1.12" fill="#3a3a3a"/><circle cx="658.6" cy="489.1" r="1.12" fill="#3a3a3a"/><circle cx="659.7" cy="489.1" r="1.12" fill="#3a3a3a"/><circle cx="660.8" cy="488.1" r="1.12" fill="#3a3a3a"/><circle cx="661.9" cy="488.3" r="1.12" fill="#3a3a3a"/><circle cx="663.0" cy="488.9" r="1.12" fill="#3a3a3a"/><circle cx="664.1" cy="488.6" r="1.12" fill="#3a3a3a"/><circle cx="665.2" cy="488.1" r="1.12" fill="#3a3a3a"/><circle cx="666.3" cy="488.6" r="1.12" fill="#3a3a3a"/><circle cx="667.4" cy="488.2" r="1.12" fill="#3a3a3a"/><circle cx="668.5" cy="488.2" r="1.12" fill="#3a3a3a"/><circle cx="669.6" cy="488.1" r="1.12" fill="#3a3a3a"/><circle cx="670.7" cy="488.4" r="1.12" fill="#3a3a3a"/><circle cx="671.8" cy="489.2" r="1.12" fill="#3a3a3a"/><circle cx="672.9" cy="488.6" r="1.12" fill="#3a3a3a"/><circle cx="674.0" cy="488.5" r="1.12" fill="#3a3a3a"/><circle cx="675.1" cy="489.3" r="1.12" fill="#3a3a3a"/><circle cx="676.2" cy="488.4" r="1.12" fill="#3a3a3a"/><circle cx="677.3" cy="488.5" r="1.12" fill="#3a3a3a"/><circle cx="678.4" cy="488.4" r="1.12" fill="#3a3a3a"/><circle cx="679.5" cy="488.6" r="1.12" fill="#3a3a3a"/><circle cx="680.6" cy="488.4" r="1.12" fill="#3a3a3a"/>
<circle cx="482.6" cy="371.1" r="1.5" fill="#1de01d"/><circle cx="484.4" cy="348.9" r="1.5" fill="#1de01d"/><circle cx="486.1" cy="359.2" r="1.5" fill="#1de01d"/><circle cx="487.9" cy="367.5" r="1.5" fill="#1de01d"/><circle cx="489.6" cy="380.2" r="1.5" fill="#1de01d"/><circle cx="491.4" cy="367.3" r="1.5" fill="#1de01d"/><circle cx="493.1" cy="353.6" r="1.5" fill="#1de01d"/><circle cx="494.9" cy="370.3" r="1.5" fill="#1de01d"/><circle cx="496.6" cy="358.6" r="1.5" fill="#1de01d"/><circle cx="498.4" cy="377.6" r="1.5" fill="#1de01d"/><circle cx="500.1" cy="366.6" r="1.5" fill="#1de01d"/><circle cx="501.9" cy="381.4" r="1.5" fill="#1de01d"/><circle cx="503.6" cy="368.1" r="1.5" fill="#1de01d"/><circle cx="505.4" cy="362.5" r="1.5" fill="#1de01d"/><circle cx="507.1" cy="360.1" r="1.5" fill="#1de01d"/><circle cx="508.9" cy="367.6" r="1.5" fill="#1de01d"/><circle cx="510.6" cy="372.7" r="1.5" fill="#1de01d"/><circle cx="512.4" cy="377.2" r="1.5" fill="#1de01d"/><circle cx="514.1" cy="372.1" r="1.5" fill="#1de01d"/><circle cx="515.9" cy="367.1" r="1.5" fill="#1de01d"/><circle cx="517.6" cy="373.8" r="1.5" fill="#1de01d"/><circle cx="519.4" cy="364.7" r="1.5" fill="#1de01d"/><circle cx="521.1" cy="374.3" r="1.35" fill="#1de01d"/><circle cx="522.2" cy="368.8" r="1.35" fill="#1de01d"/><circle cx="523.3" cy="378.9" r="1.35" fill="#1de01d"/><circle cx="524.4" cy="376.8" r="1.35" fill="#1de01d"/><circle cx="525.5" cy="374.4" r="1.35" fill="#1de01d"/><circle cx="526.6" cy="369.0" r="1.35" fill="#1de01d"/><circle cx="527.7" cy="375.5" r="1.35" fill="#1de01d"/><circle cx="528.8" cy="375.1" r="1.35" fill="#1de01d"/><circle cx="529.9" cy="372.0" r="1.35" fill="#1de01d"/><circle cx="531.0" cy="372.1" r="1.35" fill="#1de01d"/><circle cx="532.1" cy="379.0" r="1.35" fill="#1de01d"/><circle cx="533.2" cy="373.7" r="1.35" fill="#1de01d"/><circle cx="534.3" cy="376.9" r="1.35" fill="#1de01d"/><circle cx="535.4" cy="380.2" r="1.35" fill="#1de01d"/><circle cx="536.5" cy="372.0" r="1.35" fill="#1de01d"/><circle cx="537.6" cy="382.0" r="1.35" fill="#1de01d"/><circle cx="538.7" cy="380.2" r="1.35" fill="#1de01d"/><circle cx="539.8" cy="376.2" r="1.35" fill="#1de01d"/><circle cx="540.9" cy="376.0" r="1.35" fill="#1de01d"/><circle cx="542.0" cy="375.9" r="1.35" fill="#1de01d"/><circle cx="543.1" cy="381.7" r="1.35" fill="#1de01d"/><circle cx="544.2" cy="374.1" r="1.35" fill="#1de01d"/><circle cx="545.3" cy="382.5" r="1.35" fill="#1de01d"/><circle cx="546.4" cy="381.4" r="1.35" fill="#1de01d"/><circle cx="547.5" cy="380.2" r="1.35" fill="#1de01d"/><circle cx="548.6" cy="381.2" r="1.35" fill="#1de01d"/><circle cx="549.7" cy="382.1" r="1.35" fill="#1de01d"/><circle cx="550.8" cy="383.0" r="1.35" fill="#1de01d"/><circle cx="551.9" cy="385.5" r="1.35" fill="#1de01d"/><circle cx="553.0" cy="383.5" r="1.35" fill="#1de01d"/><circle cx="554.1" cy="386.8" r="1.35" fill="#1de01d"/><circle cx="555.2" cy="387.3" r="1.35" fill="#1de01d"/><circle cx="556.3" cy="386.6" r="1.35" fill="#1de01d"/><circle cx="557.4" cy="388.2" r="1.35" fill="#1de01d"/><circle cx="558.5" cy="388.1" r="1.35" fill="#1de01d"/><circle cx="559.6" cy="389.5" r="1.35" fill="#1de01d"/><circle cx="560.7" cy="390.8" r="1.35" fill="#1de01d"/><circle cx="561.8" cy="392.5" r="1.35" fill="#1de01d"/><circle cx="562.9" cy="393.0" r="1.35" fill="#1de01d"/><circle cx="564.0" cy="394.5" r="1.35" fill="#1de01d"/><circle cx="565.1" cy="396.2" r="1.35" fill="#1de01d"/><circle cx="566.2" cy="397.9" r="1.35" fill="#1de01d"/><circle cx="567.3" cy="399.4" r="1.35" fill="#1de01d"/><circle cx="568.4" cy="402.2" r="1.35" fill="#1de01d"/><circle cx="569.5" cy="403.4" r="1.35" fill="#1de01d"/><circle cx="570.6" cy="405.3" r="1.35" fill="#1de01d"/><circle cx="571.7" cy="407.1" r="1.35" fill="#1de01d"/><circle cx="572.8" cy="409.4" r="1.35" fill="#1de01d"/><circle cx="573.9" cy="412.0" r="1.35" fill="#1de01d"/><circle cx="575.0" cy="414.0" r="1.35" fill="#1de01d"/><circle cx="576.1" cy="415.3" r="1.35" fill="#1de01d"/><circle cx="577.2" cy="417.1" r="1.35" fill="#1de01d"/><circle cx="578.3" cy="419.1" r="1.35" fill="#1de01d"/><circle cx="579.4" cy="420.8" r="1.35" fill="#1de01d"/><circle cx="580.5" cy="423.4" r="1.35" fill="#1de01d"/><circle cx="581.6" cy="425.2" r="1.35" fill="#1de01d"/><circle cx="582.7" cy="428.0" r="1.35" fill="#1de01d"/><circle cx="583.8" cy="429.4" r="1.35" fill="#1de01d"/><circle cx="584.9" cy="431.3" r="1.35" fill="#1de01d"/><circle cx="586.0" cy="433.3" r="1.35" fill="#1de01d"/><circle cx="587.1" cy="435.5" r="1.35" fill="#1de01d"/><circle cx="588.2" cy="438.4" r="1.35" fill="#1de01d"/><circle cx="589.3" cy="440.6" r="1.35" fill="#1de01d"/><circle cx="590.4" cy="442.3" r="1.35" fill="#1de01d"/><circle cx="591.5" cy="444.4" r="1.35" fill="#1de01d"/><circle cx="592.6" cy="447.2" r="1.35" fill="#1de01d"/><circle cx="593.7" cy="449.2" r="1.35" fill="#1de01d"/><circle cx="594.8" cy="451.7" r="1.35" fill="#1de01d"/><circle cx="595.9" cy="454.0" r="1.35" fill="#1de01d"/><circle cx="597.0" cy="456.1" r="1.35" fill="#1de01d"/><circle cx="598.1" cy="458.2" r="1.35" fill="#1de01d"/><circle cx="599.2" cy="461.1" r="1.35" fill="#1de01d"/><circle cx="600.3" cy="463.3" r="1.35" fill="#1de01d"/><circle cx="601.4" cy="465.4" r="1.35" fill="#1de01d"/><circle cx="602.5" cy="467.6" r="1.35" fill="#1de01d"/><circle cx="603.6" cy="469.3" r="1.35" fill="#1de01d"/><circle cx="604.7" cy="470.6" r="1.35" fill="#1de01d"/><circle cx="605.8" cy="472.5" r="1.35" fill="#1de01d"/><circle cx="606.9" cy="473.2" r="1.35" fill="#1de01d"/><circle cx="608.0" cy="475.5" r="1.35" fill="#1de01d"/><circle cx="609.1" cy="476.6" r="1.35" fill="#1de01d"/><circle cx="610.2" cy="478.1" r="1.35" fill="#1de01d"/><circle cx="611.3" cy="479.2" r="1.35" fill="#1de01d"/><circle cx="612.4" cy="479.5" r="1.35" fill="#1de01d"/><circle cx="613.5" cy="480.7" r="1.35" fill="#1de01d"/><circle cx="614.6" cy="481.9" r="1.35" fill="#1de01d"/><circle cx="615.7" cy="482.2" r="1.35" fill="#1de01d"/><circle cx="616.8" cy="483.2" r="1.35" fill="#1de01d"/><circle cx="617.9" cy="483.7" r="1.35" fill="#1de01d"/><circle cx="619.0" cy="484.8" r="1.35" fill="#1de01d"/><circle cx="620.1" cy="485.3" r="1.35" fill="#1de01d"/><circle cx="621.2" cy="485.5" r="1.35" fill="#1de01d"/><circle cx="622.3" cy="485.8" r="1.35" fill="#1de01d"/><circle cx="623.4" cy="485.9" r="1.35" fill="#1de01d"/><circle cx="624.5" cy="487.1" r="1.35" fill="#1de01d"/><circle cx="625.6" cy="486.9" r="1.35" fill="#1de01d"/><circle cx="626.7" cy="487.0" r="1.35" fill="#1de01d"/><circle cx="627.8" cy="487.3" r="1.35" fill="#1de01d"/><circle cx="628.9" cy="487.3" r="1.35" fill="#1de01d"/><circle cx="630.0" cy="488.0" r="1.35" fill="#1de01d"/><circle cx="631.1" cy="488.1" r="1.35" fill="#1de01d"/><circle cx="632.2" cy="487.4" r="1.35" fill="#1de01d"/><circle cx="633.3" cy="488.1" r="1.35" fill="#1de01d"/><circle cx="634.4" cy="488.3" r="1.35" fill="#1de01d"/><circle cx="635.5" cy="488.2" r="1.35" fill="#1de01d"/><circle cx="636.6" cy="488.4" r="1.35" fill="#1de01d"/><circle cx="637.7" cy="489.0" r="1.35" fill="#1de01d"/><circle cx="638.8" cy="488.6" r="1.35" fill="#1de01d"/><circle cx="639.9" cy="488.9" r="1.35" fill="#1de01d"/><circle cx="641.0" cy="488.8" r="1.35" fill="#1de01d"/><circle cx="642.1" cy="488.0" r="1.35" fill="#1de01d"/><circle cx="643.2" cy="489.0" r="1.35" fill="#1de01d"/><circle cx="644.3" cy="488.6" r="1.35" fill="#1de01d"/><circle cx="645.4" cy="488.4" r="1.35" fill="#1de01d"/><circle cx="646.5" cy="488.8" r="1.35" fill="#1de01d"/><circle cx="647.6" cy="489.2" r="1.35" fill="#1de01d"/><circle cx="648.7" cy="488.3" r="1.35" fill="#1de01d"/><circle cx="649.8" cy="488.3" r="1.35" fill="#1de01d"/><circle cx="650.9" cy="488.6" r="1.35" fill="#1de01d"/><circle cx="652.0" cy="488.0" r="1.35" fill="#1de01d"/><circle cx="653.1" cy="488.2" r="1.35" fill="#1de01d"/><circle cx="654.2" cy="488.5" r="1.35" fill="#1de01d"/><circle cx="655.3" cy="488.7" r="1.35" fill="#1de01d"/><circle cx="656.4" cy="488.7" r="1.35" fill="#1de01d"/><circle cx="657.5" cy="488.8" r="1.35" fill="#1de01d"/><circle cx="658.6" cy="488.8" r="1.35" fill="#1de01d"/><circle cx="659.7" cy="488.4" r="1.35" fill="#1de01d"/><circle cx="660.8" cy="488.4" r="1.35" fill="#1de01d"/><circle cx="661.9" cy="488.4" r="1.35" fill="#1de01d"/><circle cx="663.0" cy="488.4" r="1.35" fill="#1de01d"/><circle cx="664.1" cy="488.8" r="1.35" fill="#1de01d"/><circle cx="665.2" cy="488.8" r="1.35" fill="#1de01d"/><circle cx="666.3" cy="487.9" r="1.35" fill="#1de01d"/><circle cx="667.4" cy="488.6" r="1.35" fill="#1de01d"/><circle cx="668.5" cy="488.2" r="1.35" fill="#1de01d"/><circle cx="669.6" cy="488.2" r="1.35" fill="#1de01d"/><circle cx="670.7" cy="488.9" r="1.35" fill="#1de01d"/><circle cx="671.8" cy="488.9" r="1.35" fill="#1de01d"/><circle cx="672.9" cy="488.9" r="1.35" fill="#1de01d"/><circle cx="674.0" cy="488.7" r="1.35" fill="#1de01d"/><circle cx="675.1" cy="489.1" r="1.35" fill="#1de01d"/><circle cx="676.2" cy="488.2" r="1.35" fill="#1de01d"/><circle cx="677.3" cy="488.8" r="1.35" fill="#1de01d"/><circle cx="678.4" cy="488.3" r="1.35" fill="#1de01d"/><circle cx="679.5" cy="488.3" r="1.35" fill="#1de01d"/><circle cx="680.6" cy="488.0" r="1.35" fill="#1de01d"/>
<circle cx="482.6" cy="393.6" r="1.35" fill="#e62a2a"/><circle cx="484.4" cy="394.2" r="1.35" fill="#e62a2a"/><circle cx="486.1" cy="411.3" r="1.35" fill="#e62a2a"/><circle cx="487.9" cy="384.6" r="1.35" fill="#e62a2a"/><circle cx="489.6" cy="404.0" r="1.35" fill="#e62a2a"/><circle cx="491.4" cy="386.1" r="1.35" fill="#e62a2a"/><circle cx="493.1" cy="414.5" r="1.35" fill="#e62a2a"/><circle cx="494.9" cy="407.0" r="1.35" fill="#e62a2a"/><circle cx="496.6" cy="416.0" r="1.35" fill="#e62a2a"/><circle cx="498.4" cy="401.7" r="1.35" fill="#e62a2a"/><circle cx="500.1" cy="408.5" r="1.35" fill="#e62a2a"/><circle cx="501.9" cy="403.6" r="1.35" fill="#e62a2a"/><circle cx="503.6" cy="400.6" r="1.35" fill="#e62a2a"/><circle cx="505.4" cy="406.7" r="1.35" fill="#e62a2a"/><circle cx="507.1" cy="397.7" r="1.35" fill="#e62a2a"/><circle cx="508.9" cy="403.7" r="1.35" fill="#e62a2a"/><circle cx="510.6" cy="410.3" r="1.35" fill="#e62a2a"/><circle cx="512.4" cy="406.5" r="1.35" fill="#e62a2a"/><circle cx="514.1" cy="404.0" r="1.35" fill="#e62a2a"/><circle cx="515.9" cy="418.6" r="1.35" fill="#e62a2a"/><circle cx="517.6" cy="407.1" r="1.35" fill="#e62a2a"/><circle cx="519.4" cy="404.1" r="1.35" fill="#e62a2a"/><circle cx="521.1" cy="408.2" r="1.18" fill="#e62a2a"/><circle cx="522.2" cy="405.1" r="1.18" fill="#e62a2a"/><circle cx="523.3" cy="406.0" r="1.18" fill="#e62a2a"/><circle cx="524.4" cy="406.4" r="1.18" fill="#e62a2a"/><circle cx="525.5" cy="417.3" r="1.18" fill="#e62a2a"/><circle cx="526.6" cy="408.6" r="1.18" fill="#e62a2a"/><circle cx="527.7" cy="409.5" r="1.18" fill="#e62a2a"/><circle cx="528.8" cy="411.7" r="1.18" fill="#e62a2a"/><circle cx="529.9" cy="417.3" r="1.18" fill="#e62a2a"/><circle cx="531.0" cy="408.5" r="1.18" fill="#e62a2a"/><circle cx="532.1" cy="407.2" r="1.18" fill="#e62a2a"/><circle cx="533.2" cy="419.1" r="1.18" fill="#e62a2a"/><circle cx="534.3" cy="404.7" r="1.18" fill="#e62a2a"/><circle cx="535.4" cy="408.9" r="1.18" fill="#e62a2a"/><circle cx="536.5" cy="412.7" r="1.18" fill="#e62a2a"/><circle cx="537.6" cy="418.3" r="1.18" fill="#e62a2a"/><circle cx="538.7" cy="407.7" r="1.18" fill="#e62a2a"/><circle cx="539.8" cy="403.2" r="1.18" fill="#e62a2a"/><circle cx="540.9" cy="413.2" r="1.18" fill="#e62a2a"/><circle cx="542.0" cy="409.7" r="1.18" fill="#e62a2a"/><circle cx="543.1" cy="410.3" r="1.18" fill="#e62a2a"/><circle cx="544.2" cy="412.9" r="1.18" fill="#e62a2a"/><circle cx="545.3" cy="412.3" r="1.18" fill="#e62a2a"/><circle cx="546.4" cy="412.6" r="1.18" fill="#e62a2a"/><circle cx="547.5" cy="410.8" r="1.18" fill="#e62a2a"/><circle cx="548.6" cy="415.4" r="1.18" fill="#e62a2a"/><circle cx="549.7" cy="416.0" r="1.18" fill="#e62a2a"/><circle cx="550.8" cy="412.4" r="1.18" fill="#e62a2a"/><circle cx="551.9" cy="411.4" r="1.18" fill="#e62a2a"/><circle cx="553.0" cy="414.3" r="1.18" fill="#e62a2a"/><circle cx="554.1" cy="413.8" r="1.18" fill="#e62a2a"/><circle cx="555.2" cy="410.7" r="1.18" fill="#e62a2a"/><circle cx="556.3" cy="412.1" r="1.18" fill="#e62a2a"/><circle cx="557.4" cy="415.4" r="1.18" fill="#e62a2a"/><circle cx="558.5" cy="413.2" r="1.18" fill="#e62a2a"/><circle cx="559.6" cy="413.0" r="1.18" fill="#e62a2a"/><circle cx="560.7" cy="414.2" r="1.18" fill="#e62a2a"/><circle cx="561.8" cy="414.0" r="1.18" fill="#e62a2a"/><circle cx="562.9" cy="414.2" r="1.18" fill="#e62a2a"/><circle cx="564.0" cy="411.0" r="1.18" fill="#e62a2a"/><circle cx="565.1" cy="417.9" r="1.18" fill="#e62a2a"/><circle cx="566.2" cy="415.4" r="1.18" fill="#e62a2a"/><circle cx="567.3" cy="413.8" r="1.18" fill="#e62a2a"/><circle cx="568.4" cy="417.4" r="1.18" fill="#e62a2a"/><circle cx="569.5" cy="416.5" r="1.18" fill="#e62a2a"/><circle cx="570.6" cy="416.4" r="1.18" fill="#e62a2a"/><circle cx="571.7" cy="418.6" r="1.18" fill="#e62a2a"/><circle cx="572.8" cy="420.9" r="1.18" fill="#e62a2a"/><circle cx="573.9" cy="418.4" r="1.18" fill="#e62a2a"/><circle cx="575.0" cy="420.2" r="1.18" fill="#e62a2a"/><circle cx="576.1" cy="421.1" r="1.18" fill="#e62a2a"/><circle cx="577.2" cy="417.6" r="1.18" fill="#e62a2a"/><circle cx="578.3" cy="418.8" r="1.18" fill="#e62a2a"/><circle cx="579.4" cy="420.5" r="1.18" fill="#e62a2a"/><circle cx="580.5" cy="419.1" r="1.18" fill="#e62a2a"/><circle cx="581.6" cy="420.9" r="1.18" fill="#e62a2a"/><circle cx="582.7" cy="422.3" r="1.18" fill="#e62a2a"/><circle cx="583.8" cy="422.8" r="1.18" fill="#e62a2a"/><circle cx="584.9" cy="423.4" r="1.18" fill="#e62a2a"/><circle cx="586.0" cy="423.4" r="1.18" fill="#e62a2a"/><circle cx="587.1" cy="425.6" r="1.18" fill="#e62a2a"/><circle cx="588.2" cy="425.9" r="1.18" fill="#e62a2a"/><circle cx="589.3" cy="426.9" r="1.18" fill="#e62a2a"/><circle cx="590.4" cy="427.7" r="1.18" fill="#e62a2a"/><circle cx="591.5" cy="428.0" r="1.18" fill="#e62a2a"/><circle cx="592.6" cy="429.0" r="1.18" fill="#e62a2a"/><circle cx="593.7" cy="430.1" r="1.18" fill="#e62a2a"/><circle cx="594.8" cy="432.0" r="1.18" fill="#e62a2a"/><circle cx="595.9" cy="432.3" r="1.18" fill="#e62a2a"/><circle cx="597.0" cy="433.7" r="1.18" fill="#e62a2a"/><circle cx="598.1" cy="434.9" r="1.18" fill="#e62a2a"/><circle cx="599.2" cy="436.4" r="1.18" fill="#e62a2a"/><circle cx="600.3" cy="437.7" r="1.18" fill="#e62a2a"/><circle cx="601.4" cy="438.9" r="1.18" fill="#e62a2a"/><circle cx="602.5" cy="439.8" r="1.18" fill="#e62a2a"/><circle cx="603.6" cy="440.6" r="1.18" fill="#e62a2a"/><circle cx="604.7" cy="443.0" r="1.18" fill="#e62a2a"/><circle cx="605.8" cy="444.5" r="1.18" fill="#e62a2a"/><circle cx="606.9" cy="446.3" r="1.18" fill="#e62a2a"/><circle cx="608.0" cy="447.5" r="1.18" fill="#e62a2a"/><circle cx="609.1" cy="449.0" r="1.18" fill="#e62a2a"/><circle cx="610.2" cy="450.9" r="1.18" fill="#e62a2a"/><circle cx="611.3" cy="451.9" r="1.18" fill="#e62a2a"/><circle cx="612.4" cy="453.6" r="1.18" fill="#e62a2a"/><circle cx="613.5" cy="455.1" r="1.18" fill="#e62a2a"/><circle cx="614.6" cy="456.9" r="1.18" fill="#e62a2a"/><circle cx="615.7" cy="458.9" r="1.18" fill="#e62a2a"/><circle cx="616.8" cy="459.9" r="1.18" fill="#e62a2a"/><circle cx="617.9" cy="461.3" r="1.18" fill="#e62a2a"/><circle cx="619.0" cy="462.4" r="1.18" fill="#e62a2a"/><circle cx="620.1" cy="463.7" r="1.18" fill="#e62a2a"/><circle cx="621.2" cy="464.8" r="1.18" fill="#e62a2a"/><circle cx="622.3" cy="466.1" r="1.18" fill="#e62a2a"/><circle cx="623.4" cy="466.7" r="1.18" fill="#e62a2a"/><circle cx="624.5" cy="468.3" r="1.18" fill="#e62a2a"/><circle cx="625.6" cy="469.5" r="1.18" fill="#e62a2a"/><circle cx="626.7" cy="471.4" r="1.18" fill="#e62a2a"/><circle cx="627.8" cy="472.6" r="1.18" fill="#e62a2a"/><circle cx="628.9" cy="473.9" r="1.18" fill="#e62a2a"/><circle cx="630.0" cy="475.2" r="1.18" fill="#e62a2a"/><circle cx="631.1" cy="475.8" r="1.18" fill="#e62a2a"/><circle cx="632.2" cy="477.3" r="1.18" fill="#e62a2a"/><circle cx="633.3" cy="478.5" r="1.18" fill="#e62a2a"/><circle cx="634.4" cy="478.9" r="1.18" fill="#e62a2a"/><circle cx="635.5" cy="480.0" r="1.18" fill="#e62a2a"/><circle cx="636.6" cy="480.3" r="1.18" fill="#e62a2a"/><circle cx="637.7" cy="480.6" r="1.18" fill="#e62a2a"/><circle cx="638.8" cy="481.8" r="1.18" fill="#e62a2a"/><circle cx="639.9" cy="482.1" r="1.18" fill="#e62a2a"/><circle cx="641.0" cy="483.0" r="1.18" fill="#e62a2a"/><circle cx="642.1" cy="483.3" r="1.18" fill="#e62a2a"/><circle cx="643.2" cy="484.0" r="1.18" fill="#e62a2a"/><circle cx="644.3" cy="483.7" r="1.18" fill="#e62a2a"/><circle cx="645.4" cy="485.3" r="1.18" fill="#e62a2a"/><circle cx="646.5" cy="485.4" r="1.18" fill="#e62a2a"/><circle cx="647.6" cy="485.1" r="1.18" fill="#e62a2a"/><circle cx="648.7" cy="485.2" r="1.18" fill="#e62a2a"/><circle cx="649.8" cy="485.6" r="1.18" fill="#e62a2a"/><circle cx="650.9" cy="486.0" r="1.18" fill="#e62a2a"/><circle cx="652.0" cy="486.1" r="1.18" fill="#e62a2a"/><circle cx="653.1" cy="486.3" r="1.18" fill="#e62a2a"/><circle cx="654.2" cy="485.7" r="1.18" fill="#e62a2a"/><circle cx="655.3" cy="486.1" r="1.18" fill="#e62a2a"/><circle cx="656.4" cy="487.0" r="1.18" fill="#e62a2a"/><circle cx="657.5" cy="486.8" r="1.18" fill="#e62a2a"/><circle cx="658.6" cy="486.5" r="1.18" fill="#e62a2a"/><circle cx="659.7" cy="486.8" r="1.18" fill="#e62a2a"/><circle cx="660.8" cy="486.9" r="1.18" fill="#e62a2a"/><circle cx="661.9" cy="487.2" r="1.18" fill="#e62a2a"/><circle cx="663.0" cy="488.0" r="1.18" fill="#e62a2a"/><circle cx="664.1" cy="487.8" r="1.18" fill="#e62a2a"/><circle cx="665.2" cy="488.4" r="1.18" fill="#e62a2a"/><circle cx="666.3" cy="488.3" r="1.18" fill="#e62a2a"/><circle cx="667.4" cy="487.9" r="1.18" fill="#e62a2a"/><circle cx="668.5" cy="488.3" r="1.18" fill="#e62a2a"/><circle cx="669.6" cy="489.2" r="1.18" fill="#e62a2a"/><circle cx="670.7" cy="488.3" r="1.18" fill="#e62a2a"/><circle cx="671.8" cy="488.2" r="1.18" fill="#e62a2a"/><circle cx="672.9" cy="488.9" r="1.18" fill="#e62a2a"/><circle cx="674.0" cy="488.5" r="1.18" fill="#e62a2a"/><circle cx="675.1" cy="488.5" r="1.18" fill="#e62a2a"/><circle cx="676.2" cy="488.9" r="1.18" fill="#e62a2a"/><circle cx="677.3" cy="488.0" r="1.18" fill="#e62a2a"/><circle cx="678.4" cy="488.6" r="1.18" fill="#e62a2a"/><circle cx="679.5" cy="488.2" r="1.18" fill="#e62a2a"/><circle cx="680.6" cy="488.1" r="1.18" fill="#e62a2a"/>
<circle cx="478.3" cy="394.4" r="1.3" fill="#e62a2a"/>
<circle cx="478.3" cy="444.7" r="1.2" fill="#3a3a3a"/>
<circle cx="478.3" cy="481.9" r="1.1" fill="#3a3a3a"/>
<circle cx="451.4" cy="368.3" r="14" fill="url(#rs)"/>
<circle cx="461.5" cy="383.4" r="5.5" fill="url(#gs)"/>
<circle cx="450.8" cy="493.2" r="13.2" fill="url(#rs)"/>
<circle cx="475.8" cy="502.1" r="5.2" fill="url(#gs)"/>
<text x="394.6" y="403.3" font-size="15" font-family="Liberation Sans, sans-serif" fill="#111">Strong</text>
<text x="400" y="473.9" font-size="15" font-family="Liberation Sans, sans-serif" fill="#111">Weak</text>
<text x="414.6" y="436.7" font-size="15" font-family="Liberation Sans, sans-serif" fill="#111"><tspan font-style="italic">G</tspan><tspan font-size="11" dy="4.4">cross</tspan><tspan dy="-4.4">(</tspan><tspan font-family="Liberation Serif, serif">τ</tspan>)</text>
<path d="M451.6,394.2 L458.6,406 L454.3,406 L454.3,419.4 L449,419.4 L449,406 L444.8,406 Z" fill="#000"/>
<path d="M449,449.2 L454.3,449.2 L454.3,465.6 L446.8,478.6 L439.5,465.6 L449,465.6 Z" fill="#000"/>
<text x="483.6" y="506.4" font-size="14" font-family="Liberation Sans, sans-serif" fill="#111">0<tspan font-size="10" dx="0.3" dy="-3.3">0</tspan></text>
<text x="563.6" y="506.4" font-size="14" font-family="Liberation Sans, sans-serif" fill="#111" text-anchor="middle">10<tspan font-size="10.1" dx="0.2" dy="-3.5">2</tspan></text>
<text x="642" y="506.4" font-size="14" font-family="Liberation Sans, sans-serif" fill="#111" text-anchor="middle">10<tspan font-size="10.1" dx="0.2" dy="-3.5">4</tspan></text>
<text x="569.2" y="531.2" font-size="15" font-family="Liberation Sans, sans-serif" fill="#111" text-anchor="middle">Lag time (<tspan font-family="Liberation Serif, serif">τ</tspan>)</text>
<text x="557.6" y="376.4" font-size="15" font-family="Liberation Sans, sans-serif" fill="#1aa85a"><tspan font-style="italic">G</tspan><tspan font-size="11.2" dy="4.6">g</tspan><tspan dy="-4.6"> (</tspan><tspan font-family="Liberation Serif, serif">τ</tspan>)</text>
<text x="597.2" y="417.7" font-size="15" font-family="Liberation Sans, sans-serif" fill="#e02020"><tspan font-style="italic">G</tspan><tspan font-size="11.2" dy="4.6">r</tspan><tspan dy="-4.6"> (</tspan><tspan font-family="Liberation Serif, serif">τ</tspan>)</text>
<text x="549.5" y="601.2" font-size="15" font-family="Liberation Sans, sans-serif" fill="#111" text-anchor="middle">Fluorescence cross-correlation</text>
</svg>
</body></html>
